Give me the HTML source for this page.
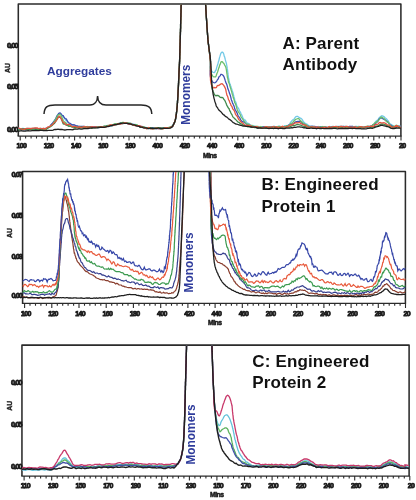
<!DOCTYPE html>
<html><head><meta charset="utf-8"><style>
html,body{margin:0;padding:0;background:#fff;width:416px;height:500px;overflow:hidden}
svg{display:block;will-change:transform;filter:blur(0.3px)}
text{font-family:"Liberation Sans",sans-serif;font-weight:bold}
.title{font-size:17px;fill:#111;letter-spacing:0.15px}
.agg{font-size:11.8px;fill:#2f3c9c}
.mono{font-size:11.9px;fill:#2f3c9c}
.tl{font-size:7px;fill:#1a1a1a;stroke:#1a1a1a;stroke-width:0.75px;text-anchor:middle;letter-spacing:-0.65px}
.yl{font-size:7.5px;fill:#1a1a1a;stroke:#1a1a1a;stroke-width:0.8px;text-anchor:end;letter-spacing:-1px}
.au{font-size:7px;fill:#1a1a1a;stroke:#1a1a1a;stroke-width:0.4px;text-anchor:middle}
.mins{font-size:6.8px;fill:#1a1a1a;stroke:#1a1a1a;stroke-width:0.5px;letter-spacing:-0.5px}
</style></head><body>
<svg width="416" height="500" viewBox="0 0 416 500">
<defs>
<clipPath id="clipA"><rect x="18.3" y="4.6" width="382.6" height="131.4"/></clipPath>
<clipPath id="clipB"><rect x="22.6" y="172.1" width="382.8" height="131.3"/></clipPath>
<clipPath id="clipC"><rect x="21.95" y="345.7" width="387.15" height="130.3"/></clipPath>
</defs>
<path d="M18.3,136 L18.3,4 L400.9,4 L400.9,136" fill="none" stroke="#2b2b2b" stroke-width="1.55" stroke-linejoin="round"/>
<path d="M17.6,136 L401.59999999999997,136" fill="none" stroke="#2b2b2b" stroke-width="1.25"/>
<path d="M20.2,136 L20.2,140.6 M25.6,136 L25.6,138.4 M31.1,136 L31.1,138.4 M36.5,136 L36.5,138.4 M42.0,136 L42.0,138.4 M47.4,136 L47.4,140.6 M52.8,136 L52.8,138.4 M58.3,136 L58.3,138.4 M63.7,136 L63.7,138.4 M69.2,136 L69.2,138.4 M74.6,136 L74.6,140.6 M80.0,136 L80.0,138.4 M85.5,136 L85.5,138.4 M90.9,136 L90.9,138.4 M96.4,136 L96.4,138.4 M101.8,136 L101.8,140.6 M107.2,136 L107.2,138.4 M112.7,136 L112.7,138.4 M118.1,136 L118.1,138.4 M123.6,136 L123.6,138.4 M129.0,136 L129.0,140.6 M134.4,136 L134.4,138.4 M139.9,136 L139.9,138.4 M145.3,136 L145.3,138.4 M150.8,136 L150.8,138.4 M156.2,136 L156.2,140.6 M161.6,136 L161.6,138.4 M167.1,136 L167.1,138.4 M172.5,136 L172.5,138.4 M178.0,136 L178.0,138.4 M183.4,136 L183.4,140.6 M188.8,136 L188.8,138.4 M194.3,136 L194.3,138.4 M199.7,136 L199.7,138.4 M205.2,136 L205.2,138.4 M210.6,136 L210.6,140.6 M216.0,136 L216.0,138.4 M221.5,136 L221.5,138.4 M226.9,136 L226.9,138.4 M232.4,136 L232.4,138.4 M237.8,136 L237.8,140.6 M243.2,136 L243.2,138.4 M248.7,136 L248.7,138.4 M254.1,136 L254.1,138.4 M259.6,136 L259.6,138.4 M265.0,136 L265.0,140.6 M270.4,136 L270.4,138.4 M275.9,136 L275.9,138.4 M281.3,136 L281.3,138.4 M286.8,136 L286.8,138.4 M292.2,136 L292.2,140.6 M297.6,136 L297.6,138.4 M303.1,136 L303.1,138.4 M308.5,136 L308.5,138.4 M314.0,136 L314.0,138.4 M319.4,136 L319.4,140.6 M324.8,136 L324.8,138.4 M330.3,136 L330.3,138.4 M335.7,136 L335.7,138.4 M341.2,136 L341.2,138.4 M346.6,136 L346.6,140.6 M352.0,136 L352.0,138.4 M357.5,136 L357.5,138.4 M362.9,136 L362.9,138.4 M368.4,136 L368.4,138.4 M373.8,136 L373.8,140.6 M379.2,136 L379.2,138.4 M384.7,136 L384.7,138.4 M390.1,136 L390.1,138.4 M395.6,136 L395.6,138.4 M401.0,136 L401.0,140.6" stroke="#2b2b2b" stroke-width="1.1" fill="none"/>
<text x="21.4" y="147.6" class="tl">100</text>
<text x="48.6" y="147.6" class="tl">120</text>
<text x="75.8" y="147.6" class="tl">140</text>
<text x="103.0" y="147.6" class="tl">160</text>
<text x="130.2" y="147.6" class="tl">180</text>
<text x="157.4" y="147.6" class="tl">400</text>
<text x="184.6" y="147.6" class="tl">420</text>
<text x="211.8" y="147.6" class="tl">440</text>
<text x="239.0" y="147.6" class="tl">460</text>
<text x="266.2" y="147.6" class="tl">200</text>
<text x="293.4" y="147.6" class="tl">220</text>
<text x="320.6" y="147.6" class="tl">240</text>
<text x="347.8" y="147.6" class="tl">260</text>
<text x="375.0" y="147.6" class="tl">280</text>
<text x="402.2" y="147.6" class="tl">20</text>
<text x="17.5" y="47.6" class="yl">0.00</text>
<text x="17.5" y="89.4" class="yl">0.05</text>
<text x="17.5" y="131.6" class="yl">0.00</text>
<text transform="translate(10.3,68) rotate(-90)" class="au">AU</text>
<text x="203" y="158" class="mins">Mins</text>
<g clip-path="url(#clipA)">
<path d="M18.0,128.5 18.1,128.5 18.4,128.5 18.9,128.4 19.5,128.3 20.3,128.6 21.2,129.0 22.2,128.5 23.3,128.4 24.5,128.9 25.8,128.7 27.1,128.3 28.5,128.5 29.8,128.6 31.2,128.3 32.5,128.7 33.8,128.3 35.1,128.2 36.2,128.4 37.3,128.8 38.4,129.1 39.2,129.0 40.0,128.5 41.2,128.3 42.3,128.5 43.3,129.0 44.3,129.2 45.1,129.4 46.0,129.0 47.1,128.3 48.1,127.6 49.1,127.5 50.0,126.6 50.8,125.1 51.5,125.1 52.2,124.2 53.0,122.7 53.7,121.6 54.4,120.5 54.9,119.8 55.5,119.0 56.0,118.5 56.6,117.0 57.1,115.7 57.6,115.2 58.2,114.5 58.7,113.9 59.3,113.5 60.0,113.5 60.8,114.2 61.6,115.0 62.4,115.5 63.2,116.5 64.0,117.6 64.7,118.6 65.4,119.8 66.2,120.4 66.9,121.0 67.7,121.6 68.4,122.6 69.2,123.3 70.0,123.8 71.0,124.1 71.9,124.6 72.9,125.5 73.9,125.8 74.9,125.9 76.0,125.7 77.0,126.0 78.0,126.3 79.1,126.3 80.1,126.6 81.2,126.9 82.3,126.8 83.3,126.5 84.4,126.4 85.5,127.2 86.6,126.9 87.7,126.4 88.8,126.9 90.0,127.3 90.9,127.3 91.9,126.8 92.9,126.9 93.9,127.1 94.9,126.7 96.0,126.8 97.0,127.4 98.0,127.5 99.0,127.4 100.0,127.1 101.0,127.3 102.1,127.2 103.1,126.6 104.1,126.6 105.0,126.7 106.0,126.5 107.0,126.3 108.0,126.1 109.0,125.8 110.0,125.7 111.0,125.8 112.0,125.8 113.0,125.5 114.0,124.8 115.0,124.6 116.0,124.5 117.1,123.7 118.1,123.6 119.2,123.9 120.3,123.7 121.4,123.7 122.5,123.8 123.6,123.6 124.6,123.1 125.7,122.8 126.7,123.0 127.8,123.4 128.8,123.7 129.9,123.2 130.9,123.7 132.0,124.2 133.0,124.1 134.0,124.3 135.0,124.5 136.1,124.7 137.1,125.5 138.1,126.2 139.1,125.9 140.0,126.0 141.0,126.4 142.0,126.8 142.9,127.4 143.8,128.1 144.9,127.7 146.0,127.5 146.8,127.9 147.7,128.1 148.7,128.3 149.7,128.6 150.7,128.8 151.8,128.8 152.9,128.8 154.0,128.6 155.0,128.0 156.1,128.0 157.1,128.1 158.2,128.0 159.1,128.4 160.0,128.8 161.1,128.9 162.2,128.4 163.3,127.7 164.3,127.7 165.3,127.7 166.3,127.8 167.2,127.7 168.0,127.6 169.3,127.7 170.5,127.6 171.5,127.0 172.2,126.0 172.9,124.9 173.5,123.9 174.0,123.4 174.5,122.3 174.8,121.4 175.2,120.5 175.5,119.7 175.7,118.7 175.8,117.6 176.0,116.6 176.1,115.5 176.3,114.6 176.4,113.7 176.5,112.5 176.7,110.8 176.8,110.2 176.9,109.7 177.0,108.4 177.1,107.6 177.2,106.7 177.3,105.7 177.3,104.5 177.4,103.2 177.5,102.1 177.5,101.0 177.6,99.7 177.7,99.0 177.7,98.2 177.8,96.6 177.9,95.4 177.9,94.4 178.0,93.5 178.0,92.5 178.1,91.4 178.1,90.6 178.2,89.7 178.3,88.3 178.3,87.2 178.4,86.2 178.4,85.3 178.5,84.3 178.5,83.3 178.6,82.6 178.6,81.6 178.6,80.3 178.7,79.9 178.7,79.5 178.8,78.3 178.8,76.9 178.9,75.5 178.9,74.6 178.9,73.7 179.0,72.8 179.0,71.9 179.1,71.0 179.1,70.0 179.2,69.0 179.2,68.7 179.3,68.2 179.3,67.4 179.4,66.1 179.4,64.6 179.5,63.6 179.5,62.2 179.6,60.7 179.6,59.4 179.6,58.9 179.7,58.3 179.7,57.5 179.7,56.7 179.7,56.1 179.8,55.7 179.8,54.4 179.8,53.0 179.9,51.9 179.9,51.2 179.9,51.1 179.9,49.9 180.0,48.4 180.0,47.0 180.0,46.1 180.1,45.2 180.1,43.5 180.1,42.8 180.2,42.1 180.2,41.5 180.2,40.2 180.3,38.9 180.3,37.5 180.3,35.8 180.4,34.7 180.4,33.4 180.4,32.2 180.5,31.7 180.5,30.4 180.5,29.2 180.6,28.2 180.6,26.6 180.6,25.2 180.6,24.2 180.7,23.7 180.7,22.7 180.7,21.6 180.8,20.4 180.8,19.3 180.8,18.2 180.9,17.1 180.9,16.0 180.9,14.7 180.9,13.2 181.0,12.5 181.0,11.7 181.0,10.7 181.0,9.6 181.1,8.4 181.1,7.5 181.1,6.7 181.1,6.1 181.1,5.5 181.2,4.9 181.2,4.3 181.2,3.6 181.2,2.8 181.3,1.8 181.3,-0.0 181.4,-1.3 181.4,-2.1 181.4,-3.1 181.5,-4.0 181.5,-4.7 181.5,-5.3 181.5,-5.5" stroke="#72c9e6" stroke-width="1.3" fill="none"/>
<path d="M205.0,-6.4 205.0,-6.4 205.0,-6.2 205.0,-6.0 205.0,-5.7 205.1,-5.3 205.1,-4.8 205.1,-4.3 205.2,-3.7 205.2,-3.0 205.2,-2.2 205.3,-1.3 205.3,-0.1 205.4,1.2 205.5,2.4 205.5,3.4 205.6,4.3 205.6,5.1 205.7,6.4 205.8,7.7 205.9,8.9 205.9,9.3 206.0,11.2 206.1,12.9 206.2,14.3 206.3,15.5 206.3,16.8 206.4,17.8 206.5,18.7 206.6,20.5 206.7,21.9 206.8,23.0 206.9,24.9 206.9,26.4 207.0,27.2 207.1,28.2 207.2,29.6 207.3,31.4 207.4,32.4 207.5,33.0 207.5,33.7 207.6,34.8 207.7,35.8 207.8,37.0 207.9,38.6 207.9,39.7 208.0,40.5 208.1,41.1 208.2,42.1 208.3,44.0 208.5,45.3 208.6,46.3 208.7,47.0 208.8,47.8 209.0,48.8 209.1,50.0 209.2,50.6 209.4,51.3 209.5,52.2 209.6,53.8 209.7,55.4 209.8,56.1 209.9,56.8 210.0,57.5 210.1,58.6 210.2,59.7 210.3,60.4 210.4,61.2 210.4,62.8 210.4,64.0 210.4,64.8 210.4,65.3 210.4,66.3 210.4,67.3 210.5,68.2 210.7,69.0 211.0,69.6 211.6,70.9 212.5,72.0 213.3,72.3 214.2,72.6 214.6,72.4 214.9,72.0 215.3,71.1 215.7,70.3 216.1,70.1 216.4,68.6 216.8,67.1 217.2,65.9 217.6,64.7 218.0,63.6 218.4,61.6 218.8,60.8 219.2,59.0 219.5,57.6 219.9,56.4 220.3,55.1 220.7,53.7 221.0,53.0 221.3,52.7 221.7,52.4 222.0,52.2 222.5,52.2 222.9,52.5 223.3,53.1 223.8,54.2 224.2,56.2 224.6,56.7 224.9,58.0 225.3,59.7 225.7,61.1 226.0,62.1 226.2,62.7 226.4,63.5 226.6,64.6 226.8,65.7 227.0,66.7 227.1,68.0 227.3,68.9 227.4,69.2 227.6,70.6 227.7,71.8 227.8,72.6 228.0,73.7 228.1,74.9 228.3,76.5 228.4,77.3 228.6,78.1 228.8,79.1 229.0,80.2 229.3,81.5 229.5,82.7 229.8,83.5 230.2,84.2 230.5,85.4 230.8,86.3 231.1,87.3 231.4,88.2 231.8,89.3 232.1,90.4 232.4,91.2 232.7,92.0 233.0,93.0 233.3,94.1 233.6,95.3 233.9,96.7 234.2,97.6 234.5,98.5 234.7,99.7 235.0,100.7 235.3,101.6 235.7,101.9 236.0,102.8 236.4,104.2 236.8,105.6 237.2,106.7 237.7,107.4 238.1,107.7 238.6,108.6 239.1,109.7 239.5,111.0 240.0,111.6 240.5,112.4 240.9,113.5 241.4,114.3 241.9,115.2 242.4,116.6 242.9,117.7 243.4,118.6 244.0,119.5 244.6,120.1 245.3,120.2 246.0,121.4 246.7,122.4 247.4,123.1 248.2,123.3 249.0,123.6 249.9,124.8 250.9,125.6 251.9,126.0 252.9,125.5 254.0,126.1 255.0,126.8 256.0,126.5 257.0,126.6 257.9,126.8 258.9,127.4 259.8,127.7 260.9,127.6 262.0,127.1 262.8,126.6 263.8,126.9 264.7,127.1 265.7,127.1 266.8,127.0 267.9,126.8 268.9,126.6 270.0,126.6 271.1,126.8 272.1,127.1 273.1,126.7 274.1,126.2 275.0,126.6 276.2,126.8 277.4,126.6 278.5,126.2 279.6,126.4 280.7,126.7 281.7,126.9 282.7,126.8 283.8,126.4 284.8,125.8 285.8,126.1 286.8,126.5 287.7,125.9 288.5,125.4 289.2,124.9 289.9,123.5 290.6,122.2 291.3,121.5 292.0,120.6 292.7,119.9 293.5,119.9 294.4,118.6 295.2,117.4 296.0,116.5 296.9,116.3 297.7,116.4 298.5,117.0 299.4,117.6 300.2,118.2 301.0,118.4 301.9,119.1 302.7,120.4 303.4,121.7 304.1,122.2 304.8,122.9 305.5,123.8 306.2,123.9 306.9,124.2 307.7,124.7 308.6,125.6 309.6,126.4 310.6,126.3 311.6,126.2 312.7,126.1 313.6,127.0 314.6,127.5 315.5,127.3 316.5,127.3 317.6,127.4 318.7,126.6 320.0,127.2 320.7,127.5 321.5,127.0 322.3,126.6 323.2,127.3 324.1,127.5 325.1,127.1 326.1,126.9 327.1,126.9 328.2,127.1 329.2,127.3 330.3,127.6 331.4,126.9 332.5,126.5 333.6,126.5 334.7,126.9 335.8,126.7 337.0,126.4 338.0,126.3 339.1,126.3 340.2,126.3 341.2,126.2 342.2,126.3 343.2,126.4 344.1,126.5 345.0,126.5 346.1,126.5 347.2,127.0 348.3,127.0 349.4,126.6 350.5,126.8 351.5,126.8 352.5,126.5 353.6,126.7 354.5,126.7 355.5,126.4 356.5,126.5 357.4,126.7 358.3,126.5 359.2,126.5 360.0,127.1 361.2,127.3 362.4,127.1 363.5,126.6 364.6,126.7 365.6,127.0 366.6,127.3 367.6,126.8 368.6,126.0 369.6,126.5 370.6,126.4 371.5,125.7 372.4,125.2 373.1,124.8 373.8,124.4 374.5,123.5 375.2,122.2 375.8,121.5 376.5,120.8 377.2,120.2 378.0,119.7 378.8,118.3 379.6,117.2 380.4,116.8 381.2,116.1 382.0,115.8 382.8,116.0 383.6,116.4 384.4,117.0 385.2,117.9 386.0,118.6 386.8,119.3 387.5,120.1 388.2,120.9 388.8,122.1 389.5,123.6 390.2,123.9 390.9,124.3 391.6,124.8 392.6,125.2 393.8,126.1 395.0,127.1 395.9,127.3 396.4,127.2 396.2,126.7 396.0,126.2 396.6,126.0 397.9,125.8 399.3,126.0 400.5,126.3 401.0,126.5" stroke="#72c9e6" stroke-width="1.3" fill="none"/>
<path d="M18.0,129.0 18.1,129.0 18.4,128.9 18.9,128.8 19.5,128.6 20.3,128.8 21.2,129.0 22.2,128.9 23.3,129.1 24.5,129.8 25.8,129.8 27.1,129.4 28.5,129.0 29.8,129.2 31.2,129.6 32.5,128.9 33.8,128.9 35.1,128.6 36.2,128.6 37.3,129.0 38.4,129.0 39.2,129.1 40.0,129.1 41.2,128.9 42.3,128.8 43.3,129.1 44.3,128.9 45.1,128.4 46.0,128.4 47.1,128.1 48.1,127.4 49.1,127.0 50.0,126.2 50.7,125.2 51.3,124.5 51.9,123.8 52.6,123.2 53.2,122.3 53.8,121.5 54.4,120.9 54.9,120.0 55.5,119.1 56.0,118.1 56.5,116.9 57.1,115.9 57.6,115.0 58.2,114.4 58.7,113.5 59.3,113.0 60.0,112.9 60.8,113.4 61.6,114.6 62.4,115.6 63.2,115.7 64.0,117.2 64.7,118.0 65.4,118.7 66.2,118.9 66.9,120.1 67.7,121.6 68.4,122.5 69.2,123.0 70.0,123.4 70.9,124.1 71.9,124.7 72.9,124.9 73.9,124.6 74.9,125.1 76.0,125.6 77.0,125.8 78.0,126.2 79.1,126.5 80.1,126.5 81.2,126.5 82.3,126.5 83.3,126.4 84.4,126.7 85.5,127.1 86.6,127.1 87.7,127.3 88.8,127.2 90.0,126.8 90.9,126.7 91.9,126.7 92.9,126.8 93.9,126.9 94.9,127.0 96.0,126.7 97.0,127.1 98.0,127.6 99.0,127.3 100.0,127.1 101.0,127.1 102.1,127.0 103.1,126.9 104.1,126.9 105.0,126.6 106.0,126.2 107.0,125.6 108.0,125.7 109.0,126.3 110.0,126.0 111.0,125.7 112.0,125.2 113.0,125.0 114.0,124.8 115.0,124.7 116.0,124.1 117.1,123.6 118.1,124.1 119.2,123.6 120.3,123.0 121.4,122.6 122.5,122.7 123.6,122.9 124.6,123.3 125.7,122.9 126.7,123.0 127.8,123.7 128.8,124.1 129.9,124.3 130.9,124.1 132.0,124.2 133.0,124.4 134.0,124.8 135.0,125.2 136.1,125.7 137.1,126.1 138.1,126.2 139.1,126.4 140.0,126.7 141.0,126.6 142.0,126.4 142.9,126.8 143.8,127.1 144.9,127.4 146.0,128.1 146.8,128.3 147.7,128.0 148.7,128.1 149.7,128.4 150.7,127.8 151.8,127.6 152.9,127.6 154.0,127.8 155.0,128.1 156.1,128.5 157.1,128.5 158.2,128.5 159.1,128.5 160.0,128.2 161.1,127.9 162.2,128.2 163.3,128.2 164.3,128.2 165.3,128.1 166.3,127.9 167.2,127.6 168.0,128.0 169.3,128.1 170.5,127.1 171.5,127.4 172.2,127.0 172.9,126.0 173.5,124.1 174.0,123.1 174.5,122.5 174.8,121.8 175.2,120.9 175.5,119.4 175.7,118.2 175.8,117.1 176.0,116.1 176.1,115.1 176.3,114.4 176.4,114.1 176.5,112.4 176.7,111.1 176.8,110.3 176.9,108.8 177.0,107.7 177.1,107.1 177.2,106.6 177.3,105.8 177.3,104.1 177.4,103.1 177.5,102.7 177.5,101.4 177.6,100.4 177.7,99.7 177.7,98.6 177.8,97.2 177.9,95.7 177.9,95.1 178.0,94.5 178.0,93.1 178.1,91.6 178.1,90.3 178.2,89.3 178.3,88.4 178.3,87.9 178.4,86.9 178.4,85.8 178.5,84.6 178.5,83.5 178.6,82.4 178.6,81.6 178.6,80.7 178.7,79.7 178.7,79.1 178.8,78.3 178.8,76.5 178.9,75.7 178.9,75.4 178.9,74.5 179.0,73.3 179.0,71.8 179.1,71.1 179.1,70.9 179.2,69.9 179.2,68.9 179.3,68.1 179.3,67.1 179.4,65.5 179.4,64.4 179.5,63.4 179.5,62.3 179.6,61.7 179.6,60.5 179.6,59.5 179.7,58.6 179.7,57.7 179.7,56.8 179.7,56.0 179.8,55.1 179.8,54.1 179.8,53.0 179.9,51.9 179.9,50.9 179.9,50.3 179.9,50.0 180.0,48.5 180.0,47.4 180.0,47.0 180.1,45.3 180.1,43.8 180.1,42.7 180.2,41.8 180.2,40.6 180.2,39.2 180.3,38.2 180.3,37.6 180.3,36.8 180.4,35.5 180.4,34.2 180.4,32.9 180.5,31.7 180.5,30.8 180.5,29.7 180.6,28.2 180.6,26.8 180.6,25.9 180.6,24.0 180.7,23.0 180.7,22.4 180.7,21.0 180.8,20.0 180.8,19.1 180.8,18.0 180.9,16.6 180.9,15.3 180.9,14.0 180.9,13.5 181.0,13.3 181.0,11.6 181.0,10.3 181.0,9.7 181.1,9.0 181.1,8.0 181.1,7.2 181.1,6.4 181.1,5.8 181.2,5.4 181.2,5.0 181.2,4.5 181.2,2.9 181.3,0.9 181.3,-0.0 181.4,-1.8 181.4,-2.8 181.4,-3.8 181.5,-4.9 181.5,-5.7 181.5,-6.2 181.5,-6.4" stroke="#4050b4" stroke-width="1.3" fill="none"/>
<path d="M205.0,-6.5 205.0,-6.5 205.0,-6.3 205.0,-6.1 205.0,-5.7 205.1,-5.3 205.1,-4.8 205.1,-3.9 205.2,-2.9 205.2,-2.0 205.2,-1.6 205.3,-1.0 205.3,-0.4 205.4,0.7 205.5,2.3 205.5,3.6 205.6,4.5 205.6,5.0 205.7,5.8 205.8,6.9 205.9,8.1 205.9,9.3 206.0,10.8 206.1,12.0 206.2,13.2 206.3,14.7 206.3,16.1 206.4,17.8 206.5,19.5 206.6,20.9 206.7,22.0 206.8,23.0 206.9,24.3 206.9,25.8 207.0,26.9 207.1,28.1 207.2,29.2 207.3,30.1 207.4,31.6 207.5,33.3 207.5,34.7 207.6,34.9 207.7,36.1 207.8,37.4 207.9,38.4 207.9,39.5 208.0,40.5 208.1,41.2 208.2,41.9 208.3,43.1 208.5,44.2 208.6,45.3 208.7,46.5 208.9,47.5 209.0,48.7 209.1,50.2 209.2,51.2 209.4,52.0 209.5,53.0 209.6,53.6 209.7,53.8 209.8,54.5 209.9,55.5 210.0,57.0 210.1,58.4 210.2,59.6 210.3,60.3 210.4,61.0 210.4,62.2 210.4,63.0 210.4,63.6 210.4,65.2 210.3,66.8 210.3,68.3 210.3,69.4 210.2,70.5 210.2,71.7 210.2,72.9 210.2,73.2 210.2,73.8 210.2,74.6 210.3,75.5 210.4,76.4 210.6,77.4 210.8,78.4 211.0,79.1 211.6,80.4 212.3,81.7 213.1,82.3 213.9,82.7 214.8,82.8 215.4,82.5 216.0,82.0 216.7,81.1 217.4,79.8 218.2,78.8 218.9,77.0 219.6,76.4 220.3,75.6 220.9,74.3 221.5,74.3 222.0,74.5 222.6,74.9 223.2,75.4 223.6,76.1 224.1,77.0 224.5,78.2 225.0,79.7 225.3,80.9 225.7,82.0 226.0,83.0 226.4,83.5 226.7,84.2 227.0,85.2 227.4,86.7 227.7,88.0 228.0,89.1 228.4,90.0 228.7,90.8 229.0,91.6 229.4,93.1 229.7,93.9 230.0,94.4 230.4,95.7 230.7,96.9 231.0,98.1 231.3,99.5 231.7,100.6 232.0,101.2 232.4,102.5 232.7,103.4 233.1,104.0 233.4,104.8 233.8,105.6 234.2,106.6 234.6,108.3 235.0,109.6 235.4,110.3 235.9,110.9 236.4,111.6 236.9,112.6 237.4,114.1 237.9,115.3 238.5,116.3 239.0,116.9 239.6,117.7 240.2,118.7 240.9,120.0 241.6,121.0 242.3,121.6 243.0,121.7 243.9,122.1 244.8,122.8 245.8,123.7 246.9,124.4 248.0,125.1 248.9,125.5 249.9,125.3 250.9,125.9 251.9,126.6 253.0,126.8 254.0,126.8 255.0,126.8 256.0,126.7 257.0,127.1 258.0,127.9 258.9,127.4 259.9,127.1 260.9,127.6 262.0,127.3 262.8,126.9 263.8,126.9 264.7,127.0 265.7,127.5 266.8,127.3 267.9,127.1 268.9,127.7 270.0,127.5 271.1,127.0 272.1,126.7 273.1,126.6 274.1,126.6 275.0,126.8 276.2,127.0 277.4,127.3 278.5,127.6 279.6,127.1 280.7,126.6 281.7,126.8 282.7,126.6 283.8,126.6 284.8,127.2 285.8,126.9 286.7,125.9 287.7,125.5 288.7,125.0 289.7,124.5 290.7,124.2 291.7,124.1 292.7,123.8 293.7,123.2 294.7,122.4 295.7,121.9 296.7,121.7 297.7,121.5 298.7,121.3 299.7,121.1 300.7,121.6 301.7,122.8 302.7,123.8 303.7,124.2 304.7,124.1 305.7,124.9 306.7,125.9 307.7,126.0 308.7,126.3 309.6,126.4 310.6,126.5 311.6,126.5 312.7,126.4 313.6,126.4 314.6,126.4 315.5,126.7 316.5,126.9 317.6,127.1 318.7,127.8 320.0,127.2 320.7,126.9 321.5,127.5 322.3,127.9 323.2,127.3 324.1,126.9 325.1,127.0 326.1,127.4 327.1,127.8 328.2,127.7 329.2,127.5 330.3,127.1 331.4,126.6 332.5,126.8 333.6,127.1 334.7,127.0 335.8,127.4 337.0,127.5 338.0,126.7 339.1,126.7 340.2,127.0 341.2,127.5 342.2,126.9 343.2,126.4 344.1,126.7 345.0,127.0 346.1,127.5 347.2,127.4 348.3,127.1 349.4,126.4 350.5,126.4 351.5,126.5 352.5,126.5 353.6,127.3 354.5,127.6 355.5,127.0 356.5,127.2 357.4,127.7 358.3,127.8 359.2,127.8 360.0,127.4 361.2,127.0 362.4,127.1 363.5,127.8 364.6,127.6 365.6,127.2 366.6,126.8 367.6,126.8 368.9,126.9 370.1,126.3 371.3,125.9 372.4,125.2 373.2,124.6 374.0,124.7 374.8,124.3 375.6,123.5 376.4,122.4 377.2,121.9 378.0,121.1 378.8,119.3 379.6,118.6 380.4,118.2 381.2,117.9 382.0,118.0 382.8,118.6 383.6,119.1 384.4,119.7 385.2,119.9 386.0,120.4 386.8,121.1 387.6,122.0 388.4,122.9 389.2,123.9 390.0,125.2 390.8,125.1 391.6,125.5 392.9,126.8 394.5,127.1 395.7,127.5 396.4,127.4 396.2,126.9 396.0,126.4 396.6,126.3 397.9,126.3 399.3,126.3 400.5,126.6 401.0,126.7" stroke="#4050b4" stroke-width="1.3" fill="none"/>
<path d="M18.0,129.7 18.1,129.7 18.4,129.5 18.9,129.2 19.5,128.7 20.3,128.8 21.2,128.9 22.2,129.4 23.3,129.4 24.5,128.9 25.8,128.7 27.1,128.6 28.5,129.1 29.8,129.3 31.2,129.3 32.5,130.0 33.8,129.9 35.1,130.0 36.2,129.6 37.3,128.9 38.4,128.8 39.2,128.7 40.0,128.7 41.2,129.0 42.3,129.4 43.3,129.6 44.3,129.5 45.1,129.2 46.0,128.9 47.1,128.3 48.1,128.0 49.1,127.5 50.0,126.9 50.8,126.2 51.5,125.5 52.2,124.8 53.0,123.9 53.7,122.7 54.4,121.2 55.0,120.4 55.6,119.8 56.3,118.0 56.9,117.1 57.5,115.8 58.1,115.0 58.7,114.7 59.3,114.3 59.9,114.2 60.4,114.6 61.0,115.5 61.6,116.6 62.1,117.7 62.7,119.0 63.3,120.9 64.0,121.5 64.8,122.0 65.6,122.6 66.4,123.5 67.3,124.8 68.2,125.7 69.1,125.8 70.0,126.0 71.0,126.4 71.9,127.2 72.9,127.4 73.9,127.5 75.0,127.9 76.0,127.6 77.0,126.9 78.0,127.3 79.1,127.7 80.2,128.0 81.2,127.9 82.3,128.0 83.3,128.0 84.4,127.1 85.5,126.8 86.6,127.1 87.7,126.9 88.8,126.8 90.0,127.1 90.9,127.8 91.9,127.8 92.9,127.4 93.9,127.7 94.9,127.7 96.0,127.1 97.0,127.4 98.0,127.5 99.0,127.1 100.0,126.8 101.0,126.6 102.1,127.0 103.1,127.2 104.1,127.3 105.0,126.3 106.0,125.9 107.0,126.2 108.0,126.2 109.0,125.9 110.0,125.3 111.0,125.1 112.0,125.0 113.0,124.5 114.0,124.2 115.0,124.0 116.0,123.9 117.1,123.9 118.1,124.0 119.2,123.9 120.3,123.4 121.4,122.8 122.5,122.5 123.6,122.5 124.6,122.8 125.7,123.2 126.7,123.2 127.8,122.9 128.8,123.2 129.9,123.5 130.9,123.7 132.0,124.5 133.0,124.8 134.0,124.8 135.0,124.6 136.1,124.7 137.1,125.1 138.1,125.7 139.1,126.2 140.0,126.6 141.0,126.9 142.0,127.1 142.9,126.9 143.8,127.0 144.9,127.4 146.0,128.1 146.8,128.2 147.7,128.1 148.7,128.0 149.7,127.9 150.7,128.0 151.8,128.4 152.9,128.9 154.0,128.2 155.0,128.2 156.1,128.3 157.1,128.1 158.2,128.0 159.1,128.1 160.0,128.5 161.1,128.8 162.2,128.9 163.3,128.4 164.3,127.9 165.3,127.8 166.3,128.1 167.2,128.4 168.0,127.9 169.3,127.2 170.5,127.0 171.5,127.4 172.2,126.6 172.9,125.4 173.5,124.9 174.0,123.6 174.5,122.5 174.8,122.0 175.2,120.4 175.5,118.7 175.7,117.7 175.8,116.7 176.0,115.8 176.1,115.4 176.3,114.6 176.4,113.7 176.5,112.9 176.7,111.5 176.8,109.7 176.9,109.1 177.0,108.0 177.1,106.9 177.2,106.1 177.3,105.1 177.3,103.8 177.4,102.8 177.5,102.0 177.5,101.2 177.6,100.5 177.7,99.8 177.7,97.9 177.8,96.7 177.9,96.0 177.9,95.3 178.0,94.5 178.0,93.6 178.1,92.0 178.1,90.5 178.2,89.5 178.3,88.9 178.3,88.6 178.4,87.6 178.4,86.4 178.5,84.9 178.5,83.5 178.6,82.5 178.6,82.3 178.6,81.2 178.7,79.8 178.7,79.3 178.8,78.5 178.8,77.2 178.9,76.3 178.9,75.3 178.9,73.7 179.0,72.9 179.0,72.5 179.1,71.3 179.1,70.0 179.2,69.2 179.2,68.5 179.3,68.0 179.3,67.2 179.4,66.2 179.4,64.6 179.5,63.1 179.5,62.1 179.6,61.1 179.6,59.9 179.6,59.3 179.7,58.5 179.7,57.6 179.7,56.7 179.7,55.6 179.8,54.8 179.8,54.0 179.8,53.5 179.9,52.9 179.9,52.1 179.9,50.6 179.9,48.9 180.0,48.4 180.0,47.6 180.0,46.7 180.1,44.9 180.1,44.0 180.1,43.4 180.2,41.5 180.2,40.6 180.2,39.7 180.3,38.5 180.3,37.4 180.3,36.1 180.4,34.7 180.4,33.6 180.4,32.6 180.5,31.4 180.5,30.2 180.5,29.2 180.6,27.9 180.6,26.6 180.6,25.4 180.6,23.8 180.7,23.0 180.7,22.2 180.7,21.0 180.8,19.6 180.8,18.6 180.8,18.1 180.9,17.1 180.9,15.9 180.9,14.6 180.9,13.4 181.0,12.2 181.0,11.6 181.0,10.6 181.0,9.4 181.1,8.5 181.1,7.7 181.1,7.1 181.1,6.5 181.1,5.7 181.2,4.8 181.2,4.1 181.2,3.7 181.2,2.5 181.3,0.9 181.3,-0.7 181.4,-1.4 181.4,-3.2 181.4,-4.0 181.5,-4.4 181.5,-5.0 181.5,-5.4 181.5,-5.6" stroke="#6cbf6c" stroke-width="1.3" fill="none"/>
<path d="M205.0,-6.0 205.0,-6.0 205.0,-5.9 205.0,-5.7 205.0,-5.6 205.1,-5.3 205.1,-5.1 205.1,-4.3 205.2,-3.4 205.2,-2.6 205.2,-1.9 205.3,-1.0 205.3,0.3 205.4,1.2 205.5,1.4 205.5,2.9 205.6,4.5 205.6,5.8 205.7,6.7 205.8,7.8 205.9,9.0 205.9,9.5 206.0,11.5 206.1,12.8 206.2,14.0 206.3,15.7 206.3,17.0 206.4,17.4 206.5,19.2 206.6,21.0 206.7,21.9 206.8,22.6 206.9,24.2 206.9,26.1 207.0,26.8 207.1,28.3 207.2,29.9 207.3,30.5 207.4,32.3 207.5,33.1 207.5,33.8 207.6,35.3 207.7,36.7 207.8,37.8 207.9,38.1 207.9,38.8 208.0,39.6 208.1,41.0 208.2,42.3 208.3,43.2 208.5,44.0 208.6,45.1 208.7,46.3 208.8,47.3 209.0,48.7 209.1,50.4 209.2,51.2 209.4,52.1 209.5,53.2 209.6,53.8 209.7,54.1 209.8,55.5 209.9,56.7 210.0,57.0 210.1,57.8 210.2,59.0 210.3,60.1 210.4,61.3 210.4,62.1 210.4,63.5 210.4,64.9 210.4,65.7 210.3,66.8 210.3,67.9 210.3,69.2 210.4,69.7 210.4,70.1 210.6,71.7 210.7,73.0 211.0,73.4 211.6,74.2 212.3,75.3 213.1,76.7 214.0,76.8 214.8,76.8 215.2,76.9 215.6,76.9 216.1,76.1 216.5,74.8 216.9,73.5 217.4,72.5 217.8,71.3 218.3,69.6 218.7,68.1 219.1,67.4 219.6,65.3 220.0,64.7 220.4,63.8 220.8,62.3 221.2,61.9 221.6,61.7 222.0,61.7 222.6,62.1 223.3,63.0 223.9,63.5 224.5,64.7 225.0,65.7 225.5,66.5 225.8,67.1 226.0,67.9 226.2,68.9 226.4,70.0 226.6,71.3 226.8,72.8 226.9,73.7 227.1,74.7 227.2,75.8 227.4,77.3 227.6,78.1 227.8,78.4 228.0,79.5 228.3,80.8 228.5,82.2 228.8,82.7 229.1,83.3 229.5,84.3 229.8,85.7 230.1,86.8 230.4,87.6 230.8,88.8 231.1,89.9 231.4,90.7 231.7,91.9 232.0,93.1 232.3,94.2 232.6,94.9 232.9,95.8 233.2,97.3 233.5,98.2 233.8,99.0 234.1,99.7 234.4,101.1 234.7,102.6 235.0,102.9 235.4,103.6 235.7,104.6 236.1,105.5 236.4,106.8 236.8,108.3 237.2,109.5 237.6,110.6 238.0,111.4 238.4,112.0 238.9,112.6 239.4,113.4 239.9,114.1 240.4,115.0 240.9,116.5 241.5,117.4 242.0,118.1 242.6,118.8 243.2,119.8 243.9,120.9 244.5,121.5 245.2,122.5 246.0,123.6 246.9,124.1 247.8,124.2 248.9,124.6 249.9,125.7 251.0,125.5 252.0,125.5 253.0,126.3 254.0,126.4 255.1,126.4 256.1,126.4 257.1,126.4 258.0,126.5 259.0,127.3 259.9,127.3 260.9,126.6 262.0,127.1 262.8,127.4 263.6,127.8 264.6,127.7 265.6,126.9 266.6,126.8 267.7,126.9 268.8,127.3 269.9,127.2 271.0,127.2 272.1,127.3 273.1,127.4 274.1,127.3 275.0,126.8 276.2,126.6 277.4,126.7 278.5,126.7 279.6,126.5 280.7,126.7 281.7,127.5 282.7,127.4 283.8,127.2 284.8,127.0 285.8,126.3 286.7,125.7 287.7,126.2 288.6,125.9 289.4,125.3 290.2,124.3 291.0,123.6 291.9,123.2 292.7,122.4 293.7,121.3 294.7,120.3 295.7,119.4 296.7,119.0 297.7,118.7 298.7,118.7 299.7,119.6 300.7,120.8 301.7,121.9 302.7,122.6 303.5,123.3 304.4,124.0 305.2,124.5 306.0,124.7 306.8,125.3 307.7,126.0 308.7,126.3 309.6,126.5 310.6,127.0 311.6,127.0 312.7,126.9 313.6,126.8 314.6,126.9 315.5,127.3 316.5,127.7 317.6,127.7 318.7,126.9 320.0,127.6 320.7,127.6 321.5,127.0 322.3,126.7 323.2,126.9 324.1,126.9 325.1,126.9 326.1,127.3 327.1,127.7 328.2,127.9 329.2,127.8 330.3,127.5 331.4,127.0 332.5,127.4 333.6,127.5 334.7,126.9 335.8,126.8 337.0,127.0 338.0,127.7 339.1,127.4 340.2,127.3 341.2,127.3 342.2,127.3 343.2,127.4 344.1,127.6 345.0,127.4 346.1,127.0 347.2,127.4 348.3,127.5 349.4,127.4 350.5,127.6 351.5,127.4 352.5,127.1 353.6,127.4 354.5,127.5 355.5,127.4 356.5,127.2 357.4,127.0 358.3,126.9 359.2,127.0 360.0,127.3 361.2,127.0 362.4,126.9 363.5,127.8 364.6,127.1 365.6,126.5 366.6,126.3 367.6,126.2 368.9,126.5 370.1,127.1 371.3,126.1 372.4,125.3 373.2,124.6 374.1,123.8 374.8,123.0 375.6,122.4 376.4,122.3 377.2,121.5 378.0,120.7 378.8,120.0 379.6,119.2 380.4,118.0 381.2,117.1 382.0,117.3 382.8,117.8 383.6,118.1 384.4,118.9 385.2,120.2 386.0,121.0 386.8,121.8 387.6,122.4 388.4,122.3 389.2,123.7 389.9,125.0 390.8,125.8 391.6,126.4 392.9,126.3 394.5,126.2 395.7,126.5 396.4,126.4 396.2,125.9 396.0,125.4 396.6,125.3 397.9,126.1 399.3,127.0 400.5,127.3 401.0,127.3" stroke="#6cbf6c" stroke-width="1.3" fill="none"/>
<path d="M18.0,130.1 18.1,130.1 18.4,130.0 18.9,129.9 19.5,129.8 20.3,129.6 21.2,129.3 22.2,129.1 23.3,129.0 24.5,129.1 25.8,129.9 27.1,129.4 28.5,129.3 29.8,129.4 31.2,129.4 32.5,128.9 33.8,129.2 35.1,129.3 36.2,129.6 37.3,129.9 38.4,129.6 39.2,129.4 40.0,129.3 41.2,129.8 42.3,130.2 43.3,129.8 44.3,129.9 45.1,130.1 46.0,129.7 47.1,128.9 48.1,127.6 49.0,127.3 50.0,126.7 50.9,126.2 51.8,125.8 52.7,124.8 53.5,124.0 54.4,123.5 55.1,122.4 55.8,121.0 56.5,120.1 57.2,119.1 57.9,117.4 58.6,117.3 59.3,117.4 59.9,117.2 60.4,117.4 61.0,118.2 61.5,119.3 62.1,120.9 62.7,122.7 63.3,123.9 64.0,124.0 64.9,123.9 65.9,124.9 66.9,125.4 67.9,125.7 69.0,126.3 70.0,126.2 71.0,126.1 72.0,126.6 73.0,126.8 73.9,126.9 75.0,127.5 76.0,127.6 77.0,127.1 78.0,127.8 79.1,127.9 80.2,127.2 81.2,127.0 82.3,127.2 83.3,127.6 84.4,127.5 85.5,127.3 86.6,126.9 87.7,127.4 88.8,127.4 90.0,127.0 90.9,127.6 91.9,127.9 92.9,127.7 93.9,127.7 94.9,127.7 96.0,127.5 97.0,127.2 98.0,126.9 99.0,126.9 100.0,126.8 101.0,126.7 102.1,127.1 103.1,127.0 104.1,126.1 105.0,126.4 106.0,126.7 107.0,125.8 108.0,125.4 109.0,125.4 110.0,125.2 111.0,125.3 112.0,125.7 113.0,125.2 114.0,124.7 115.0,124.3 116.0,124.5 117.1,124.5 118.1,123.6 119.2,123.4 120.3,123.4 121.4,123.3 122.5,123.4 123.6,123.4 124.6,123.4 125.7,123.3 126.7,123.3 127.8,123.1 128.8,123.3 129.9,123.5 130.9,123.5 132.0,124.4 133.0,125.0 134.0,125.1 135.0,125.4 136.1,125.5 137.1,125.2 138.1,125.7 139.1,126.3 140.0,126.8 141.0,127.1 142.0,127.1 142.9,127.0 143.8,127.2 144.9,127.7 146.0,128.4 146.8,128.5 147.7,128.0 148.7,127.8 149.7,127.8 150.7,127.9 151.8,128.2 152.9,128.6 154.0,128.7 155.0,128.4 156.1,127.7 157.1,127.7 158.2,127.7 159.1,127.8 160.0,127.9 161.1,128.0 162.2,128.2 163.3,128.0 164.3,127.7 165.3,127.9 166.3,127.8 167.2,127.6 168.0,128.1 169.3,128.4 170.5,127.8 171.5,126.6 172.2,126.2 172.9,126.1 173.5,124.2 174.0,123.1 174.5,122.5 174.8,122.0 175.2,120.8 175.5,119.4 175.7,118.6 175.8,117.5 176.0,116.3 176.1,115.1 176.3,114.2 176.4,113.6 176.5,112.1 176.7,110.8 176.8,109.8 176.9,108.9 177.0,107.6 177.1,106.4 177.2,105.8 177.3,105.2 177.3,104.5 177.4,103.7 177.5,102.6 177.5,101.4 177.6,100.3 177.7,99.4 177.7,98.2 177.8,96.9 177.9,95.6 177.9,94.8 178.0,94.1 178.0,92.9 178.1,92.0 178.1,91.3 178.2,90.5 178.3,89.4 178.3,87.9 178.4,86.9 178.4,86.1 178.5,85.2 178.5,84.0 178.6,82.8 178.6,81.6 178.6,80.8 178.7,80.2 178.7,79.4 178.8,78.5 178.8,77.4 178.9,76.4 178.9,75.3 178.9,74.5 179.0,73.5 179.0,72.5 179.1,71.5 179.1,70.6 179.2,69.5 179.2,68.5 179.3,67.4 179.3,66.5 179.4,65.8 179.4,64.5 179.5,63.1 179.5,62.3 179.6,61.5 179.6,60.4 179.6,59.6 179.7,58.8 179.7,58.0 179.7,57.0 179.7,55.9 179.8,55.0 179.8,54.3 179.8,53.4 179.9,52.5 179.9,51.7 179.9,50.6 179.9,49.4 180.0,48.6 180.0,47.8 180.0,47.0 180.1,45.2 180.1,43.9 180.1,43.3 180.2,42.3 180.2,40.9 180.2,39.5 180.3,38.4 180.3,37.7 180.3,36.3 180.4,34.3 180.4,33.7 180.4,32.3 180.5,31.2 180.5,30.6 180.5,29.6 180.6,28.2 180.6,26.6 180.6,24.9 180.6,24.3 180.7,23.3 180.7,22.2 180.7,21.3 180.8,20.1 180.8,18.9 180.8,17.9 180.9,17.0 180.9,16.1 180.9,14.7 180.9,13.6 181.0,12.6 181.0,12.1 181.0,11.3 181.0,9.8 181.1,8.8 181.1,8.4 181.1,7.6 181.1,6.6 181.1,5.9 181.2,5.5 181.2,4.9 181.2,4.0 181.2,2.4 181.3,1.7 181.3,-0.5 181.4,-2.2 181.4,-3.2 181.4,-4.1 181.5,-4.9 181.5,-5.8 181.5,-6.3 181.5,-6.6" stroke="#3f8a4c" stroke-width="1.3" fill="none"/>
<path d="M205.0,-6.1 205.0,-6.1 205.0,-5.9 205.0,-5.7 205.0,-5.4 205.1,-5.0 205.1,-4.5 205.1,-3.8 205.2,-3.0 205.2,-2.3 205.2,-1.8 205.3,-1.2 205.3,-0.4 205.4,0.5 205.5,1.4 205.5,2.9 205.6,4.4 205.6,5.7 205.7,6.5 205.8,7.3 205.9,8.3 205.9,10.3 206.0,11.1 206.1,12.1 206.2,13.3 206.3,14.7 206.3,16.8 206.4,18.2 206.5,19.4 206.6,20.5 206.7,21.8 206.8,23.1 206.9,24.1 206.9,26.3 207.0,27.1 207.1,28.3 207.2,29.8 207.3,31.3 207.4,32.5 207.5,33.3 207.5,34.2 207.6,35.1 207.7,36.3 207.8,37.3 207.9,37.9 207.9,38.9 208.0,40.3 208.1,41.3 208.2,42.3 208.3,43.9 208.5,44.5 208.6,45.2 208.7,46.3 208.8,47.2 208.9,48.1 209.0,49.1 209.2,50.1 209.3,50.8 209.4,51.5 209.5,52.3 209.6,53.9 209.8,55.1 209.9,55.7 210.0,56.5 210.1,57.5 210.2,58.6 210.3,59.8 210.4,60.9 210.5,61.8 210.5,62.8 210.6,64.0 210.6,65.2 210.7,66.2 210.8,67.0 210.8,68.5 210.9,70.0 210.9,71.0 210.9,71.4 211.0,72.6 211.0,74.4 211.1,75.7 211.1,76.7 211.2,77.5 211.2,78.0 211.3,79.7 211.4,81.0 211.4,81.9 211.5,82.3 211.6,83.0 211.7,83.9 211.7,85.4 211.9,87.0 212.0,87.7 212.1,88.3 212.2,88.7 212.3,89.1 212.5,89.6 212.9,90.8 213.3,92.0 213.8,93.0 214.3,94.0 215.0,95.2 215.9,95.7 216.9,95.5 217.9,95.5 219.0,96.1 220.0,97.1 221.1,97.5 222.1,97.5 223.1,98.0 224.0,99.6 224.6,100.1 225.1,101.0 225.6,102.2 226.1,103.2 226.5,104.4 227.0,105.6 227.5,106.4 228.0,107.5 228.5,108.2 229.0,108.5 229.5,110.0 230.0,111.2 230.5,111.9 230.9,113.0 231.4,113.9 231.9,114.5 232.4,115.8 232.9,116.8 233.4,117.4 234.0,117.9 234.6,118.5 235.3,119.2 236.0,119.9 236.7,120.6 237.5,121.6 238.2,122.2 239.0,122.4 240.0,123.4 240.9,124.0 241.9,124.1 242.9,124.9 244.0,125.5 244.9,125.8 245.9,126.1 246.8,126.4 247.8,126.9 248.9,126.5 250.0,126.4 250.9,127.2 251.8,127.3 252.7,127.1 253.7,127.3 254.7,127.5 255.7,127.7 256.8,127.9 257.8,128.0 258.9,127.6 259.9,127.6 261.0,127.8 262.0,128.3 263.0,128.0 264.0,127.2 265.0,127.8 266.1,128.0 267.1,128.0 268.2,127.4 269.2,127.2 270.2,127.8 271.2,127.8 272.2,127.9 273.2,128.1 274.1,127.8 275.0,127.3 276.2,127.9 277.4,127.9 278.5,127.5 279.6,127.5 280.7,127.8 281.7,128.0 282.7,127.1 283.8,127.1 284.8,127.7 285.8,127.6 286.7,127.3 287.7,126.9 288.7,127.0 289.7,127.1 290.7,126.3 291.7,125.9 292.7,125.7 293.7,125.5 294.7,125.3 295.7,125.2 296.7,124.5 297.7,124.3 298.7,124.6 299.7,124.8 300.7,125.1 301.7,125.5 302.7,126.0 303.7,126.4 304.7,126.1 305.7,126.7 306.7,127.3 307.7,127.1 308.7,127.2 309.6,127.3 310.6,127.2 311.6,127.2 312.7,127.4 313.6,127.9 314.6,128.3 315.5,128.0 316.5,128.0 317.6,128.2 318.7,127.7 320.0,127.5 320.7,127.5 321.5,127.5 322.3,127.5 323.2,127.7 324.1,127.9 325.1,128.0 326.1,128.0 327.1,128.2 328.2,127.5 329.2,127.3 330.3,128.0 331.4,128.2 332.5,128.1 333.6,127.7 334.7,127.2 335.8,127.1 337.0,127.3 338.0,126.9 339.1,126.9 340.2,127.2 341.2,127.8 342.2,128.0 343.2,127.7 344.1,127.7 345.0,127.8 346.1,127.9 347.2,128.0 348.3,128.1 349.4,127.8 350.5,127.8 351.5,127.8 352.5,127.8 353.6,127.9 354.5,128.0 355.5,127.9 356.5,128.0 357.4,128.0 358.3,127.8 359.2,127.4 360.0,127.7 361.2,127.9 362.4,127.7 363.5,127.9 364.6,127.7 365.6,127.0 366.6,127.0 367.6,126.9 368.9,126.7 370.1,127.5 371.2,127.8 372.4,127.6 373.4,127.1 374.3,126.5 375.3,126.1 376.2,126.1 377.2,126.0 378.4,125.5 379.6,124.8 380.8,124.1 382.0,123.9 383.2,124.1 384.4,124.5 385.6,124.8 386.8,125.3 387.8,125.8 388.7,126.3 389.7,127.0 390.6,127.2 391.6,126.7 393.0,127.2 394.5,127.1 395.7,127.0 396.4,126.9 396.2,126.6 396.0,126.4 396.6,126.8 397.9,126.9 399.3,127.5 400.5,127.7 401.0,127.6" stroke="#3f8a4c" stroke-width="1.3" fill="none"/>
<path d="M18.0,127.9 18.1,127.9 18.4,128.0 18.9,128.2 19.5,128.4 20.3,128.6 21.2,128.8 22.2,129.1 23.3,129.3 24.5,129.3 25.8,128.7 27.1,128.5 28.5,128.3 29.8,128.3 31.2,128.7 32.5,128.2 33.8,128.1 35.1,128.0 36.2,127.9 37.3,128.0 38.4,128.6 39.2,128.7 40.0,128.2 41.2,128.7 42.3,129.1 43.3,128.3 44.2,128.5 45.1,129.1 46.0,128.4 47.1,127.4 48.1,126.8 49.0,126.9 50.0,126.4 50.9,125.3 51.8,125.2 52.7,124.5 53.5,123.3 54.4,122.3 55.0,122.0 55.7,121.6 56.3,120.5 56.9,119.6 57.5,118.6 58.1,117.7 58.7,116.6 59.3,116.1 60.0,116.6 60.6,117.8 61.2,118.9 61.9,119.9 62.5,121.2 63.2,122.5 64.0,122.6 64.9,123.8 65.9,124.6 66.9,124.8 67.9,124.4 69.0,124.4 70.0,124.8 71.0,125.7 72.0,126.4 72.9,126.9 73.9,126.4 75.0,126.3 76.0,126.7 77.0,127.1 78.0,127.3 79.1,126.8 80.2,127.2 81.2,127.6 82.3,127.2 83.3,126.8 84.4,126.5 85.5,126.8 86.6,127.0 87.7,127.1 88.8,126.9 90.0,127.1 90.9,127.1 91.9,126.6 92.9,126.9 93.9,127.4 94.9,127.0 96.0,127.0 97.0,127.3 98.0,127.3 99.0,127.1 100.0,126.9 101.0,126.8 102.1,126.8 103.1,127.1 104.1,127.1 105.0,127.1 106.0,126.8 107.0,126.5 108.0,126.1 109.0,125.7 110.0,125.2 111.0,124.8 112.0,125.2 113.0,125.6 114.0,125.1 115.0,124.9 116.0,124.7 117.1,124.0 118.1,123.8 119.2,123.9 120.3,124.1 121.4,123.9 122.5,123.6 123.6,123.2 124.6,122.9 125.7,122.8 126.7,123.0 127.8,123.6 128.8,124.0 129.9,123.7 130.9,124.1 132.0,124.6 133.0,124.7 134.0,125.2 135.0,125.7 136.1,125.9 137.1,125.7 138.1,125.6 139.1,125.6 140.0,125.9 141.0,126.4 142.0,126.9 142.9,127.3 143.8,127.7 144.9,128.1 146.0,128.5 146.8,128.7 147.7,128.3 148.7,127.6 149.7,128.2 150.7,128.8 151.8,128.8 152.9,128.8 154.0,128.7 155.0,128.4 156.1,128.1 157.1,128.1 158.2,128.6 159.1,128.7 160.0,128.7 161.1,128.5 162.2,128.6 163.3,128.8 164.3,128.2 165.3,127.8 166.3,127.6 167.2,127.8 168.0,128.1 169.3,128.2 170.5,127.4 171.5,126.8 172.2,126.7 172.9,126.0 173.5,124.8 174.0,123.1 174.5,122.5 174.8,121.6 175.2,120.5 175.5,118.9 175.7,117.9 175.8,116.9 176.0,116.0 176.1,115.3 176.3,114.8 176.4,113.9 176.5,112.8 176.7,111.3 176.8,109.9 176.9,108.8 177.0,108.4 177.1,107.5 177.2,106.5 177.3,105.1 177.3,104.0 177.4,103.4 177.5,102.7 177.5,101.8 177.6,100.8 177.7,99.5 177.7,98.2 177.8,97.1 177.9,96.1 177.9,95.1 178.0,93.7 178.0,92.5 178.1,91.5 178.1,90.5 178.2,89.7 178.3,89.2 178.3,88.0 178.4,86.8 178.4,85.9 178.5,84.9 178.5,83.8 178.6,82.9 178.6,81.8 178.6,80.5 178.7,79.3 178.7,78.5 178.8,78.4 178.8,77.4 178.9,75.8 178.9,74.6 178.9,73.6 179.0,73.1 179.0,72.4 179.1,71.7 179.1,70.3 179.2,69.0 179.2,68.5 179.3,67.7 179.3,66.5 179.4,65.6 179.4,64.7 179.5,63.1 179.5,61.8 179.6,60.9 179.6,60.7 179.6,60.0 179.7,59.1 179.7,58.1 179.7,57.0 179.7,56.2 179.8,55.4 179.8,54.3 179.8,53.2 179.9,52.7 179.9,51.8 179.9,50.5 179.9,49.9 180.0,49.1 180.0,47.9 180.0,46.8 180.1,45.8 180.1,44.8 180.1,43.1 180.2,41.4 180.2,40.1 180.2,39.1 180.3,38.0 180.3,36.8 180.3,35.5 180.4,34.3 180.4,33.4 180.4,32.7 180.5,31.9 180.5,30.4 180.5,29.2 180.6,28.5 180.6,27.3 180.6,25.4 180.6,23.9 180.7,23.4 180.7,22.0 180.7,20.7 180.8,19.4 180.8,19.2 180.8,18.0 180.9,16.4 180.9,15.6 180.9,14.8 180.9,13.8 181.0,13.2 181.0,12.3 181.0,11.2 181.0,10.1 181.1,9.0 181.1,8.1 181.1,7.4 181.1,6.5 181.1,5.5 181.2,5.0 181.2,4.9 181.2,4.7 181.2,3.3 181.3,1.0 181.3,-0.8 181.4,-2.1 181.4,-3.1 181.4,-4.1 181.5,-4.6 181.5,-4.9 181.5,-5.2 181.5,-5.4" stroke="#e4553f" stroke-width="1.3" fill="none"/>
<path d="M205.0,-5.5 205.0,-5.5 205.0,-5.4 205.0,-5.4 205.0,-5.3 205.1,-5.2 205.1,-5.1 205.1,-4.1 205.2,-3.1 205.2,-2.1 205.2,-1.4 205.3,-0.7 205.3,0.2 205.4,1.2 205.5,2.5 205.5,2.8 205.6,3.3 205.6,4.5 205.7,6.3 205.8,7.9 205.9,9.2 205.9,10.2 206.0,11.0 206.1,12.4 206.2,14.0 206.3,15.3 206.3,15.8 206.4,17.4 206.5,18.8 206.6,20.0 206.7,21.4 206.8,23.0 206.9,23.9 206.9,25.3 207.0,26.5 207.1,28.2 207.2,29.6 207.3,30.1 207.4,32.1 207.5,33.1 207.5,33.7 207.6,34.7 207.7,36.4 207.8,37.8 207.9,38.1 207.9,39.1 208.0,40.4 208.1,41.8 208.2,42.9 208.3,44.0 208.5,44.4 208.6,45.1 208.7,46.4 208.8,47.2 209.0,48.1 209.1,49.8 209.2,51.0 209.3,51.8 209.5,52.6 209.6,53.3 209.7,54.1 209.8,54.9 209.9,55.8 210.0,57.1 210.1,58.4 210.2,59.1 210.3,60.1 210.4,61.2 210.4,61.7 210.5,62.5 210.5,63.7 210.5,64.6 210.5,66.1 210.5,67.8 210.5,68.8 210.5,69.6 210.4,70.8 210.4,72.7 210.4,73.2 210.4,74.2 210.4,75.4 210.4,76.2 210.4,77.3 210.5,78.5 210.5,80.0 210.6,80.9 210.7,81.4 210.8,82.0 210.9,82.7 211.1,83.5 211.3,84.3 211.5,85.0 212.2,85.9 213.0,87.5 213.9,87.9 214.8,87.4 215.6,87.8 216.4,87.5 217.2,85.7 218.0,85.5 219.0,85.4 220.0,84.6 221.1,83.8 222.0,83.7 222.7,84.3 223.3,84.9 223.9,85.6 224.5,86.6 225.0,87.6 225.4,88.4 225.7,89.4 226.0,90.8 226.3,92.4 226.6,93.6 226.8,94.6 227.1,95.6 227.4,95.8 227.7,96.6 228.0,97.7 228.4,99.4 228.8,100.2 229.2,100.6 229.7,102.3 230.1,103.1 230.6,103.9 231.0,105.5 231.5,106.0 232.0,106.5 232.5,108.3 232.9,109.1 233.5,109.7 234.0,110.5 234.5,111.2 234.9,112.3 235.4,114.0 235.9,114.8 236.4,115.4 236.9,116.0 237.5,116.9 238.0,117.9 238.6,119.3 239.3,120.0 239.9,120.3 240.5,121.5 241.2,122.2 242.0,122.5 242.9,123.2 243.8,124.1 244.8,125.1 245.9,125.4 247.0,125.4 247.9,125.3 248.9,125.4 249.9,125.6 250.9,125.8 251.9,126.5 253.0,126.9 254.0,126.9 255.0,126.8 256.0,126.7 257.0,126.7 257.9,127.1 258.9,127.4 259.9,127.5 260.9,127.7 262.0,127.8 262.9,127.6 263.8,127.3 264.8,127.0 265.8,126.7 266.9,126.6 267.9,127.3 269.0,127.3 270.1,127.0 271.1,127.3 272.1,127.0 273.1,126.4 274.1,127.0 275.0,127.4 276.2,126.8 277.4,127.2 278.5,127.5 279.6,127.5 280.7,127.2 281.7,126.7 282.7,126.3 283.8,127.0 284.8,127.3 285.8,126.8 286.7,126.9 287.7,126.9 288.7,126.0 289.7,125.3 290.7,124.9 291.7,125.1 292.7,124.6 293.7,123.7 294.7,123.1 295.7,122.8 296.7,122.7 297.7,122.8 298.7,122.6 299.7,122.4 300.7,123.4 301.7,124.0 302.7,124.3 303.7,124.8 304.7,125.0 305.7,125.3 306.7,126.3 307.7,126.8 308.7,127.1 309.6,127.3 310.6,127.1 311.6,126.6 312.7,127.1 313.6,127.2 314.6,127.0 315.5,127.2 316.5,127.5 317.6,126.9 318.7,127.1 320.0,127.9 320.7,128.0 321.5,127.9 322.3,127.5 323.2,127.3 324.1,127.3 325.1,127.3 326.1,127.3 327.1,127.3 328.2,127.1 329.2,126.5 330.3,127.4 331.4,127.5 332.5,126.8 333.6,126.7 334.7,126.6 335.8,126.5 337.0,126.7 338.0,127.1 339.1,127.3 340.2,126.5 341.2,126.4 342.2,126.5 343.2,127.0 344.1,127.1 345.0,126.7 346.1,126.4 347.2,126.5 348.3,127.1 349.4,127.2 350.5,127.2 351.5,127.2 352.5,127.3 353.6,127.3 354.5,126.8 355.5,127.1 356.5,127.8 357.4,127.7 358.3,127.5 359.2,126.9 360.0,126.6 361.2,126.7 362.4,127.1 363.5,127.2 364.6,127.1 365.6,126.8 366.6,126.6 367.6,126.4 368.9,126.6 370.1,126.4 371.2,126.2 372.4,126.5 373.4,126.4 374.3,125.8 375.3,124.5 376.2,124.4 377.2,124.3 378.2,124.0 379.1,122.9 380.1,122.5 381.0,122.8 382.0,122.8 383.0,122.8 383.9,122.7 384.9,123.0 385.8,123.6 386.8,124.5 387.8,124.8 388.7,125.1 389.7,125.4 390.6,126.2 391.6,127.0 393.0,127.1 394.5,126.7 395.7,126.7 396.4,126.6 396.2,126.2 396.0,125.7 396.6,125.7 397.9,126.1 399.3,127.2 400.5,127.4 401.0,127.5" stroke="#e4553f" stroke-width="1.3" fill="none"/>
<path d="M18.0,131.2 18.1,131.2 18.4,131.2 18.8,131.2 19.4,131.2 20.2,131.0 21.1,130.7 22.0,130.8 23.1,131.0 24.3,131.2 25.5,131.2 26.8,130.9 28.1,130.7 29.4,130.8 30.8,130.9 32.1,130.7 33.4,130.7 34.7,130.6 35.9,130.4 37.1,130.6 38.2,130.6 39.1,130.6 40.0,130.3 41.2,130.3 42.3,130.4 43.3,130.7 44.3,130.7 45.3,130.6 46.3,130.7 47.2,130.6 48.1,130.4 49.1,130.4 50.0,130.4 51.0,130.4 52.1,130.3 53.1,130.1 54.1,129.7 55.0,129.4 56.0,129.5 57.0,129.4 58.0,129.2 59.0,129.4 59.9,129.5 60.9,129.4 61.9,129.5 62.8,129.7 63.8,129.9 64.9,130.0 66.0,129.9 66.9,129.7 67.9,129.6 69.0,129.7 70.0,129.6 71.1,129.6 72.2,129.8 73.3,129.5 74.4,129.2 75.5,129.2 76.6,129.2 77.7,129.1 78.7,128.8 79.7,128.9 80.8,129.1 81.9,129.2 82.9,128.9 83.9,128.7 85.0,128.6 86.0,128.6 87.0,128.6 88.0,128.5 89.0,128.4 90.0,128.2 91.0,128.1 92.0,128.0 93.0,127.9 94.1,127.9 95.1,127.9 96.1,127.9 97.1,127.8 98.1,127.6 99.0,127.5 100.0,127.4 101.0,127.2 102.1,127.3 103.1,127.3 104.1,127.3 105.0,127.1 106.0,126.8 107.0,126.6 108.0,126.5 109.0,126.3 110.0,125.8 111.0,125.6 112.0,125.6 113.0,125.2 114.0,124.9 115.0,124.7 116.0,124.6 117.1,124.4 118.1,124.1 119.2,123.8 120.3,123.5 121.4,123.3 122.5,123.2 123.6,123.2 124.6,123.3 125.7,123.3 126.7,123.4 127.8,123.7 128.8,123.6 129.9,123.8 130.9,124.2 132.0,124.6 133.0,124.9 134.0,124.8 135.0,125.2 136.1,125.6 137.1,125.9 138.1,126.1 139.1,126.4 140.0,127.0 141.0,127.1 142.0,127.2 142.9,127.6 143.8,127.8 144.9,127.8 146.0,127.9 146.8,128.1 147.7,128.5 148.7,128.6 149.7,128.4 150.7,128.2 151.8,128.3 152.9,128.4 154.0,128.4 155.0,128.5 156.1,128.6 157.1,128.3 158.2,128.2 159.1,128.2 160.0,128.5 161.1,128.7 162.2,128.6 163.3,128.4 164.4,128.3 165.3,128.3 166.3,128.3 167.2,128.3 168.0,128.3 169.3,128.2 170.5,127.8 171.5,127.4 172.2,126.7 172.9,125.7 173.5,124.6 174.0,123.6 174.5,122.6 174.8,121.6 175.2,120.5 175.5,119.1 175.7,118.2 175.8,117.5 176.0,116.6 176.1,115.6 176.3,114.7 176.4,113.7 176.5,112.3 176.7,111.3 176.8,110.4 176.9,108.9 177.0,107.9 177.1,107.3 177.2,106.3 177.3,105.3 177.3,104.3 177.4,103.4 177.5,102.6 177.5,101.4 177.6,100.2 177.7,99.1 177.7,98.3 177.8,97.3 177.9,96.3 177.9,95.1 178.0,94.0 178.0,92.9 178.1,91.9 178.1,90.9 178.2,90.0 178.3,89.0 178.3,88.1 178.4,86.8 178.4,85.8 178.5,84.8 178.5,83.9 178.6,82.9 178.6,81.9 178.6,80.8 178.7,79.9 178.7,79.1 178.8,78.2 178.8,77.2 178.9,76.1 178.9,75.0 178.9,74.0 179.0,73.0 179.0,71.9 179.1,71.1 179.1,70.2 179.2,69.2 179.2,68.4 179.3,67.6 179.3,66.7 179.4,65.8 179.4,64.5 179.5,63.5 179.5,62.8 179.6,61.2 179.6,60.1 179.6,59.5 179.7,58.8 179.7,58.0 179.7,57.3 179.7,56.5 179.8,55.3 179.8,54.2 179.8,53.4 179.9,52.6 179.9,51.8 179.9,50.5 179.9,49.2 180.0,48.2 180.0,47.3 180.0,46.4 180.1,45.3 180.1,44.3 180.1,43.3 180.2,42.1 180.2,40.9 180.2,39.7 180.3,38.8 180.3,37.4 180.3,36.1 180.4,35.0 180.4,33.9 180.4,32.5 180.5,31.3 180.5,30.1 180.5,29.1 180.6,27.8 180.6,26.8 180.6,25.8 180.6,24.5 180.7,23.3 180.7,22.0 180.7,20.7 180.8,19.7 180.8,18.7 180.8,17.7 180.9,16.7 180.9,15.7 180.9,14.7 180.9,13.8 181.0,12.9 181.0,12.0 181.0,11.0 181.0,10.0 181.1,9.0 181.1,8.2 181.1,7.5 181.1,6.8 181.1,6.1 181.2,5.6 181.2,4.9 181.2,4.1 181.2,2.5 181.3,1.3 181.3,-0.1 181.4,-1.8 181.4,-2.9 181.4,-3.7 181.5,-4.4 181.5,-5.1 181.5,-5.6 181.5,-5.8" stroke="#1f1f1f" stroke-width="1.3" fill="none"/>
<path d="M205.0,-6.0 205.0,-6.0 205.0,-5.8 205.0,-5.6 205.0,-5.4 205.1,-5.1 205.1,-4.7 205.1,-3.9 205.2,-3.1 205.2,-2.3 205.2,-1.6 205.3,-0.8 205.3,0.1 205.4,1.1 205.4,2.2 205.5,3.2 205.6,4.1 205.6,5.0 205.7,6.0 205.8,7.2 205.8,8.5 205.9,9.9 206.0,11.1 206.1,12.3 206.1,13.5 206.2,14.9 206.3,16.5 206.4,17.8 206.5,19.0 206.6,20.6 206.7,22.0 206.7,23.1 206.8,24.1 206.9,25.7 207.0,27.2 207.1,28.3 207.2,29.5 207.3,30.9 207.3,31.7 207.4,32.9 207.5,34.2 207.6,35.5 207.7,36.5 207.8,37.4 207.8,38.4 207.9,39.2 208.0,39.8 208.1,41.1 208.2,42.3 208.4,43.5 208.5,44.4 208.6,45.4 208.8,46.6 208.9,47.6 209.0,48.5 209.2,49.7 209.3,50.6 209.4,51.4 209.6,52.2 209.7,53.1 209.8,53.9 209.9,54.7 210.1,55.7 210.2,56.9 210.3,58.1 210.4,58.8 210.5,59.7 210.6,60.7 210.7,61.7 210.7,62.7 210.8,63.9 210.9,65.1 210.9,66.2 211.0,67.1 211.0,68.2 211.1,69.3 211.1,70.0 211.1,71.0 211.2,72.1 211.2,73.5 211.3,74.5 211.3,75.4 211.4,76.7 211.4,77.6 211.5,78.5 211.5,79.4 211.6,80.4 211.6,81.4 211.7,82.3 211.8,83.2 211.8,84.4 211.9,85.4 212.0,86.1 212.1,87.2 212.3,88.2 212.4,89.3 212.6,90.4 212.7,91.3 212.9,92.2 213.0,93.3 213.2,94.6 213.4,95.4 213.6,96.3 213.8,97.3 214.0,98.2 214.3,99.0 214.5,100.2 214.8,101.2 215.1,102.1 215.4,103.0 215.8,104.1 216.1,105.5 216.5,106.4 217.0,107.2 217.6,107.9 218.2,109.0 218.9,110.0 219.6,110.8 220.4,111.3 221.2,112.1 222.0,113.1 222.7,114.0 223.4,114.6 224.2,115.1 225.0,116.0 225.8,116.6 226.6,116.9 227.4,117.6 228.2,118.4 229.0,119.1 229.9,119.6 230.7,120.2 231.6,120.9 232.4,121.9 233.3,122.6 234.2,123.0 235.1,123.7 236.0,124.1 236.9,124.2 237.9,124.5 238.9,124.8 239.8,125.1 240.8,125.3 241.9,125.5 242.9,126.0 244.0,126.1 244.9,126.0 245.9,126.3 246.9,126.4 248.0,126.4 249.0,126.7 250.1,126.9 251.1,127.0 252.1,127.1 253.1,127.2 254.1,127.1 255.0,127.2 256.0,127.4 257.0,127.8 257.9,128.0 258.8,128.0 259.8,128.0 260.8,128.0 262.0,128.1 262.8,128.1 263.7,128.2 264.6,128.2 265.7,128.2 266.7,128.2 267.8,128.3 269.0,128.5 270.2,128.4 271.4,128.3 272.5,128.4 273.7,128.6 274.9,128.2 276.1,128.3 277.2,128.4 278.3,128.7 279.3,128.4 280.3,128.2 281.2,128.3 282.0,128.4 282.7,128.6 283.9,128.6 284.9,128.5 285.9,128.2 286.8,128.1 287.7,128.1 288.7,128.1 289.7,128.1 290.7,127.8 291.7,127.7 292.7,127.8 293.7,127.3 294.7,127.1 295.7,127.3 296.7,127.1 297.7,126.9 298.7,126.8 299.7,126.9 300.7,127.1 301.7,127.2 302.7,127.4 303.7,127.8 304.7,127.7 305.7,127.9 306.7,128.3 307.7,128.4 308.7,128.3 309.7,128.3 310.6,128.2 311.6,128.2 312.7,128.4 313.6,128.4 314.5,128.3 315.5,128.4 316.5,128.7 317.5,128.4 318.7,128.3 320.0,128.5 320.7,128.5 321.4,128.5 322.2,128.4 323.0,128.4 323.9,128.6 324.8,128.7 325.8,128.5 326.7,128.5 327.8,128.7 328.8,128.6 329.8,128.5 330.9,128.4 332.0,128.5 333.1,128.4 334.2,128.3 335.3,128.3 336.5,128.6 337.6,128.8 338.7,128.5 339.8,128.6 340.9,128.6 342.0,128.3 343.1,128.5 344.2,128.6 345.2,128.5 346.2,128.6 347.2,128.6 348.2,128.5 349.1,128.4 350.0,128.3 351.2,128.4 352.4,128.5 353.5,128.4 354.7,128.4 355.9,128.6 357.0,128.7 358.1,128.5 359.2,128.6 360.3,128.7 361.4,128.9 362.4,128.9 363.4,128.9 364.3,128.9 365.2,128.9 366.1,128.9 366.9,128.6 367.6,128.3 369.0,128.3 370.2,128.2 371.3,128.1 372.4,128.3 373.4,128.0 374.3,127.7 375.3,127.2 376.2,126.8 377.2,126.6 378.4,126.3 379.6,125.9 380.8,125.4 382.0,125.2 383.2,125.7 384.4,125.8 385.6,126.2 386.8,126.6 387.8,126.7 388.7,127.0 389.7,127.5 390.6,128.1 391.6,128.4 392.8,128.5 394.0,128.6 395.2,128.3 396.4,128.2 397.8,128.2 399.3,128.2 400.5,128.1 401.0,128.1" stroke="#1f1f1f" stroke-width="1.3" fill="none"/>
</g>
<path d="M44,114 C44.5,107 47,105 55,105 L90,105 C95,105 97.5,101 97.6,96 C97.7,101 100,105 106,105 L141,105 C148,105 151.5,107 151.8,114" fill="none" stroke="#262626" stroke-width="1.5"/>
<text x="47" y="74.6" class="agg">Aggregates</text>
<text transform="translate(190.2,124.8) rotate(-90)" class="mono">Monomers</text>
<text x="282.5" y="48.6" class="title">A: Parent</text>
<text x="282.5" y="69.6" class="title">Antibody</text>
<path d="M22.6,303.4 L22.6,171.5 L405.4,171.5 L405.4,303.4" fill="none" stroke="#2b2b2b" stroke-width="1.55" stroke-linejoin="round"/>
<path d="M21.900000000000002,303.4 L406.09999999999997,303.4" fill="none" stroke="#2b2b2b" stroke-width="1.25"/>
<path d="M24.6,303.4 L24.6,308.0 M30.0,303.4 L30.0,305.79999999999995 M35.5,303.4 L35.5,305.79999999999995 M40.9,303.4 L40.9,305.79999999999995 M46.4,303.4 L46.4,305.79999999999995 M51.8,303.4 L51.8,308.0 M57.3,303.4 L57.3,305.79999999999995 M62.7,303.4 L62.7,305.79999999999995 M68.1,303.4 L68.1,305.79999999999995 M73.6,303.4 L73.6,305.79999999999995 M79.0,303.4 L79.0,308.0 M84.5,303.4 L84.5,305.79999999999995 M89.9,303.4 L89.9,305.79999999999995 M95.3,303.4 L95.3,305.79999999999995 M100.8,303.4 L100.8,305.79999999999995 M106.2,303.4 L106.2,308.0 M111.7,303.4 L111.7,305.79999999999995 M117.1,303.4 L117.1,305.79999999999995 M122.6,303.4 L122.6,305.79999999999995 M128.0,303.4 L128.0,305.79999999999995 M133.4,303.4 L133.4,308.0 M138.9,303.4 L138.9,305.79999999999995 M144.3,303.4 L144.3,305.79999999999995 M149.8,303.4 L149.8,305.79999999999995 M155.2,303.4 L155.2,305.79999999999995 M160.7,303.4 L160.7,308.0 M166.1,303.4 L166.1,305.79999999999995 M171.5,303.4 L171.5,305.79999999999995 M177.0,303.4 L177.0,305.79999999999995 M182.4,303.4 L182.4,305.79999999999995 M187.9,303.4 L187.9,308.0 M193.3,303.4 L193.3,305.79999999999995 M198.7,303.4 L198.7,305.79999999999995 M204.2,303.4 L204.2,305.79999999999995 M209.6,303.4 L209.6,305.79999999999995 M215.1,303.4 L215.1,308.0 M220.5,303.4 L220.5,305.79999999999995 M226.0,303.4 L226.0,305.79999999999995 M231.4,303.4 L231.4,305.79999999999995 M236.8,303.4 L236.8,305.79999999999995 M242.3,303.4 L242.3,308.0 M247.7,303.4 L247.7,305.79999999999995 M253.2,303.4 L253.2,305.79999999999995 M258.6,303.4 L258.6,305.79999999999995 M264.0,303.4 L264.0,305.79999999999995 M269.5,303.4 L269.5,308.0 M274.9,303.4 L274.9,305.79999999999995 M280.4,303.4 L280.4,305.79999999999995 M285.8,303.4 L285.8,305.79999999999995 M291.3,303.4 L291.3,305.79999999999995 M296.7,303.4 L296.7,308.0 M302.1,303.4 L302.1,305.79999999999995 M307.6,303.4 L307.6,305.79999999999995 M313.0,303.4 L313.0,305.79999999999995 M318.5,303.4 L318.5,305.79999999999995 M323.9,303.4 L323.9,308.0 M329.4,303.4 L329.4,305.79999999999995 M334.8,303.4 L334.8,305.79999999999995 M340.2,303.4 L340.2,305.79999999999995 M345.7,303.4 L345.7,305.79999999999995 M351.1,303.4 L351.1,308.0 M356.6,303.4 L356.6,305.79999999999995 M362.0,303.4 L362.0,305.79999999999995 M367.4,303.4 L367.4,305.79999999999995 M372.9,303.4 L372.9,305.79999999999995 M378.3,303.4 L378.3,308.0 M383.8,303.4 L383.8,305.79999999999995 M389.2,303.4 L389.2,305.79999999999995 M394.7,303.4 L394.7,305.79999999999995 M400.1,303.4 L400.1,305.79999999999995 M405.5,303.4 L405.5,308.0" stroke="#2b2b2b" stroke-width="1.1" fill="none"/>
<text x="25.8" y="315.6" class="tl">100</text>
<text x="53.0" y="315.6" class="tl">120</text>
<text x="80.2" y="315.6" class="tl">140</text>
<text x="107.4" y="315.6" class="tl">160</text>
<text x="134.6" y="315.6" class="tl">180</text>
<text x="161.8" y="315.6" class="tl">400</text>
<text x="189.1" y="315.6" class="tl">420</text>
<text x="216.3" y="315.6" class="tl">440</text>
<text x="243.5" y="315.6" class="tl">460</text>
<text x="270.7" y="315.6" class="tl">200</text>
<text x="297.9" y="315.6" class="tl">220</text>
<text x="325.1" y="315.6" class="tl">240</text>
<text x="352.3" y="315.6" class="tl">260</text>
<text x="379.5" y="315.6" class="tl">280</text>
<text x="406.7" y="315.6" class="tl">20</text>
<text x="22" y="176.6" class="yl">0.07</text>
<text x="22" y="218.0" class="yl">0.05</text>
<text x="22" y="258.6" class="yl">0.03</text>
<text x="22" y="297.8" class="yl">0.00</text>
<text transform="translate(12.4,233) rotate(-90)" class="au">AU</text>
<text x="208" y="325" class="mins">Mins</text>
<g clip-path="url(#clipB)">
<path d="M22.0,296.8 22.0,296.8 22.2,296.8 22.3,296.7 22.6,296.6 22.9,296.5 23.3,296.5 23.8,296.7 24.3,296.9 24.9,297.2 25.5,297.4 26.1,297.2 26.9,297.0 27.6,297.6 28.4,297.8 29.2,297.7 30.1,297.9 31.0,297.6 31.9,297.4 32.8,297.7 33.8,298.0 34.7,297.8 35.7,297.5 36.7,297.5 37.7,298.4 38.7,298.4 39.7,297.9 40.6,297.5 41.6,297.8 42.6,298.5 43.6,298.2 44.5,297.6 45.4,297.5 46.3,297.6 47.2,297.4 48.0,298.0 48.8,298.0 49.6,297.4 50.3,297.9 51.0,298.2 51.6,297.9 52.2,297.5 52.8,297.0 53.2,296.6 53.6,296.8 54.0,296.9 54.7,296.4 55.2,295.8 55.6,295.6 56.0,295.3 56.2,294.7 56.5,293.9 56.7,292.6 57.0,291.5 57.1,291.1 57.2,291.1 57.3,291.1 57.4,290.9 57.5,290.2 57.6,289.4 57.7,289.0 57.8,288.8 57.9,288.3 58.0,287.6 58.1,287.0 58.1,286.4 58.2,285.8 58.3,285.3 58.4,284.6 58.4,283.8 58.5,282.9 58.5,282.1 58.6,281.1 58.7,280.3 58.7,280.1 58.8,279.4 58.8,278.5 58.9,277.8 58.9,277.2 58.9,276.8 59.0,275.5 59.0,274.4 59.1,274.2 59.1,273.0 59.1,271.9 59.2,271.7 59.2,271.1 59.3,270.2 59.3,268.9 59.3,268.2 59.4,267.7 59.4,267.3 59.4,266.3 59.5,265.2 59.5,264.3 59.5,263.3 59.6,262.2 59.6,261.3 59.6,260.7 59.7,260.1 59.7,259.4 59.8,258.5 59.8,257.6 59.9,256.9 59.9,256.1 60.0,255.3 60.0,255.0 60.0,254.6 60.1,253.9 60.1,252.9 60.2,251.9 60.2,251.2 60.3,250.5 60.3,250.0 60.3,249.3 60.4,248.5 60.4,248.2 60.5,247.6 60.5,246.3 60.5,245.4 60.6,244.7 60.6,244.5 60.7,243.5 60.7,242.1 60.7,241.7 60.8,241.1 60.8,240.1 60.8,239.7 60.9,239.2 60.9,238.2 60.9,237.5 61.0,236.8 61.0,235.5 61.0,234.8 61.1,234.4 61.1,233.6 61.1,232.8 61.2,231.9 61.2,231.4 61.3,230.8 61.3,230.1 61.3,229.0 61.4,227.7 61.4,227.1 61.4,226.5 61.5,225.8 61.5,225.0 61.5,224.1 61.6,223.3 61.6,222.6 61.7,222.1 61.7,221.4 61.8,220.7 61.8,220.4 61.8,220.0 61.9,219.2 61.9,218.3 62.0,217.4 62.0,216.7 62.1,216.2 62.1,215.8 62.2,215.3 62.2,214.7 62.3,214.0 62.3,213.4 62.4,212.7 62.4,212.0 62.5,211.5 62.6,210.5 62.7,209.6 62.8,209.8 62.9,208.7 63.0,207.1 63.1,206.0 63.2,205.7 63.4,205.0 63.5,203.7 63.6,202.4 63.7,201.3 63.8,200.8 63.9,200.1 64.1,199.4 64.2,198.6 64.3,197.9 64.4,197.7 64.6,197.5 64.7,197.3 64.9,197.0 65.0,196.8 65.2,196.7 65.3,196.8 65.5,197.0 65.7,198.0 65.9,199.1 66.1,199.7 66.3,200.2 66.5,201.0 66.7,202.1 66.9,203.0 67.1,203.6 67.3,204.1 67.5,205.0 67.6,205.8 67.8,206.6 68.0,207.3 68.1,208.4 68.2,209.4 68.3,210.2 68.4,210.8 68.5,211.1 68.6,211.3 68.7,211.9 68.8,212.6 68.9,213.6 69.0,214.6 69.1,215.4 69.2,216.2 69.3,217.0 69.4,217.0 69.4,217.6 69.5,218.9 69.6,219.8 69.7,220.5 69.8,221.2 69.9,221.7 70.0,222.1 70.0,222.8 70.1,223.7 70.2,225.1 70.3,225.4 70.4,226.0 70.5,226.8 70.6,227.7 70.7,228.5 70.8,229.1 70.9,230.1 71.0,231.1 71.1,231.4 71.2,231.7 71.3,232.3 71.4,233.3 71.5,234.4 71.6,235.2 71.7,236.0 71.8,236.9 71.9,237.6 72.1,238.3 72.2,239.2 72.3,240.0 72.4,240.8 72.5,241.2 72.6,241.7 72.7,242.5 72.8,242.9 72.9,243.5 73.0,244.4 73.1,245.4 73.2,246.3 73.3,246.6 73.4,247.4 73.5,248.7 73.6,249.0 73.8,249.5 73.9,250.5 74.0,251.6 74.2,252.7 74.3,252.6 74.5,252.8 74.7,253.4 74.9,254.3 75.0,255.2 75.2,255.8 75.5,256.2 75.7,257.2 75.9,258.1 76.1,258.1 76.4,258.5 76.7,259.9 77.1,260.9 77.5,261.6 77.9,262.2 78.3,262.6 78.7,262.9 79.1,263.4 79.5,264.1 80.0,265.0 80.5,265.5 80.9,266.0 81.4,266.4 81.9,266.9 82.4,267.4 82.9,267.9 83.4,268.5 83.9,269.2 84.4,269.9 84.9,270.5 85.5,271.0 86.0,271.5 86.6,271.4 87.1,271.5 87.7,272.1 88.3,272.6 88.9,273.2 89.6,273.7 90.2,274.0 90.8,274.2 91.5,274.5 92.1,274.7 92.8,275.0 93.4,275.4 94.1,275.9 94.7,276.4 95.4,277.0 96.0,277.7 96.7,278.0 97.3,278.3 98.0,278.5 98.7,278.8 99.4,279.2 100.0,279.4 100.7,279.6 101.4,279.5 102.1,279.6 102.8,280.0 103.5,279.7 104.1,279.4 104.8,280.0 105.5,280.5 106.3,280.6 107.0,280.6 107.7,280.6 108.5,281.0 109.2,281.6 110.0,282.1 110.6,281.9 111.2,281.9 111.8,282.2 112.5,282.4 113.1,282.4 113.8,282.5 114.4,282.8 115.1,283.5 115.7,283.9 116.4,283.4 117.1,283.4 117.8,283.8 118.5,284.5 119.1,285.0 119.8,285.0 120.5,285.0 121.2,285.0 121.9,285.7 122.6,286.1 123.3,286.1 124.0,286.4 124.8,286.8 125.5,286.8 126.2,287.0 126.9,287.3 127.6,287.5 128.3,287.7 129.0,287.7 129.7,287.7 130.4,287.6 131.1,287.7 131.8,288.0 132.5,288.7 133.2,288.9 134.0,288.7 134.7,288.4 135.4,288.4 136.2,289.1 136.9,289.0 137.7,288.6 138.4,288.5 139.2,288.7 139.9,289.1 140.6,289.0 141.4,288.9 142.1,289.1 142.8,289.3 143.5,289.4 144.2,289.2 144.9,289.1 145.6,289.4 146.3,289.5 146.9,289.2 147.6,289.3 148.2,289.7 148.8,289.9 149.4,290.0 150.0,289.8 150.8,289.6 151.6,290.1 152.4,290.2 153.1,290.1 153.8,290.6 154.5,291.1 155.1,291.6 155.8,291.8 156.4,291.7 157.1,292.0 157.8,292.2 158.5,292.4 159.2,292.3 160.0,291.8 160.7,292.4 161.3,293.1 162.1,293.0 162.8,292.7 163.6,292.2 164.4,292.9 165.1,293.2 165.9,292.9 166.7,292.8 167.5,293.0 168.3,293.7 169.0,293.6 169.8,293.4 170.5,293.5 171.2,293.2 171.8,292.7 172.5,292.8 173.0,293.0 173.5,292.6 174.0,291.9 174.6,291.4 175.0,291.0 175.4,290.6 175.8,290.1 176.1,289.2 176.4,288.5 176.6,288.3 176.8,287.3 177.0,286.3 177.3,285.6 177.5,285.1 177.6,284.7 177.8,284.0 177.9,283.3 178.0,283.1 178.1,282.8 178.2,282.0 178.3,281.2 178.4,280.8 178.5,280.2 178.6,279.3 178.7,278.6 178.8,278.2 178.8,277.5 178.9,276.7 179.0,275.4 179.0,274.6 179.1,274.3 179.2,273.3 179.2,272.4 179.3,272.1 179.3,271.4 179.4,270.5 179.4,269.9 179.5,268.8 179.5,267.4 179.6,266.9 179.7,266.4 179.7,266.0 179.8,265.4 179.8,264.8 179.9,263.8 179.9,262.7 180.0,261.4 180.1,261.1 180.1,260.7 180.2,259.7 180.2,258.9 180.3,258.6 180.3,258.2 180.4,257.7 180.5,256.7 180.5,255.6 180.6,255.4 180.6,255.4 180.7,254.5 180.7,253.7 180.8,252.7 180.8,251.8 180.9,251.1 180.9,250.6 180.9,250.1 181.0,249.7 181.0,249.3 181.1,248.5 181.1,247.6 181.2,246.5 181.2,245.6 181.3,244.8 181.3,244.1 181.4,243.5 181.4,243.3 181.4,242.7 181.5,241.3 181.5,240.8 181.6,240.2 181.6,239.1 181.7,238.6 181.7,237.9 181.8,236.7 181.8,235.6 181.8,235.1 181.9,235.0 181.9,234.8 181.9,234.0 181.9,233.2 182.0,232.7 182.0,232.1 182.0,231.5 182.1,231.0 182.1,230.4 182.1,229.0 182.2,227.7 182.2,227.2 182.2,226.5 182.2,225.5 182.3,225.1 182.3,224.6 182.3,224.1 182.4,223.2 182.4,221.9 182.4,220.5 182.5,219.8 182.5,219.4 182.5,218.9 182.6,217.8 182.6,216.7 182.6,215.7 182.7,214.8 182.7,213.6 182.7,213.4 182.8,212.3 182.8,211.3 182.8,210.8 182.8,209.6 182.9,208.1 182.9,207.1 182.9,206.3 183.0,205.3 183.0,205.1 183.0,204.0 183.1,202.6 183.1,201.2 183.1,200.4 183.2,199.7 183.2,198.9 183.2,198.1 183.3,197.2 183.3,196.1 183.3,195.1 183.3,194.0 183.4,192.9 183.4,192.6 183.4,191.5 183.5,190.3 183.5,189.3 183.5,188.9 183.5,188.5 183.6,187.4 183.6,185.8 183.6,185.0 183.6,184.6 183.7,184.0 183.7,182.9 183.7,182.0 183.7,181.2 183.8,180.7 183.8,179.8 183.8,178.9 183.8,178.4 183.9,177.9 183.9,177.1 183.9,176.7 183.9,176.4 183.9,175.8 184.0,175.1 184.0,173.8 184.0,172.6 184.0,172.4 184.0,172.2 184.0,171.8 184.1,171.4 184.1,171.0 184.1,170.6 184.1,170.2 184.1,169.7 184.1,169.3 184.1,168.8 184.1,168.4 184.1,168.1 184.2,167.7 184.2,167.4 184.2,167.1 184.2,166.9 184.2,166.7 184.2,166.6 184.2,166.4 184.2,166.3 184.2,166.2 184.2,166.2 184.2,166.2" stroke="#8a3e2e" stroke-width="1.2" fill="none"/>
<path d="M211.0,165.7 211.0,165.7 211.0,165.8 211.0,165.9 211.0,166.1 211.0,166.3 211.0,166.6 211.0,166.9 211.0,167.3 211.0,167.7 211.0,168.0 211.0,168.3 211.0,168.7 211.0,169.1 211.0,169.5 211.0,170.0 211.0,170.4 211.0,170.7 211.0,171.0 211.0,171.3 211.0,171.6 211.0,172.3 211.0,173.2 211.0,173.9 211.0,174.5 211.0,175.0 211.0,175.5 211.0,176.2 211.1,177.0 211.1,177.5 211.1,178.1 211.1,179.0 211.1,179.7 211.1,180.4 211.1,180.8 211.1,181.7 211.1,182.7 211.1,183.5 211.1,184.8 211.1,186.0 211.1,186.3 211.1,187.0 211.1,187.8 211.1,188.6 211.1,189.5 211.2,190.5 211.2,191.3 211.2,192.0 211.2,192.8 211.2,194.5 211.2,195.6 211.2,196.2 211.2,197.2 211.2,198.2 211.2,199.0 211.2,199.7 211.3,200.5 211.3,201.4 211.3,202.6 211.3,203.6 211.3,204.8 211.3,206.1 211.3,206.8 211.3,208.2 211.3,208.8 211.4,209.6 211.4,211.1 211.4,211.6 211.4,212.0 211.4,212.8 211.4,213.9 211.4,215.2 211.5,216.6 211.5,217.2 211.5,217.7 211.5,219.0 211.5,219.6 211.5,220.5 211.5,221.7 211.6,221.8 211.6,222.6 211.6,223.8 211.6,225.0 211.6,225.5 211.7,225.8 211.7,226.5 211.7,227.1 211.7,227.7 211.7,228.4 211.8,229.2 211.8,230.0 211.8,230.8 211.8,231.8 211.8,232.4 211.9,232.7 211.9,233.1 211.9,233.8 211.9,234.4 212.0,234.8 212.0,235.1 212.0,235.8 212.1,237.2 212.1,238.4 212.1,239.1 212.2,239.6 212.2,240.2 212.3,241.5 212.3,242.6 212.4,243.5 212.4,243.9 212.5,244.3 212.5,244.6 212.6,245.7 212.7,246.9 212.7,247.6 212.8,248.2 212.9,248.4 213.0,248.7 213.1,249.2 213.2,249.7 213.3,250.4 213.4,251.1 213.5,251.9 213.7,253.1 213.9,254.1 214.1,254.7 214.4,255.6 214.6,256.4 214.9,256.5 215.1,257.0 215.4,257.8 215.7,258.7 215.9,259.5 216.2,260.0 216.6,260.6 217.0,261.0 217.5,261.8 218.1,262.4 218.6,262.5 219.2,262.6 219.8,262.7 220.5,263.2 221.2,263.6 221.9,263.6 222.6,264.1 223.2,265.0 223.8,265.1 224.4,265.5 225.0,266.0 225.6,266.6 226.2,267.1 226.7,267.3 227.2,267.9 227.7,268.6 228.1,268.9 228.4,269.5 228.8,271.0 229.1,271.7 229.3,272.2 229.6,273.3 229.9,273.6 230.2,273.7 230.5,275.0 230.9,275.9 231.2,276.6 231.6,276.9 231.9,277.2 232.3,277.6 232.7,278.2 233.0,278.9 233.4,279.5 233.8,280.3 234.2,281.4 234.7,281.8 235.1,281.8 235.5,282.9 236.0,283.8 236.5,284.0 237.1,284.5 237.6,285.1 238.2,285.7 238.8,286.2 239.4,286.6 240.0,287.2 240.6,287.6 241.2,288.0 241.9,288.2 242.5,288.4 243.1,289.1 243.8,289.3 244.5,289.2 245.2,289.7 245.9,290.3 246.6,290.5 247.3,290.7 248.0,290.9 248.7,290.7 249.5,290.8 250.2,291.4 250.8,291.8 251.5,292.1 252.1,291.8 252.7,291.6 253.4,291.6 254.0,291.7 254.7,292.0 255.3,292.4 256.0,292.8 256.8,292.5 257.5,292.0 258.3,292.0 259.1,292.3 260.0,292.8 260.5,293.0 261.1,293.1 261.7,293.3 262.3,293.3 262.9,293.1 263.5,293.0 264.2,293.6 264.9,293.6 265.6,293.0 266.3,293.3 267.0,293.7 267.8,293.1 268.5,292.9 269.3,292.9 270.1,293.0 270.8,293.1 271.6,293.0 272.4,293.4 273.2,293.7 274.0,293.8 274.8,293.6 275.6,293.6 276.4,294.4 277.2,294.0 278.0,293.6 278.8,293.4 279.6,293.4 280.4,293.6 281.2,294.2 282.0,294.4 282.7,294.4 283.5,293.7 284.2,293.4 284.9,293.2 285.6,293.8 286.3,294.1 287.0,293.7 287.6,293.6 288.2,294.1 288.9,294.1 289.4,293.7 290.0,293.5 290.9,293.5 291.7,293.1 292.5,293.0 293.2,293.1 294.0,292.6 294.7,292.1 295.4,291.7 296.1,291.8 296.8,291.7 297.4,290.8 298.1,290.6 298.7,290.8 299.4,290.2 300.0,289.6 300.7,290.0 301.3,290.2 302.0,290.0 302.7,290.1 303.3,290.5 303.9,290.5 304.5,290.1 305.1,290.4 305.6,291.0 306.2,291.3 306.8,291.5 307.4,292.2 308.0,292.8 308.7,293.2 309.4,293.3 310.2,293.2 311.1,293.0 312.0,293.1 312.4,293.2 312.9,293.3 313.3,293.4 313.8,293.5 314.3,293.6 314.8,293.8 315.3,293.8 315.9,293.7 316.5,293.7 317.1,293.7 317.7,294.1 318.3,294.5 318.9,294.6 319.6,294.6 320.2,294.4 320.9,294.3 321.6,294.9 322.3,295.0 323.0,294.4 323.7,294.5 324.5,294.8 325.2,294.5 326.0,294.6 326.8,295.3 327.5,295.4 328.3,295.2 329.1,294.7 329.9,295.1 330.7,295.4 331.6,295.5 332.4,295.1 333.2,294.9 334.0,294.9 334.9,295.1 335.7,295.4 336.6,295.7 337.4,295.0 338.3,295.2 339.1,295.5 340.0,295.5 340.8,295.3 341.7,295.3 342.5,295.5 343.4,295.8 344.2,295.4 345.1,295.2 345.9,295.9 346.8,295.4 347.6,295.4 348.5,295.8 349.3,295.9 350.1,295.5 350.9,295.0 351.8,295.7 352.6,295.9 353.4,295.9 354.2,295.2 355.0,294.8 355.7,294.6 356.5,294.7 357.3,295.1 358.0,295.8 358.8,295.0 359.5,294.8 360.2,295.5 360.9,295.2 361.6,294.5 362.3,295.0 363.0,295.1 363.6,294.6 364.3,294.3 364.9,294.3 365.5,294.5 366.1,294.8 366.7,294.7 367.2,294.2 367.8,294.0 368.3,294.1 368.8,294.2 369.3,294.4 369.7,294.7 370.2,294.7 370.6,294.5 371.0,294.3 371.9,294.3 372.8,294.2 373.6,293.9 374.3,292.8 375.0,292.3 375.6,292.2 376.2,292.3 376.8,292.4 377.3,292.1 377.9,291.6 378.4,290.8 378.9,290.1 379.5,290.1 380.0,289.9 380.6,289.2 381.1,288.7 381.7,288.2 382.2,287.3 382.7,286.5 383.1,285.9 383.6,286.2 384.1,285.5 384.5,284.5 385.0,284.5 385.5,284.6 386.0,284.1 386.5,283.7 387.1,284.0 387.6,284.7 388.2,285.0 388.7,285.5 389.3,286.4 389.8,286.9 390.4,287.7 390.9,288.7 391.5,288.8 392.0,289.2 392.7,290.3 393.4,290.5 394.0,290.7 394.7,290.7 395.4,291.2 396.2,291.6 397.0,292.0 397.7,292.5 398.5,292.6 399.5,292.0 400.4,291.9 401.5,292.6 402.4,292.8 403.4,292.7 404.2,292.5 404.9,292.0 405.5,291.7 405.9,291.6 406.0,291.6" stroke="#8a3e2e" stroke-width="1.2" fill="none"/>
<path d="M22.0,293.1 22.0,293.1 22.2,293.1 22.3,293.0 22.6,293.0 22.9,292.9 23.3,292.8 23.8,292.8 24.3,292.9 24.9,293.3 25.5,293.8 26.1,293.8 26.9,293.8 27.6,294.0 28.4,294.0 29.2,293.8 30.1,293.3 31.0,293.8 31.9,294.6 32.8,294.6 33.8,294.4 34.7,294.4 35.7,294.6 36.7,294.9 37.7,295.4 38.7,295.2 39.7,295.0 40.6,294.6 41.6,294.3 42.6,294.2 43.6,294.4 44.5,295.2 45.4,294.8 46.3,294.3 47.2,294.2 48.0,294.2 48.8,294.0 49.6,293.6 50.3,294.6 51.0,294.8 51.6,293.7 52.2,293.3 52.7,293.7 53.2,294.0 53.6,294.1 54.0,294.2 54.8,293.2 55.4,292.3 55.9,292.2 56.3,291.7 56.6,290.7 57.0,289.6 57.1,289.1 57.3,288.7 57.4,288.2 57.5,287.7 57.6,287.2 57.8,286.6 57.9,286.8 58.0,286.9 58.1,286.3 58.1,285.7 58.2,285.1 58.3,284.6 58.4,282.9 58.5,281.8 58.5,281.8 58.6,281.1 58.7,279.9 58.7,279.6 58.8,279.0 58.8,278.1 58.9,277.0 58.9,276.3 59.0,276.4 59.0,274.6 59.1,273.4 59.1,273.6 59.1,272.9 59.2,272.0 59.2,270.7 59.3,270.0 59.3,269.5 59.3,269.0 59.4,267.1 59.4,266.4 59.5,266.0 59.5,265.3 59.6,264.2 59.6,263.1 59.7,262.8 59.7,261.8 59.8,260.7 59.8,260.2 59.9,259.6 59.9,258.9 60.0,258.3 60.1,257.5 60.1,256.4 60.2,255.7 60.3,255.4 60.3,254.5 60.4,253.5 60.4,252.4 60.5,252.0 60.5,251.5 60.6,250.3 60.6,249.9 60.7,249.8 60.8,248.5 60.8,247.6 60.9,247.2 60.9,246.2 61.0,245.2 61.0,244.4 61.1,243.4 61.1,242.3 61.2,241.5 61.2,241.4 61.3,241.5 61.3,240.3 61.4,239.3 61.5,238.6 61.5,237.8 61.6,237.2 61.7,236.8 61.7,236.1 61.8,234.8 61.9,233.8 62.0,233.1 62.1,233.0 62.2,233.0 62.2,232.1 62.3,231.2 62.4,230.8 62.5,230.4 62.6,230.0 62.8,229.6 62.9,229.2 63.0,228.8 63.2,227.8 63.5,226.2 63.8,224.4 64.1,224.0 64.4,223.8 64.7,223.1 65.0,221.8 65.3,220.1 65.6,219.5 65.9,219.0 66.2,218.7 66.5,218.5 66.8,218.5 67.1,218.5 67.3,218.7 67.6,219.0 67.8,219.9 68.1,220.9 68.3,222.3 68.6,223.0 68.8,223.6 69.0,224.3 69.3,224.7 69.5,225.9 69.8,227.5 70.0,228.9 70.2,229.2 70.4,229.5 70.6,229.9 70.8,230.5 71.0,231.2 71.2,232.3 71.4,233.2 71.6,233.9 71.8,234.1 72.0,234.1 72.2,235.5 72.3,236.4 72.5,236.8 72.7,237.6 73.0,238.4 73.2,238.7 73.4,239.4 73.6,240.3 73.8,241.0 74.0,241.7 74.2,242.4 74.4,242.8 74.6,243.1 74.8,244.1 75.0,245.1 75.2,246.3 75.4,246.5 75.7,246.7 75.9,247.6 76.1,248.8 76.3,250.1 76.5,250.3 76.7,250.7 77.0,251.4 77.2,252.1 77.5,252.7 77.7,254.1 78.0,254.9 78.2,254.6 78.5,255.5 78.8,256.8 79.1,257.7 79.4,258.2 79.7,258.1 80.0,258.7 80.3,259.7 80.6,260.8 80.9,261.6 81.2,262.1 81.6,262.5 81.9,262.8 82.2,263.0 82.6,263.7 83.0,264.8 83.4,265.4 83.8,265.9 84.2,266.8 84.6,267.5 85.0,267.5 85.5,267.8 86.0,268.4 86.5,269.1 87.1,269.7 87.7,270.3 88.3,270.6 89.0,270.4 89.6,270.5 90.3,270.8 91.0,271.2 91.7,271.8 92.4,272.4 93.1,272.2 93.8,271.6 94.5,272.7 95.2,273.3 95.9,273.2 96.6,273.0 97.3,273.0 98.0,273.5 98.7,273.8 99.4,273.6 100.1,273.5 100.8,273.6 101.4,274.6 102.1,275.0 102.8,274.8 103.5,275.1 104.2,275.4 104.8,275.6 105.5,276.0 106.3,276.7 107.0,276.8 107.7,276.7 108.5,275.9 109.2,276.4 110.0,277.2 110.6,277.2 111.3,277.3 111.9,277.4 112.6,277.9 113.2,278.5 113.9,278.3 114.6,278.1 115.3,278.3 116.0,278.8 116.7,279.4 117.4,279.3 118.1,279.0 118.8,279.3 119.5,279.5 120.2,279.7 121.0,280.2 121.7,280.6 122.4,280.6 123.2,280.8 123.9,281.0 124.6,280.7 125.4,280.5 126.1,280.2 126.8,281.1 127.5,281.8 128.3,281.8 129.0,282.1 129.7,282.5 130.4,282.7 131.1,282.5 131.8,281.9 132.5,282.0 133.3,282.2 134.0,282.2 134.7,282.8 135.5,284.0 136.2,283.2 136.9,282.9 137.7,283.0 138.4,283.9 139.2,284.6 139.9,284.6 140.6,284.2 141.4,283.9 142.1,284.8 142.8,285.4 143.5,285.6 144.2,285.5 144.9,285.4 145.6,285.0 146.3,285.2 146.9,286.0 147.6,286.2 148.2,286.1 148.8,286.2 149.4,286.5 150.0,287.0 150.8,287.6 151.6,287.5 152.4,287.6 153.1,287.8 153.8,287.0 154.5,286.7 155.2,287.0 155.9,287.3 156.5,287.6 157.2,287.3 157.9,286.9 158.6,288.1 159.3,288.6 160.0,287.8 160.7,287.6 161.5,287.7 162.3,287.9 163.1,287.9 163.9,288.1 164.7,289.0 165.5,289.1 166.3,288.8 167.1,288.8 167.8,288.7 168.5,288.6 169.2,288.0 169.9,287.6 170.5,287.7 171.0,287.8 171.5,288.0 172.0,287.9 172.4,287.3 172.8,286.7 173.2,286.1 173.5,284.7 173.7,283.5 174.0,282.6 174.3,281.7 174.5,281.1 174.7,280.9 175.0,279.8 175.2,279.2 175.3,278.7 175.5,278.2 175.6,277.6 175.8,277.0 175.9,276.4 176.0,275.6 176.1,274.7 176.2,274.5 176.3,273.8 176.4,272.4 176.5,272.2 176.6,272.1 176.7,270.9 176.8,269.6 176.8,268.2 176.9,267.7 177.0,267.3 177.1,266.8 177.1,265.9 177.2,265.1 177.3,264.5 177.3,263.4 177.4,262.4 177.5,261.6 177.6,261.4 177.6,261.3 177.7,260.2 177.7,259.1 177.8,258.9 177.8,258.6 177.9,258.1 177.9,257.5 178.0,256.6 178.0,255.8 178.1,255.0 178.1,254.6 178.2,254.4 178.2,253.6 178.2,252.4 178.3,252.1 178.3,251.8 178.3,250.2 178.4,249.0 178.4,248.7 178.4,248.4 178.5,247.9 178.5,246.7 178.5,245.5 178.6,245.7 178.6,245.1 178.6,243.4 178.7,243.0 178.7,242.6 178.7,241.3 178.8,241.0 178.8,240.9 178.9,239.6 178.9,238.9 178.9,238.2 179.0,236.9 179.0,236.2 179.0,235.8 179.0,235.2 179.1,234.7 179.1,233.7 179.1,232.7 179.1,232.0 179.2,231.4 179.2,231.4 179.2,230.8 179.3,229.3 179.3,229.0 179.3,229.1 179.3,227.4 179.4,226.1 179.4,225.2 179.4,224.4 179.4,224.0 179.5,224.1 179.5,223.6 179.5,222.5 179.6,220.9 179.6,220.4 179.6,219.3 179.6,218.3 179.7,218.4 179.7,217.2 179.7,215.7 179.8,214.2 179.8,213.1 179.8,213.1 179.9,211.9 179.9,210.7 179.9,210.9 179.9,209.2 180.0,208.0 180.0,207.2 180.0,206.6 180.1,205.3 180.1,204.7 180.1,203.4 180.1,202.6 180.2,202.5 180.2,200.7 180.2,200.3 180.3,199.1 180.3,197.7 180.3,197.8 180.3,197.1 180.4,195.6 180.4,193.9 180.4,192.6 180.4,192.2 180.5,191.7 180.5,190.7 180.5,189.4 180.6,189.0 180.6,187.7 180.6,186.6 180.6,186.3 180.7,185.8 180.7,185.0 180.7,183.8 180.7,183.3 180.7,182.2 180.8,180.8 180.8,181.0 180.8,180.2 180.8,178.5 180.9,178.6 180.9,178.7 180.9,178.0 180.9,177.4 180.9,176.6 180.9,175.6 181.0,174.6 181.0,173.7 181.0,172.9 181.0,172.3 181.0,171.8 181.0,171.5 181.1,171.4 181.1,171.0 181.1,170.3 181.1,169.7 181.1,169.5 181.1,169.4 181.1,169.3 181.1,168.6 181.2,167.8 181.2,167.1 181.2,166.4 181.2,166.3 181.2,166.2 181.2,166.1 181.2,166.1 181.2,166.0 181.2,166.0 181.2,166.0 181.2,166.0 181.2,166.0" stroke="#37408f" stroke-width="1.2" fill="none"/>
<path d="M210.5,166.7 210.5,166.7 210.5,166.8 210.5,166.8 210.5,166.9 210.5,167.0 210.5,167.1 210.5,167.2 210.5,167.3 210.5,167.5 210.5,167.8 210.5,168.1 210.5,168.4 210.5,168.5 210.5,168.7 210.5,168.8 210.5,169.2 210.5,169.7 210.5,170.3 210.5,170.9 210.5,171.7 210.5,172.8 210.5,174.0 210.5,174.6 210.5,175.1 210.5,175.1 210.5,175.5 210.5,177.0 210.5,177.4 210.5,177.1 210.5,178.4 210.5,179.8 210.5,181.1 210.5,181.3 210.5,181.8 210.5,183.4 210.5,184.1 210.5,184.3 210.5,184.3 210.5,185.6 210.6,186.7 210.6,187.7 210.6,188.3 210.6,189.9 210.6,190.5 210.6,191.2 210.6,193.0 210.6,193.2 210.6,193.6 210.6,194.8 210.6,196.2 210.6,196.4 210.6,198.0 210.6,199.5 210.6,200.5 210.6,201.2 210.7,201.9 210.7,202.2 210.7,203.5 210.7,204.6 210.7,205.3 210.7,207.1 210.7,207.2 210.7,208.5 210.7,209.6 210.8,210.3 210.8,211.3 210.8,212.7 210.8,213.2 210.8,213.7 210.8,214.6 210.8,216.7 210.9,217.3 210.9,217.9 210.9,219.5 210.9,220.4 210.9,220.9 210.9,221.2 211.0,221.6 211.0,222.3 211.0,223.3 211.0,225.1 211.0,225.4 211.1,225.4 211.1,226.7 211.1,227.6 211.1,228.4 211.1,228.6 211.2,228.9 211.2,230.0 211.2,230.8 211.2,231.1 211.3,231.5 211.3,232.5 211.3,233.3 211.4,233.8 211.4,234.3 211.4,234.7 211.4,235.0 211.5,235.3 211.5,235.6 211.6,236.5 211.7,237.7 211.8,238.3 211.8,239.0 211.9,239.6 212.0,240.5 212.1,241.5 212.2,242.8 212.4,243.6 212.5,243.8 212.6,244.5 212.7,245.4 212.9,245.7 213.0,245.4 213.2,246.6 213.4,248.3 213.6,248.5 213.8,249.1 214.0,250.1 214.2,250.6 214.5,251.0 214.9,251.7 215.3,252.2 215.8,252.2 216.4,253.2 217.0,254.0 217.6,253.8 218.2,254.1 218.8,254.5 219.4,254.5 220.1,254.3 220.9,254.5 221.7,254.2 222.5,253.5 223.2,253.1 223.9,253.8 224.4,253.9 224.9,253.5 225.4,253.8 225.9,255.0 226.3,255.4 226.8,256.0 227.2,257.3 227.7,258.3 228.0,258.8 228.3,259.3 228.7,259.4 229.0,259.3 229.3,259.9 229.6,260.9 229.9,262.0 230.2,263.1 230.6,264.3 230.9,263.9 231.2,264.1 231.5,265.6 231.9,266.4 232.2,267.2 232.5,268.0 232.8,268.4 233.2,268.5 233.5,269.4 233.9,270.5 234.3,270.7 234.6,271.5 235.0,272.6 235.4,272.3 235.8,272.2 236.2,273.9 236.6,274.7 236.9,274.7 237.3,275.1 237.8,275.7 238.2,275.9 238.6,276.2 239.0,277.0 239.4,278.0 239.9,279.2 240.3,279.7 240.7,280.0 241.2,280.0 241.6,280.5 242.1,281.3 242.5,281.6 243.0,282.0 243.5,282.6 244.0,283.1 244.5,283.7 245.0,284.3 245.5,285.0 246.1,286.3 246.6,287.1 247.2,287.6 247.8,287.8 248.4,287.9 249.0,288.0 249.6,288.2 250.2,288.6 250.8,289.3 251.4,289.9 252.1,290.3 252.7,290.5 253.4,290.5 254.0,290.6 254.6,290.6 255.3,290.2 255.9,289.9 256.6,290.4 257.3,290.8 258.0,291.0 258.7,291.1 259.5,291.0 260.3,290.1 261.1,290.1 262.0,290.9 262.5,290.6 263.1,290.2 263.6,290.1 264.2,289.9 264.9,290.8 265.5,291.6 266.2,291.3 266.8,291.1 267.5,291.3 268.2,291.0 268.9,290.3 269.7,291.0 270.4,291.7 271.2,291.9 271.9,291.9 272.7,291.9 273.5,291.8 274.3,291.8 275.0,291.9 275.8,291.9 276.6,291.8 277.4,291.5 278.2,291.4 279.0,291.5 279.7,292.0 280.5,292.0 281.3,292.0 282.0,292.1 282.8,291.6 283.5,291.1 284.2,291.8 284.9,292.0 285.6,291.5 286.3,291.7 287.0,292.1 287.6,291.2 288.3,290.3 288.9,291.1 289.4,291.8 290.0,291.6 290.8,291.0 291.6,290.0 292.3,290.2 293.1,290.2 293.8,289.1 294.5,288.5 295.1,288.1 295.8,288.1 296.4,287.6 297.1,287.0 297.7,287.0 298.3,287.0 298.9,287.2 299.5,287.0 300.1,286.5 300.8,286.3 301.4,286.2 302.0,285.9 302.7,285.6 303.3,286.2 303.9,286.8 304.5,287.1 305.1,287.4 305.6,287.6 306.2,288.1 306.8,288.8 307.4,289.1 308.0,289.4 308.7,289.2 309.4,289.1 310.2,289.3 311.1,290.5 312.0,291.1 312.4,291.2 312.9,290.9 313.3,290.6 313.8,290.7 314.3,291.0 314.8,291.3 315.3,291.6 315.9,291.9 316.5,291.9 317.1,291.9 317.7,291.2 318.3,290.6 318.9,291.2 319.6,291.5 320.2,291.1 320.9,290.9 321.6,291.1 322.3,291.9 323.1,292.6 323.8,292.2 324.5,292.2 325.3,292.5 326.1,292.4 326.8,292.3 327.6,292.2 328.4,292.1 329.2,292.1 330.0,292.3 330.8,292.9 331.7,293.3 332.5,293.0 333.3,292.6 334.2,292.3 335.0,292.1 335.9,292.4 336.7,292.9 337.6,293.3 338.4,293.0 339.3,293.2 340.1,293.5 341.0,293.7 341.9,292.7 342.7,293.0 343.6,293.3 344.4,292.4 345.3,293.3 346.1,293.5 347.0,292.6 347.8,292.7 348.7,293.4 349.5,294.0 350.4,293.2 351.2,292.8 352.0,293.0 352.8,293.8 353.6,293.7 354.4,293.5 355.2,293.9 356.0,293.4 356.8,293.0 357.5,293.1 358.3,293.5 359.0,293.9 359.7,293.3 360.4,293.2 361.1,293.7 361.8,293.2 362.5,292.2 363.2,292.8 363.8,293.3 364.5,292.5 365.1,292.0 365.7,292.3 366.2,292.4 366.8,291.8 367.4,291.3 367.9,291.4 368.4,291.4 368.9,291.9 369.3,292.4 369.8,292.6 370.2,292.1 370.6,291.7 371.0,291.5 371.9,291.8 372.7,290.7 373.5,290.1 374.2,289.8 374.8,289.1 375.4,288.7 375.9,288.8 376.4,288.7 376.9,288.6 377.4,287.8 377.9,287.0 378.4,286.3 379.0,286.1 379.5,286.3 380.1,285.8 380.6,285.0 381.1,284.1 381.6,282.7 382.1,281.9 382.6,282.0 383.1,281.2 383.6,280.7 384.1,280.8 384.5,280.1 385.0,279.2 385.5,279.0 386.0,279.2 386.6,279.4 387.1,279.6 387.6,279.8 388.2,279.9 388.7,280.5 389.3,281.3 389.8,282.1 390.4,283.0 390.9,283.7 391.4,283.7 392.0,283.9 392.6,284.2 393.2,285.4 393.7,285.9 394.3,285.3 394.9,286.1 395.5,287.4 396.1,287.6 396.7,287.8 397.3,287.9 398.0,288.0 398.7,288.1 399.6,288.6 400.5,289.0 401.5,289.0 402.4,288.8 403.3,288.7 404.2,287.8 404.9,287.3 405.5,287.5 405.9,287.7 406.0,287.6" stroke="#37408f" stroke-width="1.2" fill="none"/>
<path d="M22.0,292.4 22.0,292.4 22.2,292.4 22.3,292.4 22.6,292.3 22.9,292.3 23.3,292.1 23.8,291.4 24.3,290.6 24.9,290.9 25.5,291.5 26.1,291.7 26.9,291.6 27.6,290.8 28.4,290.7 29.2,291.4 30.1,292.1 31.0,292.2 31.9,291.9 32.8,291.2 33.8,292.3 34.7,291.8 35.7,291.6 36.7,291.9 37.7,291.8 38.7,293.0 39.7,292.6 40.6,292.6 41.6,292.6 42.6,292.3 43.6,291.7 44.5,292.8 45.4,292.8 46.3,292.4 47.2,292.4 48.0,291.6 48.8,291.1 49.6,290.8 50.3,291.4 51.0,291.9 51.6,292.1 52.2,292.2 52.7,292.0 53.2,291.8 53.6,291.2 54.0,290.7 54.8,289.6 55.4,289.1 55.9,289.2 56.3,289.1 56.6,288.8 57.0,286.2 57.1,286.2 57.2,286.3 57.4,286.4 57.5,285.7 57.6,284.6 57.7,283.7 57.8,283.4 57.9,283.0 58.0,282.3 58.1,281.4 58.1,280.9 58.2,280.7 58.3,280.2 58.4,279.7 58.4,279.7 58.5,279.9 58.5,279.2 58.6,278.3 58.7,276.4 58.7,275.2 58.8,274.7 58.8,274.9 58.9,274.4 58.9,272.4 58.9,271.5 59.0,270.9 59.0,270.3 59.1,269.2 59.1,268.0 59.1,267.4 59.2,266.9 59.2,266.2 59.2,265.3 59.3,265.4 59.3,264.7 59.3,262.6 59.4,261.6 59.4,261.4 59.4,261.6 59.4,259.9 59.5,259.3 59.5,258.9 59.5,257.8 59.6,257.0 59.6,256.2 59.6,254.5 59.7,253.4 59.7,252.7 59.7,253.0 59.8,252.0 59.8,250.9 59.9,250.3 59.9,249.7 60.0,249.2 60.0,248.6 60.0,247.7 60.1,246.3 60.1,245.4 60.2,244.8 60.2,244.9 60.3,244.6 60.3,243.3 60.4,242.1 60.4,241.0 60.4,240.8 60.5,240.1 60.5,238.7 60.5,238.6 60.6,238.2 60.6,236.2 60.6,235.9 60.7,236.3 60.7,235.1 60.8,234.0 60.8,232.9 60.8,233.0 60.9,232.5 60.9,230.6 60.9,229.6 61.0,228.7 61.0,227.7 61.0,227.3 61.1,227.3 61.1,226.9 61.1,226.3 61.2,225.5 61.2,224.4 61.2,223.3 61.3,223.2 61.3,222.4 61.4,220.5 61.4,219.8 61.4,219.5 61.5,219.3 61.5,219.1 61.6,218.9 61.6,218.1 61.7,216.9 61.7,216.2 61.8,215.7 61.8,215.1 61.9,214.5 61.9,213.3 62.0,212.6 62.0,212.7 62.1,212.4 62.2,211.6 62.2,210.7 62.3,209.6 62.4,208.7 62.4,208.2 62.5,207.7 62.6,207.7 62.8,206.3 62.9,204.7 63.0,203.8 63.2,204.2 63.3,202.5 63.5,201.4 63.6,200.6 63.8,200.0 63.9,199.6 64.1,197.5 64.2,196.2 64.4,195.8 64.6,194.7 64.7,193.9 64.9,193.7 65.0,193.7 65.2,193.4 65.4,193.1 65.5,193.0 65.7,193.0 65.9,193.2 66.1,193.6 66.3,194.3 66.4,195.0 66.6,195.4 66.8,195.8 67.0,196.4 67.2,197.0 67.4,197.8 67.6,198.9 67.8,199.2 68.0,201.2 68.2,202.5 68.4,203.3 68.6,204.2 68.8,203.8 69.0,204.7 69.2,206.1 69.4,206.9 69.6,207.5 69.8,207.8 70.0,208.6 70.2,209.8 70.4,210.6 70.6,211.3 70.8,211.7 71.0,212.2 71.2,213.0 71.5,213.6 71.7,214.0 71.9,215.0 72.1,215.7 72.2,215.2 72.4,216.1 72.6,217.7 72.8,218.5 72.9,219.1 73.0,219.6 73.2,219.9 73.3,220.1 73.4,220.4 73.4,220.7 73.5,222.2 73.6,223.6 73.7,224.6 73.8,225.0 73.8,224.9 73.9,225.5 74.0,226.1 74.0,226.9 74.1,227.5 74.2,228.1 74.2,229.8 74.3,231.3 74.4,232.6 74.5,233.1 74.6,233.4 74.6,233.5 74.7,234.4 74.8,235.5 75.0,235.2 75.1,236.0 75.2,238.0 75.3,238.2 75.5,238.1 75.6,238.3 75.8,239.2 76.0,240.8 76.2,241.2 76.4,241.1 76.6,242.0 76.9,242.7 77.2,243.1 77.5,244.2 77.7,245.4 78.0,246.3 78.3,247.4 78.6,248.4 79.0,247.8 79.3,248.4 79.6,250.4 80.0,250.2 80.3,250.1 80.7,250.9 81.1,252.1 81.4,253.3 81.8,253.4 82.2,253.8 82.6,254.4 83.0,255.2 83.4,256.1 83.8,256.1 84.3,256.5 84.7,257.9 85.1,258.4 85.6,258.0 86.0,258.8 86.5,260.4 87.1,260.9 87.7,261.1 88.3,261.2 88.9,260.9 89.5,260.9 90.1,262.5 90.8,262.6 91.4,261.8 92.1,262.9 92.7,263.6 93.4,263.8 94.0,263.7 94.7,263.5 95.4,264.7 96.0,265.6 96.7,266.0 97.3,266.2 98.0,266.2 98.7,266.2 99.4,266.3 100.0,266.7 100.7,267.0 101.4,267.3 102.1,266.9 102.8,267.0 103.5,268.1 104.1,268.7 104.8,269.1 105.6,269.0 106.3,268.9 107.0,269.3 107.7,269.0 108.5,268.2 109.2,269.5 110.0,269.4 110.6,268.4 111.2,268.7 111.9,269.5 112.5,269.3 113.1,269.1 113.8,269.8 114.4,270.5 115.1,271.1 115.8,271.4 116.4,271.7 117.1,271.6 117.8,271.5 118.5,271.6 119.2,271.6 119.9,271.7 120.6,272.3 121.3,272.6 122.0,272.7 122.7,272.8 123.4,273.2 124.1,274.4 124.8,274.6 125.5,274.6 126.2,274.7 126.9,274.7 127.6,274.6 128.3,275.5 129.0,276.1 129.7,275.6 130.3,275.5 131.0,275.9 131.7,276.6 132.4,277.2 133.1,277.7 133.8,278.4 134.5,279.0 135.2,278.9 136.0,279.2 136.7,279.8 137.4,280.0 138.1,280.1 138.8,280.1 139.5,280.2 140.2,280.3 141.0,279.4 141.7,279.4 142.4,279.9 143.0,279.8 143.7,280.4 144.4,281.9 145.1,282.4 145.7,282.4 146.4,282.4 147.0,282.4 147.6,282.1 148.3,281.9 148.8,282.2 149.4,282.3 150.0,282.2 150.8,282.6 151.6,283.5 152.4,284.3 153.2,284.1 153.9,283.1 154.6,282.6 155.3,282.4 156.0,282.6 156.7,282.8 157.4,283.1 158.0,283.7 158.7,284.5 159.3,284.5 160.0,284.4 160.8,283.8 161.5,283.3 162.3,282.8 163.0,282.9 163.8,283.0 164.5,283.1 165.2,283.7 165.8,284.5 166.4,284.2 167.0,283.5 167.5,283.7 167.9,283.9 168.3,283.4 168.7,282.8 169.0,282.0 169.4,281.1 169.7,279.9 169.9,279.4 170.2,279.0 170.5,277.0 170.7,275.8 171.0,275.2 171.2,275.2 171.3,275.0 171.5,274.3 171.6,273.5 171.8,272.4 171.9,271.6 172.0,271.0 172.1,270.0 172.2,269.2 172.3,269.9 172.4,269.7 172.5,268.6 172.6,268.2 172.7,267.7 172.8,267.0 172.9,265.5 172.9,264.1 173.0,263.9 173.1,262.8 173.1,261.7 173.2,261.6 173.3,261.1 173.4,260.3 173.4,258.4 173.5,256.9 173.6,256.1 173.6,255.6 173.7,255.3 173.7,255.1 173.8,254.9 173.8,254.0 173.9,253.0 173.9,251.8 174.0,251.4 174.0,251.9 174.0,251.7 174.1,251.0 174.1,250.0 174.2,248.9 174.2,247.6 174.2,246.5 174.2,247.0 174.3,247.1 174.3,245.8 174.3,244.5 174.4,243.0 174.4,242.6 174.5,242.3 174.5,242.0 174.5,241.7 174.6,241.1 174.6,239.6 174.7,238.8 174.7,237.9 174.7,236.2 174.8,235.3 174.8,235.0 174.9,235.3 174.9,235.4 174.9,234.2 175.0,232.9 175.0,231.9 175.0,231.0 175.1,231.1 175.1,230.7 175.2,229.3 175.2,228.4 175.2,227.7 175.3,227.4 175.3,227.0 175.4,226.5 175.4,225.8 175.5,225.1 175.5,224.4 175.6,223.3 175.6,222.0 175.7,220.5 175.7,220.4 175.8,219.8 175.8,217.7 175.9,217.6 175.9,216.9 176.0,216.1 176.0,215.7 176.1,214.9 176.1,213.4 176.2,212.2 176.2,212.0 176.3,211.2 176.3,209.9 176.4,208.4 176.4,207.3 176.5,207.9 176.6,206.5 176.6,204.6 176.7,203.1 176.7,202.7 176.8,203.3 176.8,201.2 176.9,199.8 176.9,199.4 177.0,199.2 177.1,198.3 177.1,197.1 177.2,196.1 177.2,195.0 177.3,192.7 177.3,191.8 177.4,192.0 177.4,192.2 177.5,191.0 177.5,188.7 177.6,187.2 177.6,186.4 177.7,185.9 177.7,186.2 177.8,185.5 177.8,183.4 177.9,183.4 177.9,183.2 178.0,182.8 178.0,181.6 178.1,180.8 178.1,180.5 178.2,178.8 178.2,177.3 178.2,176.4 178.3,175.5 178.3,174.7 178.4,174.8 178.4,175.2 178.4,173.8 178.5,172.3 178.5,172.8 178.5,173.3 178.6,172.6 178.6,171.8 178.6,170.9 178.7,169.8 178.7,169.0 178.7,169.1 178.7,169.2 178.8,169.2 178.8,168.4 178.8,167.6 178.8,166.8 178.8,166.5 178.8,166.4 178.9,166.3 178.9,166.3 178.9,166.2 178.9,166.2 178.9,166.2 178.9,166.0 178.9,165.9 178.9,165.9" stroke="#3c9a50" stroke-width="1.2" fill="none"/>
<path d="M210.0,166.7 210.0,166.8 210.0,166.9 210.0,167.0 210.0,167.2 210.0,167.4 210.0,167.7 210.0,168.0 210.0,168.3 210.0,168.7 210.0,169.1 210.0,169.5 210.0,169.0 210.0,168.6 210.0,169.0 210.1,170.5 210.1,171.8 210.1,172.0 210.1,172.3 210.1,173.3 210.1,174.1 210.1,174.3 210.1,174.9 210.1,175.8 210.1,176.6 210.1,177.4 210.2,178.6 210.2,178.4 210.2,178.4 210.2,179.2 210.2,180.9 210.2,181.9 210.2,182.4 210.2,183.5 210.3,183.8 210.3,185.1 210.3,186.9 210.3,186.4 210.3,188.7 210.3,190.2 210.3,190.9 210.4,191.1 210.4,191.4 210.4,193.2 210.4,194.0 210.4,194.6 210.4,195.9 210.5,196.1 210.5,198.6 210.5,199.7 210.5,199.9 210.5,200.4 210.5,200.9 210.6,202.7 210.6,204.4 210.6,205.5 210.6,206.4 210.6,206.0 210.6,206.4 210.7,207.7 210.7,208.4 210.7,209.8 210.7,211.0 210.7,210.8 210.8,211.7 210.8,213.2 210.8,214.5 210.8,215.4 210.8,215.8 210.9,215.6 210.9,215.2 210.9,215.7 210.9,216.4 210.9,217.0 210.9,217.6 211.0,218.5 211.0,219.5 211.0,220.5 211.0,221.3 211.1,222.0 211.1,222.7 211.1,223.4 211.2,224.1 211.2,224.8 211.2,225.8 211.2,226.6 211.3,227.3 211.3,228.1 211.4,229.1 211.5,229.7 211.6,230.0 211.7,230.7 211.9,231.6 212.0,232.6 212.2,233.4 212.4,234.0 212.6,234.6 212.8,234.6 213.1,234.2 213.4,235.6 213.7,237.0 214.0,237.7 214.5,238.3 215.1,238.1 215.7,238.9 216.4,239.6 217.0,238.8 217.6,238.1 218.2,238.9 218.8,238.6 219.4,237.3 220.0,237.3 220.6,237.0 221.3,235.8 222.1,235.3 222.8,235.1 223.4,235.0 224.0,235.2 224.3,235.4 224.6,235.7 224.9,236.0 225.1,236.2 225.3,237.2 225.4,238.5 225.6,240.2 225.7,241.1 225.9,241.5 226.0,243.0 226.2,243.7 226.4,244.5 226.6,245.5 226.8,246.7 227.0,247.2 227.2,247.4 227.4,247.3 227.6,247.5 227.8,248.2 228.0,249.0 228.2,249.9 228.4,250.0 228.6,250.4 228.8,251.4 229.0,252.9 229.2,254.7 229.4,255.5 229.7,255.7 229.9,255.5 230.1,256.8 230.4,258.0 230.6,258.7 230.9,259.6 231.1,260.5 231.4,261.0 231.6,261.4 231.9,261.7 232.1,261.7 232.4,262.3 232.7,264.1 232.9,264.6 233.2,264.4 233.5,265.5 233.8,266.4 234.2,266.7 234.5,267.4 234.8,268.4 235.2,269.7 235.5,270.1 235.9,269.5 236.2,270.5 236.6,271.6 236.9,272.4 237.3,273.0 237.7,273.4 238.1,274.6 238.4,275.5 238.8,275.3 239.2,275.7 239.6,277.0 240.0,277.6 240.4,277.8 240.8,278.6 241.2,279.5 241.7,278.6 242.2,278.6 242.7,279.4 243.3,280.1 243.8,281.3 244.3,282.9 244.9,282.0 245.4,281.8 246.0,282.7 246.6,283.8 247.1,284.9 247.7,285.8 248.3,285.8 248.9,285.0 249.6,285.2 250.3,285.8 251.0,286.4 251.7,286.8 252.4,286.9 253.1,287.0 253.9,287.2 254.6,287.3 255.4,286.9 256.2,286.1 257.0,286.2 257.6,286.1 258.3,285.8 259.0,286.4 259.7,287.4 260.4,287.0 261.1,286.4 261.8,286.5 262.5,287.2 263.2,288.4 264.0,288.1 264.7,287.7 265.5,287.6 266.2,287.7 267.0,287.8 267.7,287.7 268.5,287.8 269.3,287.9 270.0,287.3 270.7,286.8 271.4,286.4 272.1,286.2 272.9,286.2 273.6,286.1 274.3,286.2 275.1,286.7 275.8,286.6 276.6,286.3 277.3,286.2 278.1,286.4 278.8,287.0 279.6,287.6 280.3,288.0 281.0,287.5 281.7,286.9 282.4,286.1 283.1,286.5 283.7,286.9 284.4,285.9 285.0,285.1 285.7,284.8 286.4,284.7 287.1,284.7 287.8,284.5 288.4,284.4 289.1,284.5 289.7,283.8 290.3,283.2 290.9,283.3 291.5,282.5 292.1,281.1 292.7,281.8 293.4,282.2 294.0,281.0 294.7,280.7 295.4,281.0 296.0,279.1 296.7,279.0 297.4,279.5 298.1,278.0 298.8,278.1 299.5,278.5 300.1,278.1 300.8,277.7 301.5,277.3 302.1,276.7 302.7,276.2 303.4,275.9 304.1,275.8 304.7,276.5 305.3,277.7 306.0,279.3 306.6,278.6 307.2,279.0 307.8,280.4 308.4,280.8 309.0,281.3 309.5,281.9 310.1,281.6 310.6,281.5 311.0,282.0 311.5,282.4 312.0,282.8 312.5,284.3 313.1,286.0 313.7,285.5 314.3,285.5 315.0,286.4 315.5,286.5 316.1,286.7 316.7,286.5 317.3,286.2 317.9,286.2 318.5,286.1 319.1,286.2 319.8,286.7 320.5,288.1 321.2,288.1 321.9,287.1 322.6,288.3 323.4,289.1 324.2,288.2 324.9,288.5 325.7,288.8 326.6,287.9 327.4,288.7 328.2,289.2 329.1,288.3 330.0,288.6 330.5,288.8 331.1,289.1 331.7,289.1 332.3,288.6 332.9,288.4 333.5,288.7 334.2,289.2 334.9,290.1 335.6,289.9 336.3,289.2 337.0,289.4 337.7,289.8 338.4,290.6 339.2,290.2 340.0,289.5 340.7,289.5 341.5,289.6 342.3,289.8 343.1,290.2 343.9,290.3 344.7,290.5 345.5,291.0 346.3,291.1 347.1,291.1 348.0,291.8 348.8,291.1 349.6,290.3 350.4,291.5 351.2,292.0 352.1,291.9 352.9,290.9 353.7,290.5 354.5,290.6 355.3,291.4 356.1,290.9 356.9,290.9 357.7,291.5 358.5,292.0 359.2,291.9 360.0,290.9 360.7,290.6 361.5,290.7 362.2,291.3 362.9,291.3 363.6,290.8 364.3,290.7 364.9,290.7 365.6,290.9 366.2,291.1 366.8,290.5 367.4,290.1 368.0,289.9 368.6,289.7 369.1,289.9 369.6,290.1 370.1,290.1 370.6,290.1 371.0,290.2 371.7,290.6 372.4,289.9 373.0,288.8 373.6,287.6 374.1,286.9 374.6,286.6 375.1,286.8 375.5,286.8 376.0,285.9 376.4,285.5 376.7,285.4 377.1,284.9 377.5,284.4 377.8,283.6 378.2,282.2 378.5,280.4 378.9,280.9 379.3,281.2 379.6,280.0 380.0,278.9 380.4,277.7 380.8,276.8 381.2,276.6 381.6,276.9 382.0,274.8 382.4,273.5 382.7,272.6 383.1,272.2 383.5,272.7 383.8,272.0 384.2,270.6 384.5,270.4 384.9,270.2 385.2,269.2 385.6,268.3 386.0,268.0 386.4,268.4 386.8,269.0 387.3,269.4 387.7,269.6 388.1,270.0 388.6,270.6 389.0,272.1 389.4,272.7 389.9,272.9 390.3,273.2 390.7,275.5 391.1,276.5 391.6,276.3 392.0,276.4 392.4,276.6 392.8,277.0 393.2,278.5 393.5,279.9 393.9,280.4 394.2,280.4 394.6,280.6 395.0,282.0 395.4,283.2 395.8,284.2 396.2,284.5 396.6,284.7 397.0,284.7 397.5,284.9 398.0,285.6 398.7,286.1 399.5,286.4 400.4,286.5 401.4,285.7 402.4,285.5 403.3,286.5 404.2,286.6 404.9,286.2 405.5,285.8 405.9,285.8 406.0,285.8" stroke="#3c9a50" stroke-width="1.2" fill="none"/>
<path d="M22.0,284.8 22.0,284.8 22.2,285.0 22.3,285.3 22.6,285.7 22.9,286.2 23.3,286.4 23.8,285.5 24.3,284.5 24.9,284.4 25.5,284.5 26.1,285.1 26.9,285.9 27.6,286.6 28.4,286.0 29.2,284.2 30.1,284.6 31.0,284.4 31.9,284.5 32.8,285.6 33.8,284.8 34.7,284.7 35.7,285.6 36.7,286.6 37.7,286.3 38.7,287.3 39.7,286.1 40.6,286.2 41.6,285.7 42.6,284.9 43.6,287.4 44.5,285.6 45.4,285.5 46.3,285.8 47.2,285.9 48.0,286.9 48.8,286.7 49.6,285.7 50.3,286.6 51.0,287.0 51.6,286.2 52.2,285.4 52.7,284.7 53.2,284.3 53.6,284.9 54.0,285.5 54.8,284.3 55.4,283.4 55.9,284.5 56.3,283.7 56.6,281.7 57.0,280.1 57.1,280.4 57.3,280.8 57.4,281.3 57.5,280.3 57.6,279.0 57.7,277.9 57.8,277.5 57.9,277.1 58.0,276.5 58.1,275.8 58.2,275.7 58.2,275.7 58.3,274.0 58.4,272.3 58.5,272.3 58.5,271.9 58.6,270.8 58.6,270.7 58.7,271.4 58.8,269.1 58.8,267.6 58.9,268.1 58.9,267.1 58.9,265.8 59.0,265.5 59.0,265.0 59.1,264.4 59.1,264.0 59.1,262.3 59.2,260.6 59.2,260.0 59.3,259.0 59.3,258.6 59.3,259.8 59.4,257.5 59.4,255.6 59.4,254.7 59.5,254.8 59.5,254.4 59.5,253.8 59.6,253.7 59.6,252.1 59.6,249.6 59.7,249.2 59.7,248.5 59.8,247.6 59.8,247.8 59.8,247.4 59.9,246.3 59.9,245.5 60.0,244.9 60.1,245.1 60.1,244.7 60.2,243.5 60.2,243.0 60.2,242.7 60.3,242.1 60.3,240.5 60.4,238.4 60.4,239.1 60.5,238.6 60.5,236.7 60.5,235.1 60.6,234.4 60.6,235.5 60.6,233.8 60.7,231.6 60.7,230.6 60.8,230.2 60.8,229.9 60.8,229.2 60.9,229.3 60.9,229.9 60.9,228.9 61.0,227.6 61.0,225.8 61.0,225.2 61.1,224.8 61.1,224.8 61.2,224.1 61.2,223.2 61.2,222.2 61.3,221.1 61.3,220.1 61.4,218.6 61.4,217.4 61.5,216.9 61.5,216.8 61.6,216.9 61.6,216.3 61.7,215.5 61.7,215.2 61.8,214.9 61.9,214.5 61.9,214.0 62.0,213.5 62.0,212.4 62.1,210.5 62.2,209.1 62.3,208.3 62.3,208.0 62.4,208.7 62.5,209.3 62.6,207.6 62.8,205.7 62.9,204.8 63.1,204.9 63.2,202.8 63.4,201.7 63.6,200.9 63.7,200.4 63.9,200.0 64.1,199.5 64.3,198.9 64.5,197.1 64.7,196.2 64.9,196.7 65.1,197.1 65.3,196.8 65.5,196.5 65.7,196.3 66.0,196.3 66.3,196.4 66.5,196.6 66.9,197.0 67.2,198.0 67.5,199.1 67.8,199.9 68.1,198.7 68.5,200.1 68.8,201.9 69.1,203.2 69.4,204.1 69.7,204.8 70.0,205.0 70.2,204.7 70.5,206.4 70.7,208.4 70.9,208.7 71.2,208.9 71.4,208.4 71.6,208.8 71.8,209.9 72.1,211.6 72.3,212.8 72.5,212.0 72.7,212.2 72.9,213.3 73.1,215.1 73.3,216.6 73.5,217.2 73.7,216.9 73.8,216.4 74.0,218.2 74.1,219.2 74.3,219.1 74.4,220.0 74.5,221.3 74.6,222.2 74.7,222.7 74.8,222.1 74.8,222.5 74.9,223.4 75.0,224.1 75.1,224.9 75.1,225.7 75.2,226.1 75.3,226.5 75.4,227.4 75.5,228.6 75.5,229.8 75.6,230.6 75.7,231.2 75.8,231.2 76.0,232.1 76.1,233.8 76.2,235.2 76.4,236.5 76.6,236.5 76.8,236.5 76.9,236.8 77.1,238.0 77.3,239.2 77.4,239.4 77.6,239.6 77.8,239.7 78.0,240.9 78.2,241.9 78.5,241.6 78.7,242.5 79.0,244.5 79.4,244.5 79.7,244.2 80.1,245.2 80.5,246.5 81.0,248.2 81.4,248.8 81.9,248.8 82.4,249.2 82.9,249.7 83.5,249.8 84.1,249.8 84.7,250.1 85.3,250.5 86.0,250.9 86.6,251.6 87.3,252.3 88.0,250.9 88.7,251.0 89.4,252.5 90.2,251.9 90.9,251.5 91.6,251.6 92.4,252.9 93.1,253.9 93.8,253.7 94.6,254.3 95.3,255.0 96.0,255.3 96.7,255.3 97.3,255.0 98.0,254.5 98.6,254.2 99.3,254.1 99.9,255.0 100.5,256.4 101.2,257.2 101.8,257.5 102.4,256.9 103.1,256.7 103.7,256.6 104.4,256.8 105.0,257.2 105.6,258.0 106.3,259.2 106.9,260.4 107.5,259.3 108.2,259.1 108.8,259.9 109.4,260.4 110.0,260.9 110.7,262.1 111.3,263.2 111.9,264.0 112.5,263.3 113.2,261.7 113.8,262.0 114.4,262.7 115.0,264.5 115.7,265.8 116.4,266.1 117.0,265.1 117.7,263.9 118.3,264.5 119.0,265.0 119.6,265.6 120.3,265.7 120.9,265.6 121.6,265.8 122.2,266.2 122.9,266.5 123.5,266.7 124.2,266.4 124.8,266.2 125.5,266.0 126.2,266.2 126.9,266.5 127.6,266.9 128.3,267.1 129.0,267.2 129.6,268.3 130.2,269.5 130.9,269.9 131.5,270.0 132.2,269.4 132.8,269.9 133.5,271.3 134.2,271.5 134.9,271.4 135.6,270.9 136.3,271.2 137.0,271.7 137.7,271.3 138.4,272.4 139.1,274.1 139.9,273.6 140.6,273.0 141.3,272.2 142.0,272.6 142.7,273.5 143.3,274.9 144.0,275.0 144.7,274.7 145.3,275.7 146.0,276.0 146.6,275.3 147.2,275.8 147.8,277.1 148.4,277.5 148.9,277.8 149.5,277.1 150.0,276.2 150.9,277.0 151.7,277.6 152.5,276.9 153.3,278.4 154.0,279.3 154.7,279.7 155.4,279.9 156.1,279.7 156.8,278.8 157.4,278.2 158.0,278.0 158.9,278.9 159.7,279.8 160.5,279.4 161.3,278.4 162.0,277.4 162.5,277.1 163.0,277.1 163.5,277.3 163.9,276.4 164.3,274.9 164.7,275.4 165.1,274.7 165.5,273.1 165.7,272.6 165.9,272.1 166.1,271.8 166.3,271.5 166.5,271.1 166.6,270.7 166.8,270.4 166.9,269.3 167.1,267.2 167.2,267.3 167.4,267.6 167.5,265.8 167.6,264.7 167.7,264.1 167.9,264.1 168.0,263.7 168.1,263.0 168.2,262.1 168.4,261.5 168.5,261.3 168.6,259.5 168.7,257.8 168.8,257.4 168.9,257.0 169.0,257.0 169.1,256.7 169.2,255.4 169.3,254.2 169.4,253.4 169.5,252.7 169.6,252.2 169.6,252.2 169.7,252.6 169.8,252.2 169.9,251.7 170.0,250.8 170.1,250.0 170.2,249.8 170.2,249.2 170.3,248.2 170.4,246.6 170.5,245.0 170.6,244.3 170.7,244.0 170.7,244.1 170.8,242.0 170.9,240.9 171.0,241.3 171.1,239.6 171.2,238.0 171.2,237.1 171.3,237.4 171.4,236.4 171.5,235.3 171.5,235.9 171.6,236.4 171.7,235.7 171.7,235.0 171.8,233.7 171.8,232.3 171.9,231.2 171.9,230.2 172.0,229.3 172.0,229.0 172.1,229.1 172.1,228.5 172.2,227.7 172.3,226.6 172.3,226.2 172.4,226.1 172.4,224.8 172.5,224.2 172.6,223.6 172.6,221.2 172.7,219.9 172.7,219.2 172.8,219.1 172.9,218.5 172.9,217.4 173.0,216.3 173.1,216.4 173.1,214.7 173.2,213.4 173.2,212.8 173.3,212.3 173.4,211.9 173.4,211.3 173.5,210.1 173.6,208.2 173.6,207.5 173.7,207.6 173.7,207.3 173.8,206.1 173.9,204.3 173.9,202.0 174.0,201.4 174.1,201.2 174.1,200.4 174.2,198.5 174.2,196.9 174.3,197.3 174.4,198.0 174.4,196.7 174.5,193.8 174.5,193.0 174.6,192.8 174.6,192.1 174.7,190.4 174.8,188.9 174.8,188.4 174.9,189.1 174.9,188.3 175.0,186.9 175.0,185.2 175.1,183.5 175.1,183.2 175.2,182.6 175.2,181.1 175.3,182.1 175.3,181.6 175.4,178.8 175.4,178.2 175.5,178.1 175.5,178.4 175.5,177.4 175.6,175.4 175.6,174.5 175.7,173.8 175.7,173.1 175.7,172.5 175.8,172.0 175.8,171.6 175.8,171.7 175.9,171.7 175.9,171.6 175.9,171.5 176.0,170.8 176.0,169.5 176.0,168.3 176.0,167.7 176.1,167.4 176.1,167.0 176.1,167.0 176.1,167.2 176.1,167.4 176.1,167.6 176.2,167.6 176.2,167.2 176.2,166.9 176.2,166.6 176.2,166.4 176.2,166.3 176.2,166.2 176.2,166.2" stroke="#e85a3c" stroke-width="1.2" fill="none"/>
<path d="M209.5,165.4 209.5,165.5 209.5,165.5 209.5,165.6 209.5,165.6 209.5,165.7 209.5,165.8 209.5,166.1 209.5,166.7 209.5,167.3 209.5,168.4 209.6,170.0 209.6,170.9 209.6,170.1 209.6,169.8 209.6,170.8 209.6,172.2 209.6,173.9 209.7,175.0 209.7,176.0 209.7,176.9 209.7,176.8 209.7,177.7 209.7,179.5 209.8,179.6 209.8,179.6 209.8,180.3 209.8,181.7 209.8,183.4 209.9,184.4 209.9,184.4 209.9,184.4 209.9,185.8 209.9,188.8 210.0,187.9 210.0,189.3 210.0,190.9 210.0,190.7 210.1,191.4 210.1,192.3 210.1,193.6 210.1,195.2 210.2,197.4 210.2,196.6 210.2,197.2 210.2,199.6 210.3,199.2 210.3,199.2 210.3,199.6 210.3,201.4 210.4,202.8 210.4,202.7 210.4,202.8 210.4,203.1 210.5,203.5 210.5,204.3 210.5,206.0 210.6,207.8 210.6,208.8 210.7,209.3 210.7,209.4 210.7,209.1 210.8,208.7 210.8,210.8 210.9,212.5 210.9,212.9 211.0,213.5 211.1,214.7 211.2,215.7 211.3,216.5 211.4,216.3 211.5,215.9 211.6,217.8 211.8,219.1 211.9,219.8 212.1,219.3 212.2,219.5 212.4,220.5 212.5,221.3 212.7,222.0 212.9,222.6 213.1,223.3 213.3,224.0 213.5,224.2 213.8,224.3 214.0,224.8 214.4,226.0 214.9,228.3 215.5,228.7 216.0,228.3 216.5,229.0 217.0,229.5 217.4,229.6 217.8,229.6 218.2,228.8 218.6,227.4 219.1,225.3 219.5,226.1 220.0,226.3 220.6,225.6 221.3,225.5 222.0,225.2 222.8,224.4 223.4,224.2 224.0,224.4 224.4,224.7 224.8,225.3 225.1,225.2 225.3,224.9 225.6,226.7 225.8,227.4 226.0,228.4 226.2,230.1 226.5,229.1 226.7,229.9 226.9,231.2 227.1,231.7 227.3,231.9 227.4,233.4 227.6,234.7 227.8,234.4 228.0,234.9 228.2,236.6 228.4,237.6 228.6,238.3 228.8,239.1 229.0,239.1 229.2,238.2 229.4,240.8 229.6,242.2 229.8,242.5 229.9,242.9 230.1,243.4 230.2,243.9 230.4,244.5 230.6,244.1 230.7,244.1 230.9,246.4 231.1,247.7 231.2,247.7 231.4,248.1 231.6,248.7 231.8,249.1 232.0,250.3 232.1,252.0 232.3,252.8 232.5,253.6 232.7,254.5 232.9,254.0 233.1,253.9 233.3,254.9 233.5,255.5 233.7,256.1 233.9,256.5 234.1,257.3 234.3,258.4 234.5,258.6 234.7,259.1 234.9,261.3 235.1,262.2 235.3,261.8 235.6,261.9 235.8,262.2 236.0,262.7 236.3,263.7 236.6,266.0 236.9,266.5 237.1,266.2 237.4,267.5 237.7,268.4 238.0,269.0 238.3,270.5 238.6,271.8 238.9,272.8 239.2,272.5 239.5,272.0 239.8,273.3 240.2,274.5 240.5,275.6 240.9,275.9 241.3,275.6 241.7,276.5 242.1,277.8 242.5,278.1 243.0,278.2 243.6,277.8 244.2,278.6 244.8,280.2 245.4,280.0 246.1,279.6 246.7,279.0 247.4,280.1 248.1,281.3 248.7,282.1 249.4,282.1 250.1,281.8 250.7,281.8 251.4,281.9 252.1,281.9 252.8,282.3 253.5,283.3 254.2,283.1 254.9,282.6 255.6,281.6 256.3,281.0 257.1,281.2 257.8,281.2 258.5,281.3 259.3,282.5 260.0,282.8 260.7,282.3 261.4,281.3 262.1,280.4 262.8,282.0 263.5,282.5 264.2,280.8 264.9,281.0 265.6,282.2 266.3,281.9 267.1,282.0 267.8,282.6 268.5,282.4 269.3,281.7 270.0,281.0 270.7,280.9 271.4,281.7 272.1,282.4 272.8,282.9 273.6,282.8 274.3,282.3 275.0,281.3 275.8,280.8 276.5,280.7 277.2,281.6 278.0,282.1 278.7,282.0 279.4,280.8 280.1,280.0 280.7,281.1 281.4,281.7 282.0,281.6 282.7,280.5 283.3,279.1 283.9,278.7 284.5,278.5 285.1,278.7 285.7,278.8 286.2,278.8 286.8,276.8 287.3,275.5 287.9,275.2 288.4,274.8 288.9,274.4 289.5,274.8 290.0,274.4 290.5,272.8 291.0,272.4 291.5,272.6 291.9,271.9 292.4,271.4 292.9,271.2 293.3,269.7 293.8,268.7 294.2,269.8 294.7,269.9 295.1,269.4 295.6,268.2 296.0,267.1 296.5,267.1 297.0,266.8 297.7,264.9 298.4,265.3 299.2,265.9 299.9,264.7 300.6,264.7 301.3,264.9 302.0,265.0 302.7,264.7 303.4,263.9 304.0,264.7 304.6,266.1 305.2,265.0 305.8,264.6 306.4,264.9 307.0,266.6 307.4,267.9 307.8,269.1 308.1,270.0 308.5,270.6 308.8,271.3 309.2,271.7 309.5,271.4 309.9,272.7 310.3,273.8 310.7,273.7 311.1,273.5 311.5,273.3 312.0,274.9 312.5,276.1 313.0,276.9 313.5,277.0 314.0,276.7 314.5,277.4 315.0,278.0 315.6,277.7 316.2,277.7 316.8,278.2 317.5,278.8 318.2,279.4 318.9,280.0 319.7,280.3 320.5,280.3 321.0,279.9 321.5,279.6 322.0,279.7 322.5,279.7 323.1,280.4 323.7,281.2 324.2,282.0 324.9,282.7 325.5,282.9 326.2,282.8 326.8,282.0 327.5,281.7 328.2,281.8 328.9,282.4 329.6,282.8 330.4,282.2 331.1,282.5 331.8,283.6 332.6,284.3 333.4,284.2 334.1,282.8 334.9,283.4 335.7,284.2 336.5,284.6 337.3,284.8 338.1,284.9 338.9,284.9 339.7,285.0 340.4,284.8 341.2,283.9 342.0,284.7 342.8,285.8 343.6,286.1 344.3,284.8 345.1,283.6 345.9,285.6 346.6,285.9 347.4,284.9 348.1,284.2 348.8,283.8 349.5,283.8 350.2,284.8 350.9,286.3 351.5,286.3 352.2,286.1 352.8,285.3 353.4,284.6 354.0,285.2 354.8,285.9 355.6,286.5 356.5,287.4 357.3,287.4 358.0,286.0 358.8,287.1 359.6,287.2 360.4,286.3 361.1,286.3 361.9,286.4 362.6,286.5 363.4,287.1 364.1,287.7 364.8,288.3 365.5,288.2 366.1,287.7 366.8,287.4 367.5,287.1 368.1,287.2 368.7,287.2 369.3,286.9 369.9,286.5 370.5,286.5 371.0,286.5 371.5,286.4 372.0,286.3 372.5,286.2 373.0,285.9 373.4,284.9 373.8,284.1 374.2,284.1 374.6,283.8 375.0,283.1 375.4,283.4 375.7,283.2 376.0,281.5 376.4,281.3 376.7,281.1 377.0,279.4 377.3,277.9 377.6,276.8 377.9,276.9 378.2,275.8 378.5,274.3 378.8,273.6 379.1,272.8 379.4,271.9 379.7,272.5 380.0,272.9 380.3,272.8 380.6,271.3 380.8,269.5 381.1,268.6 381.4,267.9 381.6,267.1 381.9,266.1 382.1,266.1 382.3,264.9 382.6,263.3 382.8,262.0 383.0,262.9 383.2,262.2 383.5,260.5 383.7,258.5 383.9,258.8 384.1,259.6 384.3,258.7 384.6,257.9 384.8,256.8 385.0,255.9 385.3,255.8 385.5,255.8 385.7,255.9 386.0,256.0 386.3,256.3 386.6,256.8 386.9,257.5 387.2,257.2 387.5,256.8 387.8,257.3 388.2,258.0 388.5,258.4 388.8,259.5 389.1,260.9 389.4,262.0 389.7,263.1 390.1,264.5 390.4,264.8 390.7,263.8 391.0,265.2 391.4,267.0 391.7,268.5 392.0,269.0 392.3,269.4 392.7,269.8 393.0,270.7 393.3,271.0 393.6,271.5 393.9,273.7 394.2,274.0 394.5,274.0 394.9,274.4 395.2,274.7 395.5,274.9 395.9,275.4 396.3,276.9 396.7,278.9 397.1,279.5 397.5,279.7 398.0,279.0 398.7,277.7 399.5,278.6 400.4,279.2 401.4,279.5 402.3,279.5 403.3,279.0 404.1,280.0 404.9,280.1 405.5,279.1 405.9,278.6 406.0,278.6" stroke="#e85a3c" stroke-width="1.2" fill="none"/>
<path d="M22.0,281.7 22.0,281.7 22.2,281.5 22.3,281.3 22.6,281.1 22.9,280.8 23.3,280.4 23.8,280.2 24.3,279.9 24.9,279.7 25.5,279.4 26.1,279.5 26.9,279.7 27.6,280.4 28.4,281.0 29.2,281.5 30.1,279.9 31.0,279.6 31.9,279.9 32.8,280.0 33.8,280.0 34.7,281.5 35.7,281.7 36.7,280.5 37.7,279.7 38.7,279.9 39.7,281.6 40.6,280.5 41.6,280.1 42.6,281.0 43.6,278.7 44.5,279.2 45.4,279.0 46.3,279.7 47.2,282.0 48.0,279.9 48.8,279.1 49.6,279.3 50.3,278.7 51.0,278.5 51.6,278.9 52.2,279.5 52.8,280.3 53.2,280.8 53.6,280.7 54.0,280.5 54.7,280.5 55.3,280.4 55.8,279.9 56.1,278.9 56.4,277.1 56.7,277.2 57.0,275.2 57.1,273.6 57.2,272.9 57.4,273.9 57.5,274.8 57.6,274.1 57.7,272.7 57.8,271.4 57.9,270.4 57.9,269.6 58.0,270.2 58.1,270.7 58.2,270.4 58.3,269.8 58.3,268.0 58.4,266.4 58.5,265.0 58.5,265.0 58.6,266.3 58.6,265.7 58.7,264.6 58.7,263.5 58.8,263.1 58.8,263.4 58.9,260.2 58.9,257.8 59.0,257.1 59.0,256.5 59.1,255.7 59.1,254.6 59.1,255.4 59.2,255.9 59.2,254.8 59.3,252.7 59.3,251.0 59.3,250.3 59.4,249.6 59.4,249.3 59.4,249.8 59.5,249.2 59.5,248.9 59.6,249.0 59.6,246.5 59.6,245.6 59.7,246.6 59.7,244.4 59.8,242.7 59.8,241.8 59.9,240.7 59.9,239.6 60.0,238.8 60.1,239.3 60.1,240.5 60.2,240.1 60.2,239.4 60.3,237.9 60.3,236.3 60.3,234.2 60.4,233.0 60.4,232.3 60.5,231.6 60.5,231.0 60.6,230.8 60.6,230.9 60.7,231.1 60.7,228.5 60.7,227.3 60.8,227.8 60.8,227.6 60.9,226.9 60.9,224.4 61.0,223.5 61.0,223.9 61.0,224.1 61.1,223.7 61.1,222.4 61.2,221.3 61.2,220.4 61.2,220.9 61.3,220.2 61.3,218.7 61.4,217.2 61.4,216.1 61.5,215.5 61.5,215.9 61.5,216.5 61.6,215.5 61.6,214.7 61.7,214.2 61.7,212.8 61.8,211.1 61.8,209.3 61.9,208.0 61.9,207.4 62.0,207.1 62.0,206.9 62.1,207.0 62.2,206.6 62.2,204.2 62.3,203.3 62.3,204.6 62.4,204.8 62.5,204.1 62.5,203.0 62.6,201.7 62.6,200.1 62.7,198.3 62.8,199.0 62.9,200.2 62.9,199.2 63.0,197.8 63.1,197.4 63.2,196.9 63.3,195.8 63.5,195.4 63.6,193.8 63.7,193.2 63.8,193.8 64.0,192.8 64.1,191.8 64.3,190.2 64.4,188.3 64.5,186.4 64.7,185.7 64.8,184.7 65.0,184.0 65.1,185.0 65.2,184.7 65.4,183.7 65.5,183.1 65.7,182.5 65.8,182.0 66.0,181.6 66.1,181.4 66.2,181.3 66.4,181.2 66.5,180.9 66.7,180.5 66.8,180.3 67.0,180.2 67.1,180.1 67.3,180.0 67.5,179.8 67.6,179.6 67.8,181.1 67.9,182.5 68.1,181.9 68.3,182.9 68.4,184.2 68.6,183.6 68.8,186.8 68.9,187.5 69.1,187.4 69.3,188.1 69.5,191.1 69.6,190.1 69.8,190.5 70.0,193.6 70.2,194.2 70.4,194.2 70.6,193.3 70.8,194.0 70.9,196.3 71.1,196.9 71.3,197.2 71.5,198.8 71.7,199.6 71.9,199.4 72.2,199.6 72.4,200.0 72.6,202.0 72.8,202.6 73.0,201.0 73.2,202.7 73.4,204.6 73.6,203.5 73.8,203.8 74.0,205.0 74.2,205.2 74.3,206.1 74.5,208.7 74.6,209.7 74.8,209.3 74.9,210.4 75.1,211.5 75.2,211.0 75.4,211.7 75.5,213.7 75.7,214.4 75.8,214.6 76.0,213.8 76.1,214.7 76.3,216.5 76.4,217.9 76.6,218.4 76.8,217.7 76.9,219.1 77.1,220.6 77.3,220.3 77.5,220.6 77.7,221.5 77.9,223.3 78.1,225.3 78.3,226.0 78.6,226.7 78.8,227.4 79.1,227.5 79.4,226.5 79.7,227.5 80.1,228.7 80.4,230.0 80.7,230.7 81.1,231.1 81.4,231.0 81.8,231.7 82.1,233.5 82.5,233.2 82.9,233.1 83.3,235.1 83.7,235.7 84.2,235.1 84.6,234.7 85.1,234.9 85.5,237.1 86.0,237.4 86.5,236.4 86.9,237.9 87.4,239.4 87.9,238.3 88.4,238.9 88.9,241.8 89.4,242.1 90.0,241.5 90.5,242.5 91.1,242.6 91.6,241.4 92.2,242.4 92.8,244.1 93.4,243.8 93.9,243.7 94.5,243.8 95.1,245.1 95.7,246.9 96.3,245.3 96.8,244.6 97.4,246.0 98.0,246.4 98.6,245.7 99.3,247.5 99.9,249.6 100.6,249.9 101.3,249.2 101.9,247.2 102.6,247.9 103.3,249.1 104.0,249.3 104.6,249.8 105.3,250.7 106.0,251.1 106.7,251.3 107.3,250.5 108.0,250.7 108.7,252.6 109.3,251.9 110.0,250.3 110.6,250.5 111.2,251.3 111.9,253.5 112.5,253.3 113.1,251.8 113.7,252.4 114.3,253.2 115.0,254.5 115.6,254.7 116.2,254.7 116.8,254.6 117.4,255.9 118.0,258.3 118.6,258.0 119.2,257.5 119.8,258.6 120.4,258.9 120.9,258.0 121.5,258.4 122.0,260.1 122.7,259.9 123.4,258.5 124.1,260.4 124.7,261.6 125.4,261.0 126.0,261.3 126.7,262.4 127.4,262.4 128.2,262.1 129.0,261.9 129.5,261.9 130.0,261.9 130.6,262.5 131.1,263.5 131.7,263.4 132.4,262.6 133.0,262.0 133.6,262.2 134.3,264.7 135.0,265.7 135.7,265.8 136.4,265.8 137.1,266.0 137.8,266.5 138.5,265.4 139.3,265.4 140.0,266.5 140.7,267.9 141.4,269.0 142.2,269.7 142.9,269.9 143.6,268.9 144.3,267.2 145.0,268.9 145.7,269.8 146.3,269.8 147.0,269.6 147.6,269.5 148.3,269.1 148.9,268.8 149.4,268.9 150.0,269.1 150.8,270.3 151.6,270.8 152.5,270.8 153.3,270.1 154.0,270.1 154.8,270.4 155.6,270.9 156.3,271.4 157.0,271.9 157.7,271.6 158.3,271.1 158.9,270.1 159.5,269.1 160.0,270.5 160.9,272.0 161.7,270.6 162.3,271.2 163.0,272.5 163.4,272.2 163.7,271.8 164.1,269.9 164.4,267.1 164.7,267.5 165.0,268.0 165.3,268.3 165.5,266.1 165.8,264.5 166.0,264.2 166.2,263.1 166.3,262.0 166.4,260.7 166.6,259.6 166.7,259.3 166.8,258.8 166.9,257.9 167.0,257.5 167.1,257.2 167.2,257.4 167.3,257.1 167.4,256.2 167.4,256.3 167.5,256.2 167.6,254.7 167.7,253.1 167.7,251.6 167.8,252.4 167.9,252.4 168.0,250.8 168.1,249.7 168.2,248.9 168.3,248.9 168.3,248.9 168.4,247.9 168.5,246.8 168.6,245.5 168.7,244.4 168.7,244.3 168.8,243.9 168.9,242.6 169.0,242.2 169.0,243.2 169.1,241.8 169.2,239.1 169.3,240.4 169.4,239.5 169.4,235.9 169.5,234.8 169.6,235.2 169.6,235.6 169.7,234.8 169.7,233.7 169.8,233.0 169.8,233.1 169.8,232.9 169.9,231.4 169.9,230.4 170.0,231.4 170.0,231.9 170.1,230.9 170.1,230.0 170.2,229.3 170.2,229.1 170.3,229.0 170.3,228.4 170.4,227.3 170.4,225.6 170.5,224.9 170.5,223.3 170.6,220.3 170.6,219.5 170.7,219.3 170.7,219.7 170.8,220.5 170.8,218.7 170.9,216.7 170.9,216.6 171.0,213.9 171.0,213.3 171.1,213.8 171.1,214.4 171.2,212.4 171.3,211.8 171.3,210.0 171.4,206.9 171.4,206.7 171.5,205.7 171.5,206.2 171.6,205.5 171.6,202.9 171.7,204.9 171.7,202.0 171.8,201.7 171.9,201.5 171.9,199.3 172.0,197.7 172.0,198.8 172.1,197.3 172.1,195.6 172.2,195.3 172.2,192.2 172.3,193.1 172.3,193.6 172.4,192.4 172.4,188.6 172.5,189.4 172.5,188.4 172.6,186.3 172.6,185.0 172.7,184.7 172.7,184.6 172.8,184.7 172.8,184.8 172.8,184.4 172.9,183.6 172.9,182.9 173.0,181.4 173.0,179.7 173.0,179.0 173.1,177.8 173.1,175.8 173.2,175.9 173.2,176.6 173.2,175.5 173.3,174.4 173.3,173.3 173.3,172.7 173.4,173.3 173.4,173.4 173.4,171.6 173.4,169.9 173.5,169.1 173.5,168.4 173.5,167.9 173.5,167.5 173.6,167.1 173.6,166.7 173.6,166.4 173.6,166.0 173.6,165.7 173.6,165.8 173.7,165.9 173.7,166.0 173.7,166.1 173.7,166.2 173.7,166.3 173.7,166.4 173.7,166.4 173.7,166.4" stroke="#3646a8" stroke-width="1.2" fill="none"/>
<path d="M209.0,164.5 209.0,164.6 209.0,164.8 209.0,165.3 209.0,165.8 209.0,166.6 209.0,167.3 209.0,167.9 209.0,168.5 209.0,169.1 209.0,169.6 209.0,170.1 209.0,170.4 209.0,171.3 209.0,172.0 209.0,171.3 209.0,171.7 209.0,173.0 209.0,175.1 209.0,175.5 209.1,177.2 209.1,178.9 209.1,178.1 209.1,181.0 209.1,181.0 209.2,180.7 209.2,181.5 209.2,183.8 209.2,184.5 209.3,185.2 209.3,186.5 209.4,188.7 209.4,187.9 209.5,189.0 209.5,191.0 209.6,192.3 209.6,192.4 209.7,192.2 209.8,193.0 209.8,194.1 209.9,195.6 210.0,196.6 210.1,196.4 210.3,196.1 210.5,195.8 210.7,196.2 210.9,196.8 211.1,197.5 211.3,198.7 211.6,199.8 211.8,199.9 212.0,200.5 212.2,202.4 212.4,203.5 212.6,203.6 212.8,203.8 213.0,204.2 213.2,205.3 213.3,206.8 213.5,208.7 213.6,208.6 213.7,207.5 213.9,208.0 214.0,208.8 214.1,209.9 214.3,210.7 214.4,211.5 214.6,213.6 214.8,215.2 215.0,215.3 215.4,215.3 215.8,215.2 216.3,215.2 216.7,215.5 217.2,216.0 217.6,216.2 217.9,216.1 218.1,216.9 218.4,218.1 218.6,217.0 218.8,215.0 219.1,213.0 219.3,213.6 219.6,211.8 220.0,210.3 220.5,211.1 221.1,210.3 221.7,209.0 222.4,207.9 223.0,209.3 223.7,209.8 224.2,209.8 224.5,209.9 224.8,209.9 225.1,209.9 225.4,209.8 225.6,209.6 225.9,211.0 226.1,212.9 226.3,213.0 226.5,214.1 226.8,214.8 227.0,214.1 227.2,217.7 227.4,217.0 227.6,216.5 227.8,218.0 228.0,219.4 228.2,219.9 228.3,220.1 228.5,220.4 228.7,220.8 228.8,222.9 229.0,225.0 229.1,226.5 229.3,226.6 229.4,225.5 229.6,225.9 229.7,226.7 229.9,228.5 230.0,229.0 230.2,228.5 230.3,229.6 230.5,230.9 230.6,232.4 230.8,232.9 230.9,232.9 231.1,232.9 231.3,233.0 231.4,233.5 231.6,235.0 231.8,236.9 232.0,238.8 232.2,240.2 232.3,240.7 232.5,239.8 232.7,238.5 232.9,240.3 233.1,241.6 233.3,242.3 233.5,242.4 233.7,242.5 233.9,244.4 234.1,245.6 234.3,245.9 234.5,247.1 234.7,248.4 234.9,247.7 235.2,248.5 235.4,250.9 235.6,251.6 235.8,251.9 236.0,251.7 236.2,251.5 236.4,251.3 236.6,252.8 236.8,253.8 236.9,253.6 237.1,255.3 237.3,257.3 237.5,258.1 237.7,258.6 237.8,259.2 238.0,261.1 238.2,260.9 238.4,259.0 238.6,261.5 238.8,263.5 239.0,264.4 239.3,263.8 239.5,262.8 239.7,264.0 240.0,264.8 240.3,264.7 240.6,265.6 240.9,267.4 241.2,268.6 241.6,269.6 242.1,269.3 242.5,269.5 243.0,271.0 243.5,271.2 244.0,271.0 244.5,272.4 245.0,272.9 245.6,272.2 246.2,273.6 246.8,275.7 247.5,274.6 248.2,273.5 248.9,272.5 249.4,272.6 250.0,272.9 250.6,273.9 251.2,275.4 251.8,276.2 252.5,276.5 253.2,276.1 253.9,275.4 254.6,274.1 255.4,274.4 256.1,276.3 256.9,276.0 257.7,275.0 258.4,273.1 259.2,273.4 260.0,274.1 260.8,274.8 261.6,273.2 262.4,271.8 263.1,271.7 263.9,272.3 264.6,273.2 265.4,274.4 266.1,275.0 266.8,275.2 267.5,273.3 268.2,272.3 268.8,273.6 269.4,274.1 270.0,273.7 270.8,273.5 271.6,273.5 272.3,272.5 273.0,272.4 273.7,273.2 274.4,272.5 275.1,271.6 275.7,272.2 276.3,272.0 277.0,270.9 277.6,269.7 278.2,268.6 278.8,268.8 279.4,269.3 280.0,269.0 280.7,268.6 281.4,267.9 282.0,267.5 282.7,267.3 283.3,267.4 283.9,267.4 284.5,267.3 285.2,266.7 285.8,265.4 286.4,264.8 287.0,264.6 287.5,264.7 288.1,264.7 288.6,264.2 289.1,263.6 289.7,262.9 290.2,263.0 290.7,262.4 291.3,260.5 291.8,260.4 292.3,260.4 292.8,259.1 293.3,259.2 293.7,259.9 294.2,259.1 294.6,258.5 295.0,258.2 295.4,257.0 295.8,255.6 296.2,254.2 296.5,254.4 296.8,255.4 297.2,253.6 297.4,252.1 297.7,251.1 298.0,250.1 298.3,249.4 298.7,249.0 299.0,248.9 299.4,249.1 299.8,248.8 300.2,247.5 300.6,246.0 301.0,246.1 301.5,244.6 301.9,242.9 302.3,243.0 302.7,243.3 303.2,243.6 303.7,243.7 304.2,244.2 304.6,244.8 305.1,245.8 305.6,247.8 306.0,249.1 306.4,249.6 306.7,248.9 307.0,248.6 307.4,249.3 307.7,250.8 308.0,253.0 308.3,253.4 308.6,253.9 309.0,254.8 309.2,255.2 309.5,255.8 309.7,256.5 310.0,256.9 310.2,256.5 310.5,256.4 310.7,256.6 311.0,258.1 311.2,258.9 311.5,258.7 311.8,261.5 312.0,263.8 312.3,263.3 312.6,263.7 313.0,264.7 313.3,266.0 313.6,267.1 314.0,267.3 314.5,267.0 315.0,266.0 315.4,266.3 315.9,267.0 316.4,267.0 317.0,267.3 317.6,269.5 318.2,270.7 318.9,270.9 319.7,270.5 320.5,270.3 320.9,270.3 321.4,270.2 321.9,270.2 322.4,270.4 322.9,271.0 323.5,271.6 324.0,272.2 324.6,272.8 325.3,273.4 325.9,273.8 326.6,273.8 327.2,273.8 327.9,274.0 328.6,273.2 329.4,272.3 330.1,272.4 330.8,272.3 331.6,272.1 332.3,273.8 333.1,274.3 333.9,272.1 334.7,271.8 335.5,271.9 336.3,272.4 337.1,274.0 337.9,275.3 338.7,275.2 339.5,274.0 340.3,273.6 341.1,275.2 341.9,275.6 342.7,275.2 343.5,274.0 344.3,273.3 345.0,273.5 345.8,275.2 346.6,274.8 347.3,273.8 348.0,273.2 348.8,274.2 349.5,276.4 350.2,275.6 350.9,274.7 351.5,274.7 352.2,275.0 352.8,275.6 353.4,275.5 354.0,274.9 354.8,274.2 355.6,274.2 356.4,275.5 357.2,276.1 357.9,276.0 358.7,275.2 359.5,276.4 360.2,277.9 361.0,279.4 361.7,278.4 362.4,278.7 363.2,280.0 363.9,280.2 364.5,279.9 365.2,279.0 365.9,278.7 366.5,278.5 367.1,280.3 367.7,281.7 368.3,281.6 368.9,281.5 369.5,280.8 370.0,280.1 370.5,279.8 371.0,279.4 371.5,280.0 371.9,281.0 372.4,281.4 372.8,281.0 373.1,280.0 373.5,277.8 373.8,277.0 374.1,277.3 374.4,276.8 374.7,276.0 375.0,274.6 375.3,273.1 375.5,271.6 375.8,271.7 376.0,271.8 376.2,271.9 376.4,271.0 376.7,269.9 376.9,268.7 377.1,266.7 377.3,265.8 377.5,265.3 377.8,264.8 378.0,264.4 378.2,264.0 378.4,263.2 378.6,262.9 378.8,263.6 378.9,262.1 379.1,259.3 379.3,260.9 379.4,260.8 379.6,258.0 379.8,258.3 379.9,258.4 380.1,255.9 380.2,255.3 380.3,255.2 380.5,253.9 380.6,252.3 380.8,250.8 380.9,252.2 381.0,252.5 381.2,251.8 381.3,249.6 381.4,248.4 381.6,249.0 381.7,248.2 381.8,246.7 382.0,247.3 382.1,247.1 382.3,244.3 382.4,242.6 382.5,242.7 382.7,242.4 382.8,241.5 383.0,241.0 383.3,241.5 383.5,241.2 383.8,240.7 384.1,239.8 384.3,237.9 384.6,236.6 384.9,236.1 385.1,236.5 385.4,235.2 385.7,233.6 385.9,232.6 386.2,232.7 386.4,232.9 386.7,233.3 386.9,234.1 387.1,235.5 387.4,236.9 387.6,236.8 387.8,237.7 388.1,240.1 388.3,238.3 388.5,238.7 388.8,240.3 389.0,240.3 389.3,240.5 389.5,241.4 389.7,242.4 390.0,243.2 390.2,244.4 390.4,245.7 390.6,246.5 390.8,247.3 391.0,248.2 391.2,248.6 391.4,248.8 391.6,250.7 391.8,251.8 392.0,252.0 392.2,254.1 392.4,254.5 392.6,252.9 392.8,254.6 393.0,255.8 393.2,256.5 393.4,257.0 393.6,258.1 393.9,260.2 394.1,259.5 394.3,259.5 394.5,261.9 394.7,262.5 394.9,261.8 395.1,262.2 395.4,262.7 395.6,263.9 395.8,265.0 396.0,265.4 396.4,265.9 396.7,265.8 397.1,266.0 397.4,267.6 397.8,270.8 398.2,270.1 398.6,269.3 399.1,269.1 399.6,269.1 400.3,270.4 401.1,271.0 402.0,270.2 403.0,269.0 403.9,268.5 404.7,269.6 405.4,269.2 405.8,267.9 406.0,267.5" stroke="#3646a8" stroke-width="1.2" fill="none"/>
<path d="M22.0,297.4 22.0,297.5 22.1,297.5 22.2,297.5 22.4,297.6 22.6,297.6 22.9,297.7 23.2,297.8 23.5,297.7 23.9,297.6 24.4,297.4 24.8,297.4 25.3,297.5 25.9,297.4 26.4,297.4 27.0,297.4 27.7,297.6 28.3,297.7 29.0,297.7 29.7,297.6 30.5,297.5 31.2,297.5 32.0,297.5 32.8,297.4 33.6,297.7 34.5,297.7 35.3,297.6 36.2,297.8 37.1,297.7 38.0,297.6 38.9,297.8 39.8,297.4 40.7,297.4 41.6,297.7 42.6,298.0 43.5,297.8 44.4,297.8 45.4,297.8 46.3,297.7 47.3,297.7 48.2,297.5 49.1,297.5 50.0,297.6 50.9,297.8 51.8,297.9 52.7,297.7 53.6,297.7 54.5,297.8 55.3,297.6 56.1,297.7 57.0,297.8 57.8,297.6 58.5,297.7 59.3,297.8 60.0,297.7 60.7,297.7 61.4,297.8 62.1,297.7 62.8,297.6 63.5,297.7 64.3,297.8 65.0,297.9 65.7,297.8 66.5,297.6 67.2,297.7 67.9,297.8 68.7,298.0 69.4,298.0 70.2,297.9 70.9,298.0 71.7,298.1 72.5,298.1 73.2,298.0 74.0,297.9 74.7,297.8 75.5,297.9 76.2,298.0 77.0,298.2 77.8,298.2 78.5,298.1 79.3,298.2 80.0,298.1 80.8,298.0 81.5,298.0 82.3,298.1 83.0,298.3 83.7,298.4 84.5,298.3 85.2,298.2 85.9,298.1 86.6,297.9 87.3,298.0 88.1,298.2 88.8,297.9 89.5,297.9 90.1,298.3 90.8,298.4 91.5,298.4 92.2,298.4 92.8,298.3 93.5,298.1 94.1,298.0 94.8,298.2 95.4,298.3 96.0,298.0 96.6,297.9 97.2,298.1 97.8,298.3 98.3,298.1 98.9,298.0 99.5,297.8 100.0,297.7 100.9,298.1 101.7,298.1 102.5,297.9 103.3,298.1 104.1,298.0 104.8,298.0 105.5,297.9 106.2,297.8 106.9,297.9 107.6,297.8 108.3,297.5 109.0,297.6 109.6,297.8 110.3,297.5 110.9,297.3 111.6,297.1 112.3,297.0 112.9,297.1 113.6,297.0 114.3,296.8 115.0,296.7 115.7,296.7 116.4,296.8 117.1,296.6 117.9,296.3 118.6,296.1 119.3,296.0 120.0,295.9 120.7,295.8 121.4,295.6 122.1,295.7 122.9,295.7 123.6,295.6 124.3,295.4 125.0,295.2 125.7,295.2 126.4,295.0 127.1,294.6 127.9,294.6 128.6,294.7 129.3,294.4 130.0,294.4 130.7,294.6 131.4,294.7 132.1,294.7 132.9,294.7 133.6,294.7 134.3,294.6 135.0,294.6 135.7,294.6 136.4,295.1 137.1,295.4 137.9,295.4 138.6,295.5 139.3,295.7 140.0,295.9 140.7,296.0 141.4,295.8 142.1,296.0 142.9,296.4 143.6,296.4 144.3,296.5 145.0,296.7 145.7,296.7 146.4,296.6 147.1,296.5 147.9,296.7 148.6,297.0 149.3,296.9 150.0,296.8 150.7,297.0 151.4,297.2 152.1,297.2 152.8,297.1 153.6,296.9 154.3,297.1 155.0,297.2 155.7,297.1 156.4,297.1 157.1,297.0 157.8,297.0 158.6,297.2 159.3,297.5 160.0,297.5 160.7,297.2 161.4,297.3 162.2,297.4 163.0,297.5 163.7,297.4 164.5,297.4 165.3,297.8 166.1,298.0 166.9,298.1 167.7,298.2 168.5,298.1 169.3,297.9 170.0,297.9 170.7,297.9 171.4,298.0 172.1,298.1 172.8,298.2 173.4,298.1 174.0,297.9 174.5,297.7 175.0,297.5 175.4,297.3 176.0,296.9 176.6,296.2 177.0,295.7 177.4,295.4 177.7,294.6 177.9,293.7 178.2,292.9 178.5,292.1 178.6,291.7 178.8,291.0 178.9,290.3 179.0,289.9 179.1,289.5 179.2,288.9 179.3,288.1 179.4,287.6 179.4,287.1 179.5,286.2 179.6,285.3 179.6,284.6 179.7,284.0 179.7,283.5 179.8,282.7 179.8,281.9 179.8,281.1 179.9,280.3 179.9,279.6 179.9,278.7 180.0,277.9 180.0,277.2 180.0,276.1 180.0,275.5 180.1,275.0 180.1,273.9 180.1,273.2 180.2,272.6 180.2,271.7 180.3,270.8 180.3,270.1 180.3,269.4 180.4,268.8 180.4,268.0 180.4,267.3 180.5,266.9 180.5,266.3 180.5,265.5 180.6,264.9 180.6,264.4 180.6,263.8 180.6,263.2 180.7,262.5 180.7,261.8 180.7,261.2 180.7,260.5 180.8,259.7 180.8,259.0 180.8,258.4 180.8,257.8 180.8,257.3 180.9,256.3 180.9,255.4 180.9,254.7 180.9,254.0 180.9,253.4 181.0,252.8 181.0,252.1 181.0,251.3 181.0,250.4 181.0,249.8 181.1,249.2 181.1,248.8 181.1,247.8 181.1,246.9 181.2,246.1 181.2,245.3 181.2,244.6 181.2,244.0 181.2,243.2 181.3,242.2 181.3,241.6 181.3,240.9 181.4,240.1 181.4,239.3 181.4,238.4 181.4,237.7 181.5,237.0 181.5,236.0 181.5,235.1 181.5,234.7 181.6,234.4 181.6,233.6 181.6,232.7 181.7,232.0 181.7,231.3 181.7,230.9 181.7,230.3 181.8,229.4 181.8,228.7 181.8,227.9 181.9,226.9 181.9,226.3 181.9,225.7 182.0,224.6 182.0,223.9 182.0,223.1 182.1,222.1 182.1,221.3 182.1,220.6 182.2,219.7 182.2,218.7 182.2,217.8 182.3,216.9 182.3,215.8 182.4,215.2 182.4,214.4 182.4,213.4 182.5,212.2 182.5,211.5 182.6,210.7 182.6,209.6 182.6,208.5 182.7,208.0 182.7,207.1 182.8,205.9 182.8,204.7 182.8,203.8 182.9,202.8 182.9,201.9 183.0,201.0 183.0,200.0 183.0,199.3 183.1,198.3 183.1,197.3 183.2,196.4 183.2,195.6 183.2,194.6 183.3,193.9 183.3,193.1 183.4,192.1 183.4,190.9 183.4,190.0 183.5,189.1 183.5,188.2 183.5,187.5 183.6,186.6 183.6,185.7 183.7,185.2 183.7,184.5 183.7,183.7 183.8,183.0 183.8,182.0 183.8,180.9 183.9,180.1 183.9,179.5 183.9,179.1 184.0,178.2 184.0,177.5 184.0,177.0 184.1,176.3 184.1,175.5 184.1,174.8 184.1,174.1 184.2,173.4 184.2,172.8 184.2,172.4 184.2,172.2 184.3,171.7 184.3,171.1 184.3,170.5 184.3,170.0 184.3,169.5 184.4,169.1 184.4,168.7 184.4,168.4 184.4,168.0 184.4,167.8 184.4,167.5 184.4,167.3 184.5,167.1 184.5,166.9 184.5,166.7 184.5,166.6 184.5,166.5 184.5,166.4 184.5,166.3 184.5,166.2 184.5,166.2" stroke="#1f1f1f" stroke-width="1.3" fill="none"/>
<path d="M209.0,166.0 209.0,166.0 209.0,166.1 209.0,166.2 209.0,166.4 209.1,166.6 209.1,166.9 209.1,167.3 209.1,167.8 209.2,168.3 209.2,169.0 209.3,169.7 209.3,170.2 209.3,170.7 209.4,171.4 209.4,172.2 209.5,172.9 209.6,173.6 209.6,174.4 209.7,175.3 209.7,176.1 209.8,176.8 209.9,177.9 209.9,179.0 210.0,179.7 210.0,180.4 210.1,181.5 210.2,182.7 210.2,183.8 210.3,184.5 210.4,185.1 210.4,186.4 210.5,187.4 210.5,188.4 210.6,189.3 210.7,190.0 210.7,190.7 210.8,191.7 210.8,192.7 210.9,193.7 210.9,194.6 211.0,195.2 211.0,195.8 211.0,196.6 211.1,197.4 211.1,198.1 211.1,198.8 211.2,199.5 211.2,200.0 211.2,200.4 211.3,201.3 211.3,202.1 211.3,202.7 211.3,203.5 211.4,204.3 211.4,205.0 211.4,205.6 211.5,206.2 211.5,207.1 211.5,208.1 211.5,208.6 211.6,209.4 211.6,210.3 211.6,210.9 211.6,211.5 211.7,212.4 211.7,213.2 211.7,214.1 211.7,214.6 211.8,215.2 211.8,216.2 211.8,216.8 211.8,217.4 211.9,218.5 211.9,219.2 211.9,219.5 211.9,220.5 212.0,221.4 212.0,222.0 212.0,222.6 212.0,223.3 212.1,224.0 212.1,224.8 212.1,225.6 212.1,226.3 212.1,227.0 212.2,227.5 212.2,228.1 212.2,229.0 212.2,229.7 212.3,230.3 212.3,231.0 212.3,231.9 212.3,232.5 212.4,232.9 212.4,233.5 212.4,234.2 212.4,234.7 212.5,235.2 212.5,236.0 212.5,237.1 212.6,237.6 212.6,238.5 212.6,239.4 212.7,240.3 212.7,241.0 212.7,241.6 212.8,242.5 212.8,243.2 212.8,243.8 212.9,244.4 212.9,245.1 212.9,245.8 213.0,246.7 213.0,247.6 213.1,248.4 213.1,249.1 213.1,249.5 213.2,250.2 213.2,250.9 213.3,251.7 213.3,252.5 213.3,252.9 213.4,253.4 213.4,254.0 213.5,254.6 213.5,255.3 213.6,256.0 213.7,256.8 213.8,257.7 213.8,258.7 213.9,259.4 214.0,260.0 214.1,260.4 214.1,261.2 214.2,262.0 214.3,262.6 214.4,263.2 214.6,263.7 214.7,264.4 214.8,265.3 215.0,266.1 215.2,267.0 215.4,267.4 215.6,268.1 215.8,269.0 216.1,269.7 216.3,270.3 216.6,270.7 216.9,271.7 217.2,272.6 217.5,272.9 217.8,273.6 218.1,274.4 218.4,275.2 218.7,275.8 219.0,276.2 219.4,276.9 219.7,277.7 220.0,278.3 220.4,279.0 220.8,279.8 221.1,280.2 221.5,280.8 221.9,281.5 222.3,282.1 222.8,282.7 223.2,283.1 223.7,283.7 224.2,284.2 224.8,284.8 225.4,285.4 225.9,286.0 226.5,286.4 227.1,286.7 227.7,287.4 228.3,287.9 229.0,288.2 229.6,288.5 230.2,288.8 230.8,289.2 231.4,289.6 232.0,290.2 232.7,290.3 233.3,290.4 234.0,291.0 234.6,291.3 235.3,291.3 236.0,291.9 236.6,292.4 237.3,292.4 238.0,292.6 238.6,292.9 239.3,293.3 240.0,293.6 240.6,293.5 241.3,293.5 242.0,293.7 242.7,294.1 243.4,294.5 244.1,294.6 244.8,294.8 245.6,295.0 246.3,295.0 247.0,295.0 247.7,295.2 248.4,295.2 249.1,295.2 249.8,295.3 250.6,295.4 251.3,295.4 252.0,295.4 252.8,295.6 253.5,295.5 254.3,295.5 255.0,295.5 255.8,295.6 256.5,295.7 257.3,295.5 258.0,295.6 258.7,295.9 259.4,295.9 260.0,295.8 260.7,295.7 261.4,295.6 262.0,295.6 262.7,295.6 263.4,295.8 264.0,295.9 264.7,295.9 265.4,296.0 266.1,296.0 266.9,295.9 267.6,295.8 268.4,295.8 269.2,296.0 270.0,296.0 270.6,295.8 271.2,295.9 271.8,296.2 272.5,296.2 273.2,296.2 273.9,296.2 274.6,296.3 275.3,296.2 276.0,296.1 276.8,295.8 277.6,296.0 278.4,296.1 279.1,296.0 279.9,295.9 280.7,295.9 281.5,296.3 282.3,296.1 283.1,296.1 283.9,296.1 284.7,296.1 285.5,295.9 286.3,295.7 287.1,295.9 287.8,296.1 288.6,295.8 289.3,295.7 290.0,295.7 290.7,295.8 291.4,295.8 292.1,295.6 292.7,295.6 293.3,295.6 293.9,295.7 294.5,295.7 295.0,295.7 295.5,295.4 296.0,295.2 297.0,295.4 297.8,295.1 298.6,294.7 299.3,294.7 299.9,294.6 300.6,294.5 301.3,294.4 302.0,294.3 302.7,294.0 303.4,294.1 304.2,294.3 304.9,294.8 305.6,295.2 306.3,295.2 307.1,295.3 308.0,295.4 308.6,295.5 309.2,295.6 309.8,295.7 310.4,295.9 311.0,295.9 311.6,295.9 312.2,295.9 312.9,295.9 313.6,295.8 314.3,295.8 315.0,295.9 315.7,295.9 316.5,295.8 317.3,295.7 318.2,296.1 319.1,296.2 320.0,296.2 320.5,296.1 321.0,296.1 321.5,296.2 322.0,296.3 322.6,296.1 323.1,296.0 323.7,296.1 324.3,296.2 325.0,296.1 325.6,295.9 326.3,296.0 326.9,296.2 327.6,296.3 328.3,296.3 329.0,296.4 329.8,296.4 330.5,296.4 331.2,296.5 332.0,296.4 332.8,296.1 333.6,296.3 334.3,296.4 335.1,296.3 335.9,296.3 336.7,296.2 337.6,296.3 338.4,296.5 339.2,296.6 340.0,296.7 340.9,296.7 341.7,296.7 342.5,296.6 343.4,296.4 344.2,296.3 345.1,296.4 345.9,296.6 346.8,296.5 347.6,296.4 348.4,296.5 349.3,296.4 350.1,296.4 350.9,296.4 351.8,296.7 352.6,296.6 353.4,296.5 354.2,296.8 355.0,296.7 355.8,296.6 356.6,296.8 357.4,296.7 358.1,296.5 358.9,296.5 359.6,296.5 360.4,296.5 361.1,296.4 361.8,296.2 362.5,296.4 363.2,296.5 363.9,296.4 364.5,296.3 365.2,296.1 365.8,296.3 366.4,296.6 367.0,296.4 367.6,296.2 368.1,296.0 368.6,295.9 369.2,296.0 369.7,296.2 370.1,296.3 370.6,296.1 371.0,295.8 372.0,295.6 372.8,295.3 373.7,295.1 374.4,294.9 375.1,294.9 375.8,294.9 376.4,294.7 377.1,294.4 377.7,294.1 378.2,293.8 378.8,293.5 379.4,293.1 380.0,292.8 380.7,292.6 381.3,292.5 381.9,291.7 382.6,291.2 383.2,290.9 383.7,290.3 384.3,289.7 384.9,289.1 385.4,289.0 386.0,289.2 386.6,289.2 387.1,289.2 387.7,289.7 388.2,290.5 388.8,291.2 389.3,291.8 389.9,292.3 390.4,292.7 391.0,293.1 391.7,293.5 392.3,293.6 393.0,293.6 393.7,294.0 394.4,294.2 395.2,294.2 396.0,294.4 396.7,294.5 397.4,294.4 398.3,294.5 399.2,294.7 400.1,294.6 401.1,294.6 402.0,294.5 402.9,294.4 403.8,294.3 404.5,294.4 405.1,294.4 405.6,294.3 405.9,294.2 406.0,294.2" stroke="#1f1f1f" stroke-width="1.3" fill="none"/>
</g>
<text transform="translate(192.5,292.4) rotate(-90)" class="mono">Monomers</text>
<text x="261.5" y="189.8" class="title">B: Engineered</text>
<text x="261.5" y="211.7" class="title">Protein 1</text>
<path d="M21.95,476 L21.95,345.1 L409.1,345.1 L409.1,476" fill="none" stroke="#2b2b2b" stroke-width="1.55" stroke-linejoin="round"/>
<path d="M21.25,476 L409.8,476" fill="none" stroke="#2b2b2b" stroke-width="1.25"/>
<path d="M24.1,476 L24.1,480.6 M29.6,476 L29.6,478.4 M35.1,476 L35.1,478.4 M40.6,476 L40.6,478.4 M46.1,476 L46.1,478.4 M51.7,476 L51.7,480.6 M57.2,476 L57.2,478.4 M62.7,476 L62.7,478.4 M68.2,476 L68.2,478.4 M73.7,476 L73.7,478.4 M79.2,476 L79.2,480.6 M84.7,476 L84.7,478.4 M90.2,476 L90.2,478.4 M95.7,476 L95.7,478.4 M101.2,476 L101.2,478.4 M106.8,476 L106.8,480.6 M112.3,476 L112.3,478.4 M117.8,476 L117.8,478.4 M123.3,476 L123.3,478.4 M128.8,476 L128.8,478.4 M134.3,476 L134.3,480.6 M139.8,476 L139.8,478.4 M145.3,476 L145.3,478.4 M150.8,476 L150.8,478.4 M156.3,476 L156.3,478.4 M161.8,476 L161.8,480.6 M167.4,476 L167.4,478.4 M172.9,476 L172.9,478.4 M178.4,476 L178.4,478.4 M183.9,476 L183.9,478.4 M189.4,476 L189.4,480.6 M194.9,476 L194.9,478.4 M200.4,476 L200.4,478.4 M205.9,476 L205.9,478.4 M211.4,476 L211.4,478.4 M216.9,476 L216.9,480.6 M222.5,476 L222.5,478.4 M228.0,476 L228.0,478.4 M233.5,476 L233.5,478.4 M239.0,476 L239.0,478.4 M244.5,476 L244.5,480.6 M250.0,476 L250.0,478.4 M255.5,476 L255.5,478.4 M261.0,476 L261.0,478.4 M266.5,476 L266.5,478.4 M272.1,476 L272.1,480.6 M277.6,476 L277.6,478.4 M283.1,476 L283.1,478.4 M288.6,476 L288.6,478.4 M294.1,476 L294.1,478.4 M299.6,476 L299.6,480.6 M305.1,476 L305.1,478.4 M310.6,476 L310.6,478.4 M316.1,476 L316.1,478.4 M321.6,476 L321.6,478.4 M327.2,476 L327.2,480.6 M332.7,476 L332.7,478.4 M338.2,476 L338.2,478.4 M343.7,476 L343.7,478.4 M349.2,476 L349.2,478.4 M354.7,476 L354.7,480.6 M360.2,476 L360.2,478.4 M365.7,476 L365.7,478.4 M371.2,476 L371.2,478.4 M376.7,476 L376.7,478.4 M382.3,476 L382.3,480.6 M387.8,476 L387.8,478.4 M393.3,476 L393.3,478.4 M398.8,476 L398.8,478.4 M404.3,476 L404.3,478.4 M409.8,476 L409.8,480.6" stroke="#2b2b2b" stroke-width="1.1" fill="none"/>
<text x="25.3" y="487.8" class="tl">110</text>
<text x="52.9" y="487.8" class="tl">130</text>
<text x="80.4" y="487.8" class="tl">150</text>
<text x="108.0" y="487.8" class="tl">170</text>
<text x="135.5" y="487.8" class="tl">190</text>
<text x="163.0" y="487.8" class="tl">110</text>
<text x="190.6" y="487.8" class="tl">130</text>
<text x="218.1" y="487.8" class="tl">150</text>
<text x="245.7" y="487.8" class="tl">170</text>
<text x="273.2" y="487.8" class="tl">200</text>
<text x="300.8" y="487.8" class="tl">220</text>
<text x="328.4" y="487.8" class="tl">240</text>
<text x="355.9" y="487.8" class="tl">260</text>
<text x="383.5" y="487.8" class="tl">200</text>
<text x="411.0" y="487.8" class="tl">20</text>
<text x="21.5" y="384.6" class="yl">0.00</text>
<text x="21.5" y="426.6" class="yl">0.05</text>
<text x="21.5" y="468.6" class="yl">0.00</text>
<text transform="translate(12.4,405.8) rotate(-90)" class="au">AU</text>
<text x="210" y="497.3" class="mins">Mins</text>
<g clip-path="url(#clipC)">
<path d="M22.0,470.1 22.1,470.1 22.4,470.0 23.0,469.9 23.7,469.8 24.5,470.1 25.5,470.3 26.6,469.9 27.7,469.6 29.0,469.5 30.3,469.7 31.6,470.1 32.9,470.3 34.3,470.1 35.6,469.9 36.8,470.0 38.0,470.2 39.0,470.1 40.0,469.9 41.1,469.7 42.2,469.7 43.4,469.9 44.5,470.1 45.6,469.8 46.7,469.7 47.7,469.6 48.7,470.0 49.6,470.2 50.5,470.3 51.3,469.9 52.0,469.4 53.0,469.1 53.8,468.8 54.4,468.2 55.2,467.2 55.9,465.9 56.7,465.0 57.5,464.3 58.2,463.6 59.0,462.6 59.8,462.2 60.6,461.7 61.3,460.7 62.1,459.3 62.9,458.6 63.6,458.2 64.4,457.9 65.2,458.0 65.9,458.2 66.7,459.3 67.5,460.6 68.2,460.8 69.0,461.5 69.8,462.5 70.5,463.7 71.3,464.3 72.0,465.5 72.8,466.4 73.6,466.9 74.6,467.6 75.6,467.7 76.7,467.2 78.0,467.5 78.8,467.6 79.6,467.5 80.5,467.4 81.5,467.2 82.4,466.9 83.4,466.6 84.5,466.6 85.6,466.7 86.6,466.7 87.8,466.5 88.9,466.6 90.0,466.6 90.9,466.5 91.8,466.3 92.7,466.2 93.7,466.3 94.7,466.5 95.7,466.7 96.7,466.4 97.7,465.8 98.7,465.8 99.7,465.7 100.8,465.4 101.8,465.4 102.9,465.4 103.9,465.3 104.9,465.5 106.0,465.7 107.0,466.0 108.0,465.9 109.0,465.8 110.0,466.0 111.0,465.9 112.1,465.7 113.1,465.5 114.1,465.3 115.2,465.2 116.2,464.7 117.2,464.5 118.2,464.7 119.2,464.6 120.2,464.5 121.2,464.7 122.3,464.4 123.3,464.0 124.3,464.3 125.3,464.3 126.4,464.2 127.4,464.3 128.5,464.3 129.5,464.2 130.5,464.0 131.5,464.0 132.5,464.6 133.5,464.7 134.6,464.8 135.6,464.7 136.7,464.5 137.7,464.3 138.7,464.7 139.8,465.1 140.8,465.4 141.9,465.5 142.9,465.6 143.9,465.4 145.0,465.0 146.0,465.1 147.0,465.8 148.0,465.7 149.0,465.6 150.0,465.3 151.1,465.6 152.1,466.1 153.2,466.0 154.3,466.1 155.4,466.0 156.5,465.5 157.6,465.7 158.6,465.8 159.7,465.7 160.8,465.6 161.8,465.7 162.8,466.1 163.7,466.1 164.7,466.0 165.6,465.8 166.4,465.7 167.2,465.8 168.0,465.9 169.2,466.2 170.3,466.0 171.3,465.8 172.2,465.9 173.1,465.8 174.0,465.3 175.1,465.3 176.2,464.9 177.1,463.6 178.0,463.2 178.6,462.8 179.2,462.0 179.7,461.2 180.1,460.3 180.5,459.5 180.8,458.5 181.1,457.3 181.4,456.2 181.6,455.2 181.9,454.3 182.1,453.2 182.3,452.1 182.5,451.3 182.6,450.5 182.8,449.5 182.9,447.8 183.0,446.7 183.1,445.9 183.2,445.3 183.3,443.9 183.4,442.4 183.5,441.8 183.6,440.6 183.6,439.3 183.7,438.8 183.7,438.3 183.8,437.5 183.9,436.5 183.9,435.2 184.0,434.2 184.0,433.3 184.0,432.2 184.1,431.3 184.1,430.6 184.2,429.5 184.2,428.4 184.3,427.4 184.3,426.2 184.4,425.0 184.4,424.1 184.4,423.3 184.5,422.3 184.5,421.1 184.6,420.1 184.6,418.7 184.6,417.4 184.7,416.6 184.7,415.8 184.7,414.8 184.8,413.8 184.8,412.9 184.8,412.1 184.8,411.5 184.9,410.1 184.9,408.9 184.9,408.2 184.9,407.4 185.0,406.6 185.0,405.7 185.0,404.5 185.0,402.8 185.1,401.8 185.1,401.0 185.1,400.1 185.1,399.4 185.2,398.5 185.2,396.9 185.2,396.0 185.2,395.3 185.3,393.9 185.3,392.8 185.3,391.9 185.3,391.1 185.4,389.8 185.4,388.1 185.4,387.2 185.4,386.2 185.5,385.0 185.5,383.9 185.5,382.9 185.5,382.0 185.6,381.2 185.6,380.2 185.6,379.1 185.7,377.8 185.7,376.8 185.7,376.3 185.7,374.9 185.8,373.5 185.8,372.2 185.8,371.6 185.9,370.5 185.9,368.9 185.9,367.4 186.0,366.8 186.0,365.4 186.1,363.6 186.1,361.9 186.1,360.7 186.2,360.1 186.2,358.7 186.2,356.7 186.3,355.7 186.3,354.7 186.3,353.3 186.4,351.9 186.4,350.8 186.5,349.7 186.5,348.1 186.5,346.6 186.6,345.9 186.6,344.8 186.6,343.3 186.7,341.9 186.7,341.1 186.7,340.1 186.7,339.1 186.8,338.2 186.8,337.2 186.8,336.2 186.9,335.1 186.9,334.2 186.9,333.4 186.9,332.7 186.9,332.2 186.9,331.8 187.0,331.4 187.0,331.0 187.0,330.5 187.0,330.2 187.0,329.9 187.0,329.8 187.0,329.7" stroke="#62c2da" stroke-width="1.3" fill="none"/>
<path d="M211.5,330.4 211.5,330.5 211.5,330.6 211.5,330.8 211.5,331.1 211.5,331.4 211.5,331.8 211.6,332.2 211.6,332.4 211.6,332.7 211.6,333.4 211.6,334.3 211.6,335.2 211.7,336.0 211.7,336.8 211.7,337.3 211.7,338.3 211.8,339.8 211.8,340.9 211.8,341.8 211.9,342.5 211.9,343.4 211.9,344.6 212.0,346.0 212.0,347.6 212.1,348.7 212.1,350.0 212.1,351.4 212.2,352.1 212.2,353.3 212.3,354.8 212.3,356.6 212.3,357.9 212.4,358.7 212.4,360.0 212.5,362.0 212.5,362.9 212.6,364.4 212.6,365.7 212.7,366.7 212.7,368.2 212.7,369.9 212.8,371.4 212.8,372.5 212.9,373.4 212.9,374.7 213.0,375.5 213.0,376.7 213.1,378.0 213.1,379.1 213.1,380.5 213.2,381.8 213.2,382.7 213.3,383.7 213.3,384.7 213.4,385.4 213.4,386.0 213.5,387.4 213.5,388.3 213.6,389.2 213.6,390.5 213.7,391.6 213.7,392.7 213.8,393.8 213.9,395.2 213.9,396.2 214.0,396.8 214.0,398.0 214.1,399.0 214.1,399.9 214.2,401.3 214.3,402.5 214.3,403.3 214.4,404.1 214.5,404.9 214.6,405.7 214.6,406.5 214.7,407.7 214.8,408.9 214.9,409.7 215.0,410.5 215.1,411.2 215.3,412.3 215.5,413.6 215.6,414.9 215.8,415.6 215.9,416.3 216.1,417.3 216.3,418.1 216.5,418.9 216.8,420.0 217.0,421.0 217.4,422.5 217.8,423.3 218.3,424.2 218.7,425.1 219.2,425.6 219.6,425.5 220.0,425.1 220.5,423.7 220.9,422.3 221.4,421.2 221.9,420.4 222.5,419.5 223.2,418.2 223.9,416.8 224.6,415.7 225.4,415.3 226.1,414.9 226.8,414.9 227.3,415.1 227.8,415.7 228.3,416.4 228.8,417.1 229.2,417.8 229.7,418.7 230.2,420.1 230.6,421.1 231.0,422.3 231.4,423.6 231.8,424.7 232.1,425.9 232.4,427.0 232.6,428.0 232.9,429.0 233.1,430.0 233.3,430.6 233.5,431.8 233.7,433.1 233.9,433.5 234.1,434.7 234.3,436.2 234.5,437.0 234.7,438.1 234.9,439.2 235.2,439.9 235.5,440.9 235.7,442.4 236.0,442.7 236.2,443.6 236.5,445.2 236.8,446.2 237.0,447.1 237.3,447.7 237.6,448.9 237.9,450.0 238.3,450.5 238.6,451.4 239.0,452.6 239.4,453.3 240.0,454.1 240.5,455.1 241.1,455.8 241.8,456.8 242.5,458.1 243.1,458.9 243.8,459.5 244.6,459.7 245.3,460.9 246.2,461.9 247.1,462.0 248.0,462.8 249.0,463.5 250.0,464.1 251.0,464.7 252.0,465.3 252.9,465.7 253.9,465.9 254.9,465.9 255.9,465.7 256.9,465.5 257.9,465.3 258.9,465.0 260.0,465.0 260.9,465.1 261.9,465.4 262.9,465.6 263.8,465.6 264.8,465.5 265.8,465.6 266.8,466.0 267.9,465.8 268.9,465.4 270.0,465.3 270.9,465.4 271.9,465.4 272.9,465.3 274.0,465.4 275.1,466.1 276.1,465.9 277.2,465.7 278.3,465.7 279.4,465.6 280.4,465.5 281.5,465.4 282.4,465.5 283.4,465.6 284.2,465.7 285.0,465.8 286.3,465.8 287.4,466.3 288.4,466.4 289.4,466.1 290.4,465.8 291.4,465.5 292.4,465.3 293.4,465.2 294.4,465.2 295.4,465.0 296.4,464.9 297.4,464.8 298.4,464.3 299.4,463.4 300.4,462.7 301.4,462.6 302.4,461.9 303.4,461.3 304.4,461.0 305.4,460.8 306.4,460.8 307.4,460.8 308.4,461.3 309.4,462.1 310.4,463.0 311.4,463.6 312.4,464.0 313.4,464.4 314.4,465.3 315.4,465.7 316.4,465.9 317.3,465.6 318.3,465.5 319.3,465.4 320.4,465.8 321.3,466.1 322.2,466.2 323.2,466.1 324.2,465.8 325.3,465.7 326.3,465.9 327.5,466.2 328.7,465.8 330.0,466.3 330.8,466.6 331.6,466.5 332.5,466.4 333.4,466.2 334.3,466.2 335.3,466.3 336.3,466.2 337.4,466.1 338.4,466.1 339.5,466.1 340.5,466.3 341.6,466.8 342.7,466.6 343.8,466.5 344.9,466.7 346.0,466.5 347.1,466.5 348.1,466.9 349.2,466.7 350.2,466.7 351.2,466.7 352.2,466.6 353.2,466.5 354.1,466.6 355.0,466.5 356.1,466.2 357.2,466.9 358.4,467.1 359.5,466.8 360.6,466.7 361.6,466.8 362.7,466.8 363.7,466.4 364.7,466.3 365.7,466.5 366.6,466.5 367.5,466.5 368.4,466.9 369.2,467.0 370.0,466.6 371.3,466.5 372.4,466.9 373.4,467.3 374.4,467.4 375.4,467.3 376.4,467.2 377.4,466.9 378.4,466.5 379.4,466.2 380.4,466.0 381.4,466.0 382.4,465.3 383.4,464.7 384.4,464.4 385.4,463.6 386.4,463.2 387.4,462.8 388.4,462.2 389.4,461.9 390.4,461.9 391.4,462.2 392.4,462.3 393.4,462.5 394.4,463.6 395.4,463.6 396.4,463.9 397.4,465.2 398.4,465.0 399.4,465.6 400.4,466.3 401.5,466.5 402.8,467.0 404.0,467.1 405.0,466.8 405.4,466.7 405.2,466.3 405.0,466.0 405.7,466.1 407.1,467.0 408.4,467.2 409.0,467.4" stroke="#62c2da" stroke-width="1.3" fill="none"/>
<path d="M22.0,469.0 22.1,468.9 22.4,468.8 23.0,468.6 23.7,468.4 24.5,468.9 25.5,469.2 26.6,468.7 27.7,468.7 29.0,468.6 30.3,468.3 31.6,468.5 32.9,468.9 34.3,469.1 35.6,469.0 36.8,468.9 38.0,468.7 39.0,468.9 40.0,469.0 41.1,468.9 42.2,468.6 43.4,468.6 44.5,468.9 45.6,469.0 46.7,469.1 47.7,469.2 48.7,468.8 49.6,468.6 50.5,468.6 51.3,468.6 52.0,468.4 53.2,467.7 54.2,466.9 55.2,466.4 56.1,466.1 57.0,465.4 57.9,464.5 58.9,463.4 59.8,463.2 60.7,462.4 61.6,461.4 62.6,461.2 63.5,460.4 64.4,459.9 65.3,460.0 66.2,460.6 67.2,461.4 68.1,462.4 69.0,463.0 69.9,463.8 70.8,465.1 71.7,465.9 72.7,466.2 73.6,466.4 74.6,466.9 75.6,466.8 76.7,466.5 78.0,466.3 78.8,466.1 79.6,466.0 80.5,466.5 81.4,466.9 82.4,467.0 83.4,466.7 84.5,466.1 85.6,466.5 86.6,466.6 87.8,466.7 88.9,466.6 90.0,466.8 90.9,466.9 91.8,467.2 92.7,467.3 93.7,466.6 94.7,466.7 95.7,467.3 96.7,466.8 97.7,466.4 98.7,466.2 99.7,466.7 100.8,466.9 101.8,466.4 102.9,466.1 103.9,466.0 104.9,465.9 106.0,465.9 107.0,466.0 108.0,465.7 109.0,465.6 110.0,465.6 111.0,465.6 112.1,465.7 113.1,465.9 114.1,465.7 115.2,465.5 116.2,465.3 117.2,465.3 118.2,465.4 119.2,465.5 120.2,465.5 121.2,465.4 122.3,465.0 123.3,465.0 124.3,465.4 125.3,465.3 126.4,465.1 127.4,464.9 128.5,464.8 129.5,464.7 130.5,464.6 131.5,464.5 132.5,464.5 133.5,465.2 134.6,465.3 135.6,465.1 136.7,464.8 137.7,465.0 138.7,465.8 139.8,465.8 140.8,465.6 141.9,465.0 142.9,465.5 143.9,465.7 145.0,465.5 146.0,465.7 147.0,466.0 148.0,466.2 149.0,466.1 150.0,465.8 151.1,466.0 152.1,466.1 153.2,466.3 154.3,465.9 155.4,466.0 156.5,466.3 157.6,466.2 158.6,466.5 159.7,466.8 160.8,466.2 161.8,466.2 162.8,466.6 163.7,466.1 164.7,465.9 165.6,466.0 166.4,466.0 167.2,465.9 168.0,465.9 169.2,465.9 170.3,466.1 171.3,466.0 172.2,465.7 173.1,465.9 174.0,466.0 175.1,465.0 176.2,464.7 177.1,464.4 178.0,463.9 178.6,462.7 179.2,461.5 179.7,460.6 180.1,460.0 180.5,459.2 180.8,458.1 181.1,457.4 181.4,456.7 181.6,455.2 181.9,454.0 182.1,453.0 182.3,452.4 182.5,451.4 182.6,450.0 182.8,449.4 182.9,448.7 183.0,447.6 183.1,446.2 183.2,444.7 183.3,443.9 183.4,443.0 183.5,441.7 183.6,440.4 183.6,439.7 183.7,439.3 183.7,438.5 183.8,437.5 183.9,436.6 183.9,435.6 184.0,434.6 184.0,433.3 184.0,432.0 184.1,431.6 184.1,430.7 184.2,429.0 184.2,428.3 184.3,427.6 184.3,426.5 184.4,425.1 184.4,423.9 184.4,423.2 184.5,421.9 184.5,420.8 184.6,419.9 184.6,418.2 184.6,417.4 184.7,417.1 184.7,416.1 184.7,414.8 184.8,414.1 184.8,413.3 184.8,412.2 184.8,411.2 184.9,410.5 184.9,409.2 184.9,408.0 184.9,407.2 185.0,406.1 185.0,404.7 185.0,404.0 185.0,403.1 185.1,401.8 185.1,401.2 185.1,400.6 185.1,399.4 185.2,398.2 185.2,397.1 185.2,396.4 185.2,395.5 185.3,394.5 185.3,393.4 185.3,391.9 185.3,390.3 185.4,389.7 185.4,388.9 185.4,387.8 185.4,386.6 185.5,385.2 185.5,383.8 185.5,383.5 185.5,382.4 185.6,381.0 185.6,380.1 185.6,379.3 185.7,378.4 185.7,376.9 185.7,375.6 185.7,374.3 185.8,373.9 185.8,372.6 185.8,371.0 185.9,369.5 185.9,368.4 185.9,367.7 186.0,366.7 186.0,365.1 186.1,363.3 186.1,361.9 186.1,361.2 186.2,360.0 186.2,358.5 186.2,357.0 186.3,355.2 186.3,354.2 186.3,353.3 186.4,351.7 186.4,350.0 186.5,349.0 186.5,347.4 186.5,346.9 186.6,345.6 186.6,343.9 186.6,343.5 186.7,342.5 186.7,341.3 186.7,340.1 186.7,338.7 186.8,337.4 186.8,336.9 186.8,336.2 186.9,335.3 186.9,334.4 186.9,333.7 186.9,333.0 186.9,332.2 186.9,331.5 187.0,331.1 187.0,330.8 187.0,330.5 187.0,330.3 187.0,330.2 187.0,330.1 187.0,330.0" stroke="#5cb25c" stroke-width="1.3" fill="none"/>
<path d="M211.5,329.6 211.5,329.6 211.5,329.8 211.5,330.1 211.5,330.5 211.5,331.0 211.5,331.6 211.6,332.2 211.6,332.5 211.6,332.9 211.6,333.4 211.6,334.0 211.6,334.7 211.7,335.5 211.7,336.4 211.7,337.5 211.7,338.5 211.8,339.7 211.8,340.7 211.8,341.8 211.9,343.1 211.9,344.0 211.9,345.0 212.0,346.3 212.0,347.9 212.1,348.6 212.1,349.4 212.1,350.7 212.2,352.3 212.2,353.6 212.3,354.7 212.3,356.2 212.3,357.5 212.4,358.8 212.4,360.9 212.5,361.8 212.5,363.5 212.6,364.8 212.6,366.1 212.7,367.4 212.7,368.7 212.7,369.6 212.8,371.1 212.8,372.3 212.9,373.3 212.9,374.8 213.0,376.0 213.0,377.3 213.1,378.5 213.1,379.1 213.1,380.1 213.2,381.4 213.2,382.7 213.3,383.8 213.3,384.7 213.4,385.7 213.4,386.6 213.5,387.0 213.5,388.0 213.6,389.1 213.6,390.2 213.7,391.7 213.7,393.1 213.8,394.2 213.9,395.2 213.9,396.2 214.0,397.3 214.0,398.1 214.1,399.0 214.1,400.0 214.2,401.1 214.3,402.3 214.3,403.1 214.4,403.8 214.5,404.8 214.6,405.7 214.6,406.5 214.7,407.4 214.8,408.2 214.9,409.3 215.0,410.3 215.1,411.2 215.2,412.1 215.4,412.9 215.5,414.3 215.6,415.5 215.8,416.5 215.9,417.6 216.1,418.8 216.2,419.8 216.4,420.7 216.5,421.6 216.7,422.6 216.9,423.5 217.1,424.3 217.3,425.1 217.5,426.0 217.9,427.9 218.4,428.3 218.9,429.5 219.4,430.8 220.0,431.7 220.9,431.0 221.9,429.8 223.0,429.0 224.0,428.5 225.0,427.9 226.0,427.8 226.6,428.1 227.3,428.6 227.9,429.6 228.5,431.5 229.1,432.8 229.7,433.5 230.2,434.5 230.5,435.5 230.8,436.4 231.1,437.2 231.3,438.0 231.5,439.8 231.8,441.2 232.0,442.2 232.2,442.8 232.4,443.7 232.6,444.9 232.9,446.4 233.2,447.5 233.5,448.5 233.9,449.2 234.3,450.1 234.6,451.0 235.0,451.9 235.5,453.2 235.9,454.5 236.4,455.4 236.9,456.3 237.4,457.1 238.0,457.4 238.6,458.0 239.3,459.1 240.0,460.2 240.8,461.0 241.7,461.4 242.5,461.8 243.4,462.2 244.3,462.5 245.2,462.9 246.1,463.4 247.0,464.3 247.9,464.5 248.9,464.4 249.8,465.2 250.8,465.7 251.8,465.7 252.8,465.7 253.8,465.8 254.9,466.3 256.0,466.5 256.9,466.6 257.8,466.4 258.8,466.1 259.8,465.8 260.7,466.0 261.8,466.2 262.8,466.1 263.8,465.9 264.8,465.8 265.9,466.3 266.9,466.5 267.9,466.3 269.0,465.8 270.0,465.6 271.0,465.7 272.0,465.8 273.1,465.9 274.2,466.1 275.2,466.0 276.3,465.9 277.4,466.0 278.5,466.3 279.5,466.4 280.5,465.9 281.5,466.1 282.5,466.5 283.4,466.2 284.2,466.2 285.0,466.6 286.3,466.9 287.4,466.8 288.4,466.4 289.4,466.4 290.4,466.6 291.4,466.1 292.4,466.0 293.4,466.1 294.4,466.1 295.4,466.0 296.4,465.7 297.4,465.1 298.4,464.3 299.4,463.6 300.4,463.2 301.4,462.9 302.4,462.8 303.4,462.0 304.4,461.6 305.4,461.6 306.4,461.9 307.4,462.5 308.4,463.2 309.4,463.4 310.4,463.6 311.4,463.8 312.4,464.6 313.4,465.0 314.4,465.3 315.4,466.0 316.4,466.2 317.3,465.9 318.3,466.0 319.3,466.1 320.4,466.3 321.3,466.7 322.2,467.0 323.2,466.5 324.2,466.3 325.3,466.3 326.4,466.3 327.5,466.3 328.7,466.4 330.0,466.6 330.8,466.6 331.6,466.7 332.5,466.9 333.4,467.2 334.3,466.9 335.3,466.8 336.3,466.9 337.4,466.8 338.4,466.9 339.5,467.2 340.5,467.4 341.6,467.4 342.7,467.0 343.8,467.2 344.9,467.4 346.0,466.8 347.1,467.2 348.1,467.5 349.2,467.1 350.2,467.2 351.2,467.2 352.2,467.0 353.2,466.9 354.1,466.8 355.0,466.7 356.1,466.9 357.2,467.5 358.4,467.2 359.5,467.1 360.6,467.4 361.6,467.2 362.7,467.2 363.7,467.2 364.7,467.0 365.7,466.9 366.6,466.9 367.5,466.9 368.4,467.1 369.2,467.3 370.0,467.5 371.3,467.4 372.4,467.2 373.4,466.8 374.4,467.4 375.4,467.6 376.4,467.3 377.4,467.0 378.4,466.7 379.4,466.7 380.4,466.5 381.4,466.2 382.4,466.2 383.4,465.7 384.4,465.0 385.4,464.3 386.4,463.7 387.4,463.2 388.4,462.7 389.4,462.4 390.4,462.3 391.4,462.4 392.4,463.1 393.4,463.8 394.4,464.3 395.4,464.7 396.4,465.3 397.4,465.9 398.4,466.2 399.4,466.4 400.4,466.4 401.5,466.6 402.8,466.9 404.0,467.2 405.0,467.3 405.4,467.2 405.2,467.0 405.0,466.8 405.7,467.0 407.1,467.6 408.4,467.7 409.0,467.8" stroke="#5cb25c" stroke-width="1.3" fill="none"/>
<path d="M22.0,468.7 22.1,468.8 22.4,468.9 23.0,469.2 23.7,469.5 24.5,469.4 25.5,469.2 26.6,468.8 27.7,468.5 29.0,468.7 30.3,469.3 31.6,468.5 32.9,469.1 34.3,468.6 35.6,468.6 36.8,468.8 38.0,468.6 39.0,469.0 40.0,469.0 41.1,468.5 42.2,468.3 43.4,468.3 44.5,468.5 45.6,469.0 46.7,469.3 47.7,469.5 48.7,469.2 49.6,469.1 50.5,469.1 51.3,468.8 52.0,468.4 53.2,467.8 54.2,467.1 55.2,466.4 56.1,466.6 57.0,466.1 57.9,464.9 58.9,464.8 59.8,464.5 60.7,463.8 61.6,463.2 62.6,462.7 63.5,462.5 64.4,462.7 65.3,463.1 66.2,463.0 67.2,463.1 68.1,463.6 69.0,464.4 69.9,465.1 70.8,465.7 71.8,466.2 72.7,466.5 73.6,466.5 74.6,466.9 75.7,466.9 76.7,466.0 78.0,465.8 78.8,465.8 79.6,465.9 80.5,466.1 81.4,466.4 82.4,466.6 83.4,466.8 84.5,467.0 85.6,467.2 86.6,467.5 87.8,467.8 88.9,467.7 90.0,467.4 90.9,467.1 91.8,467.3 92.7,467.8 93.7,467.4 94.7,466.9 95.6,467.1 96.7,467.1 97.7,466.9 98.7,467.2 99.7,467.4 100.8,467.5 101.8,466.9 102.9,466.6 103.9,466.6 104.9,467.0 106.0,467.1 107.0,467.0 108.0,466.5 109.0,466.2 110.0,466.5 111.0,466.7 112.1,466.7 113.1,466.3 114.1,466.0 115.2,465.7 116.2,466.0 117.2,466.1 118.2,465.7 119.2,465.5 120.2,465.3 121.2,465.2 122.3,465.3 123.3,465.3 124.3,465.1 125.3,465.0 126.4,465.2 127.4,465.3 128.5,465.4 129.5,465.4 130.5,465.3 131.5,465.3 132.5,465.7 133.5,465.4 134.6,465.0 135.6,465.3 136.7,465.7 137.7,466.2 138.7,466.2 139.8,466.3 140.8,466.4 141.9,466.4 142.9,466.3 143.9,466.2 145.0,466.5 146.0,466.6 147.0,466.5 148.0,466.2 149.0,466.0 150.0,466.2 151.1,466.2 152.1,466.2 153.2,466.8 154.3,466.8 155.4,466.5 156.5,466.6 157.6,466.7 158.6,466.7 159.7,466.4 160.8,466.7 161.8,467.1 162.8,467.2 163.7,467.2 164.7,467.2 165.6,467.3 166.4,467.3 167.2,466.9 168.0,466.6 169.2,466.4 170.3,466.6 171.3,467.0 172.2,466.9 173.1,466.6 174.0,466.1 175.1,465.5 176.2,464.8 177.1,464.0 178.0,463.8 178.6,462.9 179.2,461.9 179.6,461.2 180.1,460.2 180.5,458.8 180.8,457.9 181.1,457.0 181.4,456.2 181.6,455.4 181.9,454.5 182.1,453.5 182.3,452.1 182.5,451.0 182.6,450.3 182.8,449.2 182.9,448.1 183.0,447.4 183.1,446.5 183.2,445.3 183.3,444.0 183.4,442.7 183.5,441.3 183.6,440.4 183.6,439.8 183.7,439.3 183.7,438.5 183.8,437.6 183.9,436.4 183.9,435.1 184.0,434.0 184.0,433.0 184.0,432.1 184.1,431.5 184.1,430.8 184.2,429.1 184.2,428.2 184.3,427.6 184.3,426.3 184.4,425.2 184.4,424.1 184.4,423.0 184.5,421.8 184.5,420.7 184.6,419.7 184.6,418.2 184.6,417.3 184.7,416.9 184.7,416.0 184.7,414.5 184.8,413.5 184.8,412.6 184.8,412.0 184.8,411.3 184.9,410.3 184.9,409.5 184.9,408.6 184.9,407.5 185.0,406.6 185.0,405.7 185.0,404.2 185.0,402.7 185.1,401.7 185.1,400.7 185.1,399.9 185.1,399.3 185.2,398.2 185.2,396.7 185.2,395.9 185.2,395.1 185.3,394.2 185.3,392.7 185.3,391.5 185.3,390.8 185.4,390.0 185.4,389.0 185.4,387.8 185.4,386.5 185.5,385.3 185.5,384.3 185.5,383.1 185.5,382.2 185.6,381.6 185.6,380.4 185.6,379.3 185.7,378.3 185.7,377.0 185.7,375.8 185.7,375.0 185.8,373.8 185.8,372.6 185.8,371.6 185.9,370.0 185.9,369.1 185.9,367.9 186.0,366.4 186.0,364.9 186.1,363.7 186.1,362.6 186.1,361.2 186.2,359.9 186.2,358.6 186.2,356.5 186.3,356.0 186.3,354.7 186.3,353.1 186.4,351.9 186.4,350.7 186.5,348.8 186.5,347.6 186.5,346.7 186.6,345.7 186.6,344.7 186.6,343.1 186.7,342.2 186.7,341.4 186.7,340.1 186.7,338.7 186.8,337.3 186.8,336.4 186.8,335.6 186.9,334.7 186.9,334.0 186.9,333.6 186.9,333.1 186.9,332.4 186.9,331.7 187.0,331.2 187.0,330.7 187.0,330.4 187.0,330.1 187.0,329.9 187.0,329.8 187.0,329.7" stroke="#4050a8" stroke-width="1.3" fill="none"/>
<path d="M211.5,329.9 211.5,330.0 211.5,330.0 211.5,330.2 211.5,330.4 211.5,330.6 211.5,330.9 211.6,331.4 211.6,332.3 211.6,333.2 211.6,334.0 211.6,334.7 211.6,335.4 211.7,336.0 211.7,336.7 211.7,337.5 211.7,338.4 211.8,339.3 211.8,340.5 211.8,341.6 211.9,342.5 211.9,344.1 211.9,345.5 212.0,346.7 212.0,347.7 212.1,349.0 212.1,349.9 212.1,350.7 212.2,352.0 212.2,353.6 212.3,354.7 212.3,356.2 212.3,357.9 212.4,359.7 212.4,360.9 212.5,362.3 212.5,363.0 212.6,364.1 212.6,365.4 212.7,366.6 212.7,368.2 212.7,369.2 212.8,370.9 212.8,372.2 212.9,373.4 212.9,374.9 213.0,376.1 213.0,377.2 213.1,378.3 213.1,379.2 213.1,380.5 213.2,381.7 213.2,382.7 213.3,383.6 213.3,384.6 213.4,385.3 213.4,386.0 213.5,387.2 213.5,388.2 213.6,389.2 213.6,390.1 213.7,391.5 213.8,392.8 213.8,394.0 213.9,394.7 213.9,395.7 214.0,397.2 214.1,398.3 214.1,399.3 214.2,400.2 214.3,401.2 214.3,402.1 214.4,402.8 214.5,403.5 214.5,404.2 214.6,405.0 214.7,406.0 214.8,407.1 214.8,408.4 214.9,409.5 215.0,410.5 215.1,410.9 215.2,411.6 215.3,412.7 215.4,414.1 215.5,415.2 215.6,416.3 215.7,417.6 215.8,418.5 215.9,419.3 216.0,420.9 216.1,421.9 216.2,422.5 216.3,423.9 216.4,424.9 216.6,425.4 216.7,426.1 216.8,427.0 217.0,427.7 217.2,429.1 217.5,431.2 217.7,432.0 218.0,433.2 218.3,434.2 218.7,434.5 219.2,435.3 220.2,436.4 221.3,436.9 222.5,437.5 223.7,437.9 224.8,438.0 226.0,437.7 226.7,438.4 227.5,439.3 228.2,440.7 228.9,441.4 229.6,442.3 230.2,443.6 230.7,443.9 231.1,444.5 231.5,445.3 231.8,447.0 232.2,448.2 232.6,448.8 233.0,450.1 233.4,451.1 233.9,452.1 234.4,453.3 234.9,454.4 235.5,455.4 236.0,456.3 236.6,457.1 237.2,457.8 237.9,458.2 238.5,459.1 239.2,460.2 239.9,460.4 240.6,460.9 241.3,461.8 242.0,462.7 243.0,463.5 244.0,463.5 245.0,464.0 246.1,464.5 247.1,465.0 248.2,465.1 249.3,465.5 250.3,466.0 251.4,466.2 252.5,466.1 253.5,465.9 254.6,466.6 255.7,466.5 256.8,466.1 258.0,466.7 258.9,466.6 259.8,466.4 260.8,466.2 261.8,466.1 262.7,466.1 263.7,466.6 264.8,467.1 265.8,466.9 266.8,466.7 267.9,466.5 268.9,466.7 270.0,466.9 271.0,467.1 272.0,467.1 273.0,466.9 274.1,466.6 275.2,466.4 276.2,466.4 277.3,466.6 278.4,467.0 279.5,467.1 280.5,467.0 281.5,466.9 282.5,467.0 283.4,467.1 284.2,467.0 285.0,466.8 286.3,466.8 287.4,467.1 288.4,467.3 289.4,467.0 290.4,466.7 291.4,467.2 292.4,466.9 293.4,466.2 294.4,466.5 295.4,466.5 296.4,466.2 297.4,465.5 298.4,465.2 299.4,465.4 300.4,464.6 301.4,463.9 302.4,463.2 303.4,463.0 304.4,462.9 305.4,462.9 306.4,462.9 307.4,463.0 308.4,463.0 309.4,463.5 310.4,464.2 311.4,465.1 312.4,465.1 313.4,465.3 314.4,465.8 315.4,466.6 316.4,467.0 317.3,467.2 318.3,467.3 319.3,467.2 320.4,466.7 321.3,466.5 322.2,466.5 323.2,467.0 324.2,467.4 325.3,467.3 326.4,467.2 327.5,467.0 328.7,466.7 330.0,467.1 330.8,467.2 331.6,467.1 332.5,467.2 333.4,467.4 334.3,467.7 335.3,467.8 336.3,467.3 337.4,467.0 338.4,467.0 339.5,467.5 340.5,467.4 341.6,467.0 342.7,467.1 343.8,467.3 344.9,467.5 346.0,468.0 347.1,467.7 348.1,467.3 349.2,467.3 350.2,467.4 351.2,467.5 352.2,467.3 353.2,467.3 354.1,467.4 355.0,467.6 356.1,467.8 357.2,467.5 358.4,467.7 359.5,467.8 360.6,467.4 361.6,467.2 362.7,467.4 363.7,467.8 364.7,467.8 365.7,467.7 366.6,468.1 367.5,468.0 368.4,467.5 369.2,467.6 370.0,468.0 371.3,468.1 372.4,468.0 373.4,467.8 374.4,467.7 375.4,467.6 376.4,467.9 377.4,468.1 378.4,468.0 379.4,467.7 380.4,467.4 381.4,467.0 382.4,466.8 383.4,466.4 384.4,465.8 385.4,465.2 386.4,464.6 387.4,464.0 388.4,463.8 389.4,463.6 390.4,463.6 391.4,464.0 392.4,464.5 393.4,464.9 394.4,465.0 395.4,465.2 396.4,465.5 397.4,465.9 398.4,466.5 399.4,467.2 400.4,467.7 401.5,467.6 402.8,467.8 404.0,468.3 405.0,468.6 405.4,468.5 405.2,468.0 405.0,467.6 405.7,467.3 407.1,468.1 408.4,468.2 409.0,468.2" stroke="#4050a8" stroke-width="1.3" fill="none"/>
<path d="M22.0,468.3 22.1,468.3 22.4,468.1 23.0,467.8 23.7,467.5 24.5,467.6 25.5,467.8 26.6,468.3 27.7,467.7 29.0,467.4 30.3,467.6 31.6,467.7 32.9,467.9 34.3,467.9 35.6,468.0 36.8,468.1 38.0,467.8 39.0,467.3 40.0,467.0 41.1,467.1 42.2,467.1 43.4,467.3 44.5,467.7 45.6,467.4 46.7,467.6 47.7,468.0 48.7,468.1 49.6,468.0 50.5,467.6 51.3,467.6 52.0,467.8 53.0,467.0 53.8,466.2 54.5,465.7 55.2,464.3 55.8,463.4 56.3,462.7 56.9,461.8 57.5,460.6 58.0,459.4 58.6,458.9 59.2,457.6 59.8,456.3 60.4,455.5 61.1,454.4 61.8,453.6 62.4,452.6 63.1,451.4 63.7,450.5 64.4,450.1 65.1,450.4 65.7,451.2 66.4,452.4 67.0,453.7 67.7,454.6 68.4,455.5 69.0,457.1 69.6,457.8 70.1,458.7 70.7,459.9 71.2,460.9 71.8,461.9 72.3,463.1 72.9,464.3 73.6,464.8 74.6,465.3 75.6,465.5 76.7,465.4 78.0,465.4 78.8,465.4 79.6,465.2 80.5,464.8 81.4,464.7 82.4,464.8 83.4,465.4 84.5,465.5 85.6,465.3 86.6,465.3 87.8,465.0 88.9,464.8 90.0,464.7 90.9,465.0 91.8,465.4 92.7,465.1 93.7,464.8 94.7,464.4 95.7,464.4 96.7,464.5 97.7,464.5 98.7,464.3 99.7,464.1 100.8,464.7 101.8,465.0 102.9,464.9 103.9,464.8 104.9,464.5 106.0,463.8 107.0,463.8 108.0,464.0 109.0,463.7 110.0,463.8 111.0,464.2 112.1,464.2 113.1,464.2 114.1,464.1 115.2,464.0 116.2,463.7 117.2,463.1 118.2,462.8 119.2,462.7 120.2,462.7 121.2,463.0 122.3,463.5 123.3,463.4 124.3,463.2 125.3,462.9 126.4,462.6 127.4,462.7 128.5,463.2 129.5,462.7 130.5,462.4 131.5,462.6 132.5,462.5 133.5,462.5 134.6,463.3 135.6,463.3 136.7,463.0 137.7,463.4 138.7,463.6 139.8,463.7 140.8,463.6 141.9,463.8 142.9,464.2 143.9,464.1 145.0,464.1 146.0,464.3 147.0,464.4 148.0,464.3 149.0,463.6 150.0,463.9 151.1,464.3 152.1,463.9 153.2,463.8 154.3,463.9 155.4,464.0 156.5,464.4 157.6,464.6 158.6,463.9 159.7,464.0 160.8,464.2 161.8,464.0 162.8,464.4 163.7,464.9 164.7,464.6 165.6,464.4 166.4,464.5 167.2,464.5 168.0,464.4 169.2,464.4 170.3,464.4 171.3,463.9 172.2,463.7 173.1,463.7 174.0,463.8 175.1,464.0 176.2,464.1 177.1,464.1 178.0,464.0 178.7,463.0 179.2,462.0 179.7,461.4 180.1,460.4 180.5,459.2 180.8,458.2 181.1,457.2 181.4,456.1 181.6,455.2 181.9,454.0 182.1,452.6 182.3,451.5 182.5,450.7 182.6,449.9 182.8,448.8 182.9,447.7 183.0,446.6 183.1,446.0 183.2,445.3 183.3,444.2 183.4,442.9 183.5,441.4 183.6,440.4 183.6,439.8 183.7,439.2 183.7,438.4 183.8,437.6 183.9,436.5 183.9,435.4 184.0,434.1 184.0,433.3 184.0,432.5 184.1,431.4 184.1,430.2 184.2,429.1 184.2,428.0 184.3,427.1 184.3,426.6 184.4,425.4 184.4,424.3 184.4,423.5 184.5,421.8 184.5,420.4 184.6,419.4 184.6,418.4 184.6,417.4 184.7,416.2 184.7,415.4 184.7,414.7 184.8,413.9 184.8,413.1 184.8,412.1 184.8,411.3 184.9,410.7 184.9,409.5 184.9,408.3 184.9,407.4 185.0,406.4 185.0,405.4 185.0,404.5 185.0,403.4 185.1,402.1 185.1,400.8 185.1,399.9 185.1,399.6 185.2,398.6 185.2,397.3 185.2,395.7 185.2,394.5 185.3,393.5 185.3,392.5 185.3,391.7 185.3,390.8 185.4,389.4 185.4,388.1 185.4,387.0 185.4,386.4 185.5,385.1 185.5,383.8 185.5,382.9 185.5,381.9 185.6,380.9 185.6,379.7 185.6,378.6 185.7,377.5 185.7,376.6 185.7,375.6 185.7,374.5 185.8,373.4 185.8,372.3 185.8,371.2 185.9,369.9 185.9,368.6 185.9,367.1 186.0,366.1 186.0,365.3 186.1,363.9 186.1,362.3 186.1,360.6 186.2,359.2 186.2,358.3 186.2,357.4 186.3,355.6 186.3,354.0 186.3,353.2 186.4,352.2 186.4,350.6 186.5,348.8 186.5,347.9 186.5,346.7 186.6,345.3 186.6,343.9 186.6,342.9 186.7,342.0 186.7,341.1 186.7,340.1 186.7,339.0 186.8,338.0 186.8,337.1 186.8,336.1 186.9,335.1 186.9,334.2 186.9,333.3 186.9,332.5 186.9,331.9 186.9,331.3 187.0,331.1 187.0,330.9 187.0,330.8 187.0,330.7 187.0,330.6 187.0,330.4 187.0,330.4" stroke="#c8386a" stroke-width="1.3" fill="none"/>
<path d="M211.5,330.5 211.5,330.5 211.5,330.5 211.5,330.6 211.5,330.7 211.5,330.8 211.5,331.0 211.6,331.4 211.6,332.2 211.6,333.1 211.6,333.7 211.6,334.1 211.6,334.6 211.7,335.6 211.7,336.5 211.7,337.3 211.7,338.4 211.8,339.9 211.8,340.9 211.8,342.0 211.9,343.1 211.9,343.9 211.9,345.1 212.0,346.6 212.0,347.2 212.1,348.6 212.1,350.0 212.1,351.3 212.2,352.2 212.2,353.6 212.3,354.7 212.3,356.4 212.3,357.9 212.4,358.7 212.4,360.0 212.5,361.5 212.5,363.2 212.6,364.6 212.6,365.9 212.7,367.2 212.7,368.9 212.7,370.1 212.8,370.9 212.8,372.1 212.9,373.5 212.9,374.4 213.0,375.6 213.0,376.7 213.1,377.8 213.1,378.9 213.1,380.1 213.2,381.4 213.2,382.8 213.3,383.8 213.3,384.5 213.4,385.0 213.4,385.5 213.5,386.8 213.5,388.4 213.5,389.8 213.6,390.9 213.6,391.7 213.6,392.9 213.7,394.5 213.7,396.0 213.7,397.3 213.7,398.0 213.8,399.4 213.8,400.8 213.8,401.5 213.9,402.7 213.9,403.9 214.0,404.8 214.1,405.6 214.2,406.3 214.3,407.3 214.4,408.3 214.5,409.0 214.7,409.3 214.8,409.6 215.0,409.9 215.7,410.5 216.5,410.9 217.0,411.8 217.6,413.2 218.1,414.6 218.7,415.6 219.2,415.9 219.5,415.6 219.9,415.0 220.2,414.1 220.6,413.2 220.9,412.2 221.2,411.0 221.6,410.0 221.9,408.9 222.3,407.7 222.6,406.4 223.0,405.0 223.4,403.7 223.9,402.8 224.3,401.4 224.8,399.9 225.3,398.9 225.7,397.8 226.2,396.4 226.7,396.0 227.2,395.6 227.6,395.3 228.2,395.5 228.8,396.1 229.4,397.1 230.0,398.6 230.5,400.0 231.0,401.6 231.2,402.5 231.4,403.3 231.6,404.1 231.8,404.9 231.9,405.5 232.1,406.3 232.2,407.7 232.3,408.7 232.4,409.9 232.5,411.4 232.6,412.1 232.7,413.0 232.8,414.0 232.9,414.9 233.1,416.1 233.2,417.5 233.3,418.6 233.5,419.5 233.7,420.4 233.8,421.2 234.0,422.4 234.2,423.6 234.4,424.3 234.6,425.2 234.8,426.3 235.0,427.5 235.2,428.6 235.4,429.5 235.6,430.6 235.8,431.6 236.0,432.6 236.2,433.5 236.4,434.4 236.7,435.2 236.9,435.9 237.2,436.9 237.4,438.2 237.7,439.6 237.9,441.0 238.2,441.7 238.5,442.3 238.7,443.3 239.0,444.3 239.3,445.2 239.7,446.5 240.0,447.5 240.3,448.2 240.7,449.2 241.1,450.2 241.6,450.5 242.1,451.3 242.7,452.3 243.2,453.3 243.8,454.2 244.4,455.2 245.0,456.0 245.7,456.8 246.3,457.5 247.0,458.5 247.9,459.5 248.8,459.8 249.8,460.5 250.7,461.3 251.7,462.1 252.7,462.3 253.7,462.6 254.7,463.1 255.7,463.6 256.7,463.7 257.8,463.6 258.9,463.5 260.0,464.2 260.9,464.8 261.8,464.6 262.8,464.5 263.7,464.6 264.7,464.3 265.7,464.1 266.8,464.6 267.8,464.6 268.9,464.4 270.0,464.6 270.9,464.5 271.9,464.3 272.9,464.8 274.0,464.9 275.1,464.5 276.1,464.4 277.2,464.6 278.3,465.1 279.4,464.6 280.4,464.4 281.5,464.5 282.4,464.6 283.4,464.8 284.2,465.2 285.0,465.2 286.3,464.4 287.4,464.5 288.4,464.8 289.4,465.3 290.4,464.8 291.4,464.4 292.4,464.6 293.4,464.7 294.4,464.8 295.4,464.4 296.4,464.0 297.4,463.3 298.4,462.0 299.4,461.9 300.4,461.3 301.4,460.4 302.4,460.1 303.4,459.4 304.4,458.9 305.4,459.0 306.4,459.0 307.4,459.1 308.4,459.6 309.4,460.1 310.4,460.9 311.4,461.6 312.4,461.9 313.4,462.6 314.4,463.6 315.4,464.5 316.4,464.6 317.3,464.8 318.3,465.2 319.3,464.8 320.4,464.6 321.3,464.9 322.2,465.0 323.2,465.1 324.2,464.8 325.3,464.8 326.3,464.9 327.5,465.5 328.7,465.7 330.0,465.5 330.8,465.4 331.6,465.4 332.5,465.5 333.4,465.6 334.3,465.8 335.3,465.9 336.3,465.8 337.4,465.6 338.4,465.2 339.5,465.1 340.5,465.8 341.6,465.4 342.7,465.1 343.8,465.2 344.9,465.1 346.0,465.2 347.1,465.5 348.1,465.6 349.2,465.6 350.2,465.5 351.2,465.5 352.2,465.5 353.2,465.2 354.1,465.4 355.0,465.8 356.1,465.7 357.2,465.6 358.4,465.4 359.5,465.9 360.6,466.1 361.6,466.2 362.7,466.2 363.7,466.2 364.7,466.3 365.7,465.6 366.6,465.3 367.5,465.5 368.4,465.7 369.2,465.7 370.0,465.7 371.3,465.6 372.4,466.1 373.4,466.3 374.4,466.4 375.4,465.8 376.4,465.6 377.4,465.8 378.4,466.0 379.4,466.0 380.4,465.7 381.4,465.0 382.4,464.1 383.4,463.1 384.4,462.8 385.4,462.4 386.4,461.9 387.4,461.5 388.4,460.6 389.4,459.9 390.4,459.8 391.4,460.4 392.4,461.0 393.4,460.7 394.4,461.8 395.4,462.3 396.4,462.6 397.4,463.8 398.4,464.3 399.4,464.8 400.4,465.7 401.5,465.4 402.8,465.9 404.0,466.2 405.0,465.8 405.4,465.6 405.2,465.2 405.0,464.8 405.7,464.8 407.1,465.2 408.4,465.6 409.0,465.9" stroke="#c8386a" stroke-width="1.3" fill="none"/>
<path d="M22.0,469.6 22.1,469.5 22.3,469.4 22.6,469.3 23.1,469.1 23.6,468.9 24.3,469.1 25.1,469.3 25.9,469.0 26.9,468.6 27.9,469.0 29.0,469.2 30.1,469.2 31.3,468.8 32.6,469.1 33.8,469.2 35.1,469.1 36.5,469.1 37.8,469.6 39.2,469.5 40.5,469.1 41.9,468.8 43.2,468.8 44.5,468.7 45.8,468.9 47.0,469.2 48.2,469.5 49.4,469.8 50.4,469.7 51.4,469.7 52.4,469.5 53.2,469.0 54.0,468.6 55.2,469.0 56.4,469.0 57.4,468.8 58.4,468.4 59.4,468.3 60.3,468.5 61.2,468.1 62.1,467.6 63.0,467.2 64.0,467.0 65.0,467.0 66.0,467.0 66.9,467.1 67.9,467.6 68.8,467.8 69.8,468.0 70.8,468.3 71.8,468.2 72.9,467.6 74.0,467.6 74.9,467.8 75.8,468.5 76.7,468.6 77.6,468.1 78.5,468.0 79.4,468.0 80.4,468.4 81.3,468.5 82.3,467.9 83.3,468.1 84.4,468.5 85.4,468.6 86.5,468.4 87.6,468.1 88.8,468.1 90.0,467.7 90.8,467.5 91.6,467.8 92.5,468.1 93.4,468.1 94.3,468.1 95.3,468.2 96.2,468.0 97.2,467.8 98.2,467.4 99.2,467.3 100.3,467.4 101.3,467.7 102.4,467.6 103.4,467.1 104.5,467.1 105.6,467.1 106.7,467.2 107.8,467.7 108.9,467.6 110.0,467.4 111.1,467.2 112.2,467.5 113.3,467.7 114.4,467.4 115.5,467.1 116.6,467.0 117.7,467.2 118.7,467.4 119.8,467.4 120.8,467.0 121.9,467.0 122.9,467.0 123.9,467.1 124.8,467.3 125.8,467.6 126.7,467.3 127.6,467.1 128.5,466.8 129.7,466.8 130.8,467.1 131.9,466.9 133.0,466.9 134.1,467.1 135.2,467.3 136.2,467.0 137.2,466.7 138.2,467.1 139.3,467.1 140.3,467.0 141.2,467.3 142.2,467.5 143.2,467.7 144.2,467.6 145.1,467.4 146.1,467.6 147.1,467.5 148.1,467.3 149.0,467.3 150.0,467.3 151.1,467.6 152.1,467.7 153.2,467.7 154.3,467.5 155.4,467.8 156.5,468.1 157.6,467.9 158.6,467.8 159.7,467.7 160.8,467.7 161.8,468.0 162.8,468.4 163.7,468.5 164.7,468.5 165.6,468.5 166.4,468.2 167.2,467.8 168.0,467.6 169.2,467.6 170.3,468.1 171.3,467.8 172.3,467.4 173.1,467.8 174.0,467.9 174.9,467.2 175.8,466.2 176.6,465.2 177.3,464.3 178.0,463.6 178.6,462.6 179.1,461.4 179.6,460.7 180.1,460.0 180.5,459.3 180.8,458.4 181.1,457.4 181.4,456.3 181.6,455.0 181.9,453.7 182.1,452.7 182.3,451.7 182.5,450.7 182.6,449.6 182.8,448.8 182.9,448.3 183.0,447.3 183.1,446.3 183.2,445.5 183.3,444.1 183.4,442.9 183.5,441.9 183.6,440.9 183.6,439.8 183.7,439.0 183.7,438.1 183.8,437.0 183.9,436.1 183.9,435.3 184.0,434.7 184.0,433.9 184.0,432.5 184.1,431.2 184.1,429.8 184.2,429.1 184.2,428.1 184.3,426.9 184.3,426.2 184.4,425.2 184.4,424.1 184.4,422.9 184.5,422.0 184.5,421.2 184.6,420.0 184.6,418.4 184.6,417.1 184.7,416.2 184.7,415.4 184.7,414.9 184.8,414.2 184.8,413.2 184.8,412.2 184.8,411.3 184.9,410.2 184.9,409.0 184.9,407.7 184.9,407.0 185.0,406.3 185.0,405.6 185.0,404.5 185.0,403.3 185.1,401.9 185.1,400.7 185.1,399.7 185.1,399.3 185.2,398.5 185.2,397.2 185.2,395.8 185.2,394.7 185.3,394.1 185.3,393.3 185.3,392.3 185.3,391.2 185.4,390.0 185.4,388.8 185.4,387.9 185.4,386.4 185.5,385.0 185.5,384.2 185.5,383.4 185.5,382.4 185.6,380.9 185.6,379.7 185.6,378.8 185.7,378.3 185.7,377.4 185.7,376.1 185.7,374.4 185.8,373.1 185.8,372.1 185.8,371.4 185.9,370.5 185.9,369.1 185.9,367.8 186.0,366.6 186.0,364.5 186.1,363.6 186.1,362.1 186.1,360.7 186.2,359.4 186.2,358.0 186.2,356.9 186.3,355.2 186.3,354.3 186.3,353.2 186.4,352.0 186.4,350.9 186.5,349.5 186.5,347.7 186.5,346.6 186.6,345.8 186.6,344.4 186.6,343.5 186.7,342.3 186.7,340.9 186.7,339.5 186.7,338.6 186.8,338.0 186.8,336.9 186.8,335.7 186.9,335.4 186.9,335.0 186.9,334.0 186.9,333.1 186.9,332.6 186.9,332.2 187.0,331.9 187.0,331.4 187.0,330.9 187.0,330.5 187.0,330.3 187.0,330.1 187.0,330.1" stroke="#1f1f1f" stroke-width="1.4" fill="none"/>
<path d="M211.5,329.8 211.5,329.8 211.5,330.0 211.5,330.2 211.5,330.5 211.5,330.9 211.5,331.4 211.5,331.9 211.6,332.5 211.6,333.1 211.6,333.6 211.6,334.2 211.6,334.8 211.7,335.5 211.7,336.2 211.7,337.2 211.7,338.2 211.7,339.4 211.8,340.2 211.8,340.9 211.8,341.9 211.9,343.2 211.9,344.6 211.9,345.9 212.0,346.7 212.0,347.7 212.0,349.2 212.1,351.1 212.1,351.9 212.2,353.2 212.2,354.6 212.2,355.5 212.3,356.6 212.3,358.3 212.4,360.1 212.4,361.5 212.5,362.5 212.5,363.4 212.5,365.3 212.6,366.6 212.6,367.8 212.7,369.2 212.7,370.5 212.8,371.7 212.8,372.6 212.9,374.2 212.9,375.4 213.0,376.2 213.0,377.5 213.1,379.1 213.1,380.4 213.2,381.2 213.2,382.2 213.3,383.3 213.3,384.4 213.4,385.2 213.4,386.0 213.5,387.0 213.5,388.2 213.6,389.4 213.7,390.1 213.7,391.3 213.8,392.5 213.9,393.4 213.9,395.2 214.0,396.7 214.1,397.7 214.1,398.5 214.2,399.3 214.3,400.0 214.3,401.6 214.4,402.7 214.5,403.3 214.6,404.7 214.6,405.9 214.7,406.8 214.8,407.8 214.9,408.8 214.9,409.8 215.0,410.6 215.1,411.2 215.2,412.6 215.3,413.7 215.4,414.4 215.4,415.4 215.5,416.4 215.6,417.4 215.7,418.3 215.8,418.8 215.9,419.3 216.0,420.7 216.2,421.9 216.3,422.9 216.4,423.8 216.6,425.6 216.7,426.8 216.9,427.7 217.0,428.6 217.2,429.6 217.3,430.6 217.5,431.9 217.6,432.8 217.8,433.1 218.0,434.1 218.2,435.3 218.4,436.5 218.6,437.6 218.9,438.6 219.1,439.6 219.4,440.5 219.6,441.3 219.9,442.3 220.2,443.4 220.5,444.7 220.8,445.5 221.1,446.3 221.4,447.7 221.8,448.7 222.3,449.7 222.7,450.8 223.2,451.4 223.7,452.0 224.3,453.1 224.8,453.8 225.5,454.5 226.1,455.5 226.8,456.3 227.5,457.0 228.3,458.1 229.1,459.2 229.9,460.1 230.7,460.7 231.6,461.0 232.5,461.5 233.4,462.0 234.3,463.0 235.2,463.5 236.2,463.3 237.2,464.3 238.3,465.0 239.3,465.3 240.3,464.9 241.4,465.3 242.5,466.1 243.6,466.1 244.6,466.0 245.5,466.0 246.5,466.1 247.4,466.3 248.4,466.5 249.4,466.6 250.5,466.6 251.5,466.9 252.6,467.1 253.7,467.1 254.6,466.8 255.6,466.5 256.5,466.3 257.5,466.7 258.5,467.2 259.6,467.1 260.6,467.1 261.6,467.1 262.7,466.6 263.8,466.4 264.8,466.5 265.9,467.2 266.9,467.2 268.0,466.8 269.0,466.9 270.0,467.2 271.0,467.5 272.1,467.0 273.2,466.8 274.2,467.1 275.3,466.7 276.4,466.7 277.5,467.0 278.5,467.2 279.6,467.1 280.6,466.6 281.6,466.9 282.5,467.3 283.4,467.5 284.2,467.5 285.0,467.4 286.3,467.4 287.4,467.5 288.4,467.7 289.4,467.7 290.4,467.5 291.4,467.4 292.4,467.4 293.4,467.5 294.4,467.4 295.4,467.2 296.4,466.8 297.4,466.4 298.4,466.0 299.4,465.2 300.4,464.9 301.4,464.6 302.4,464.3 303.4,464.2 304.4,464.3 305.4,464.2 306.4,464.0 307.4,463.9 308.4,464.8 309.4,465.0 310.4,464.6 311.4,465.0 312.4,465.5 313.4,466.0 314.4,466.2 315.4,466.6 316.4,467.4 317.3,467.3 318.3,467.0 319.3,467.1 320.4,467.4 321.3,467.8 322.2,467.6 323.1,467.5 324.1,467.6 325.2,467.6 326.2,467.6 327.4,467.6 328.7,468.1 330.0,468.0 330.7,467.6 331.5,467.7 332.3,467.9 333.1,467.9 334.0,467.9 335.0,467.7 335.9,467.5 336.9,467.5 338.0,467.7 339.0,468.0 340.1,468.3 341.2,468.2 342.3,467.9 343.4,467.6 344.5,468.1 345.7,468.4 346.8,467.7 348.0,468.3 349.1,468.2 350.3,467.7 351.4,468.2 352.6,468.0 353.7,467.8 354.8,467.9 355.9,468.0 356.9,468.2 358.0,468.5 359.0,468.3 359.9,468.2 360.9,468.2 361.8,468.2 362.7,468.2 363.5,468.2 364.3,468.3 365.0,468.2 366.3,468.2 367.5,468.8 368.7,468.3 369.8,468.0 370.8,468.0 371.8,468.3 372.8,468.5 373.7,468.4 374.5,468.4 375.4,468.7 376.5,468.3 377.5,467.9 378.5,468.3 379.4,468.3 380.4,467.9 381.4,468.0 382.4,467.7 383.4,466.9 384.4,466.6 385.4,466.3 386.4,465.8 387.4,465.6 388.4,465.3 389.4,464.9 390.4,465.0 391.4,465.3 392.4,465.3 393.4,465.7 394.4,466.2 395.4,466.2 396.4,466.5 397.4,467.0 398.4,467.5 399.4,467.9 400.4,468.3 401.4,468.4 402.4,468.4 403.5,468.3 404.5,468.1 405.4,468.0 406.9,468.1 408.4,468.2 409.0,468.2" stroke="#1f1f1f" stroke-width="1.4" fill="none"/>
</g>
<text transform="translate(195.4,464.6) rotate(-90)" class="mono">Monomers</text>
<text x="252.3" y="366.6" class="title">C: Engineered</text>
<text x="252.3" y="387.6" class="title">Protein 2</text>
</svg></body></html>
